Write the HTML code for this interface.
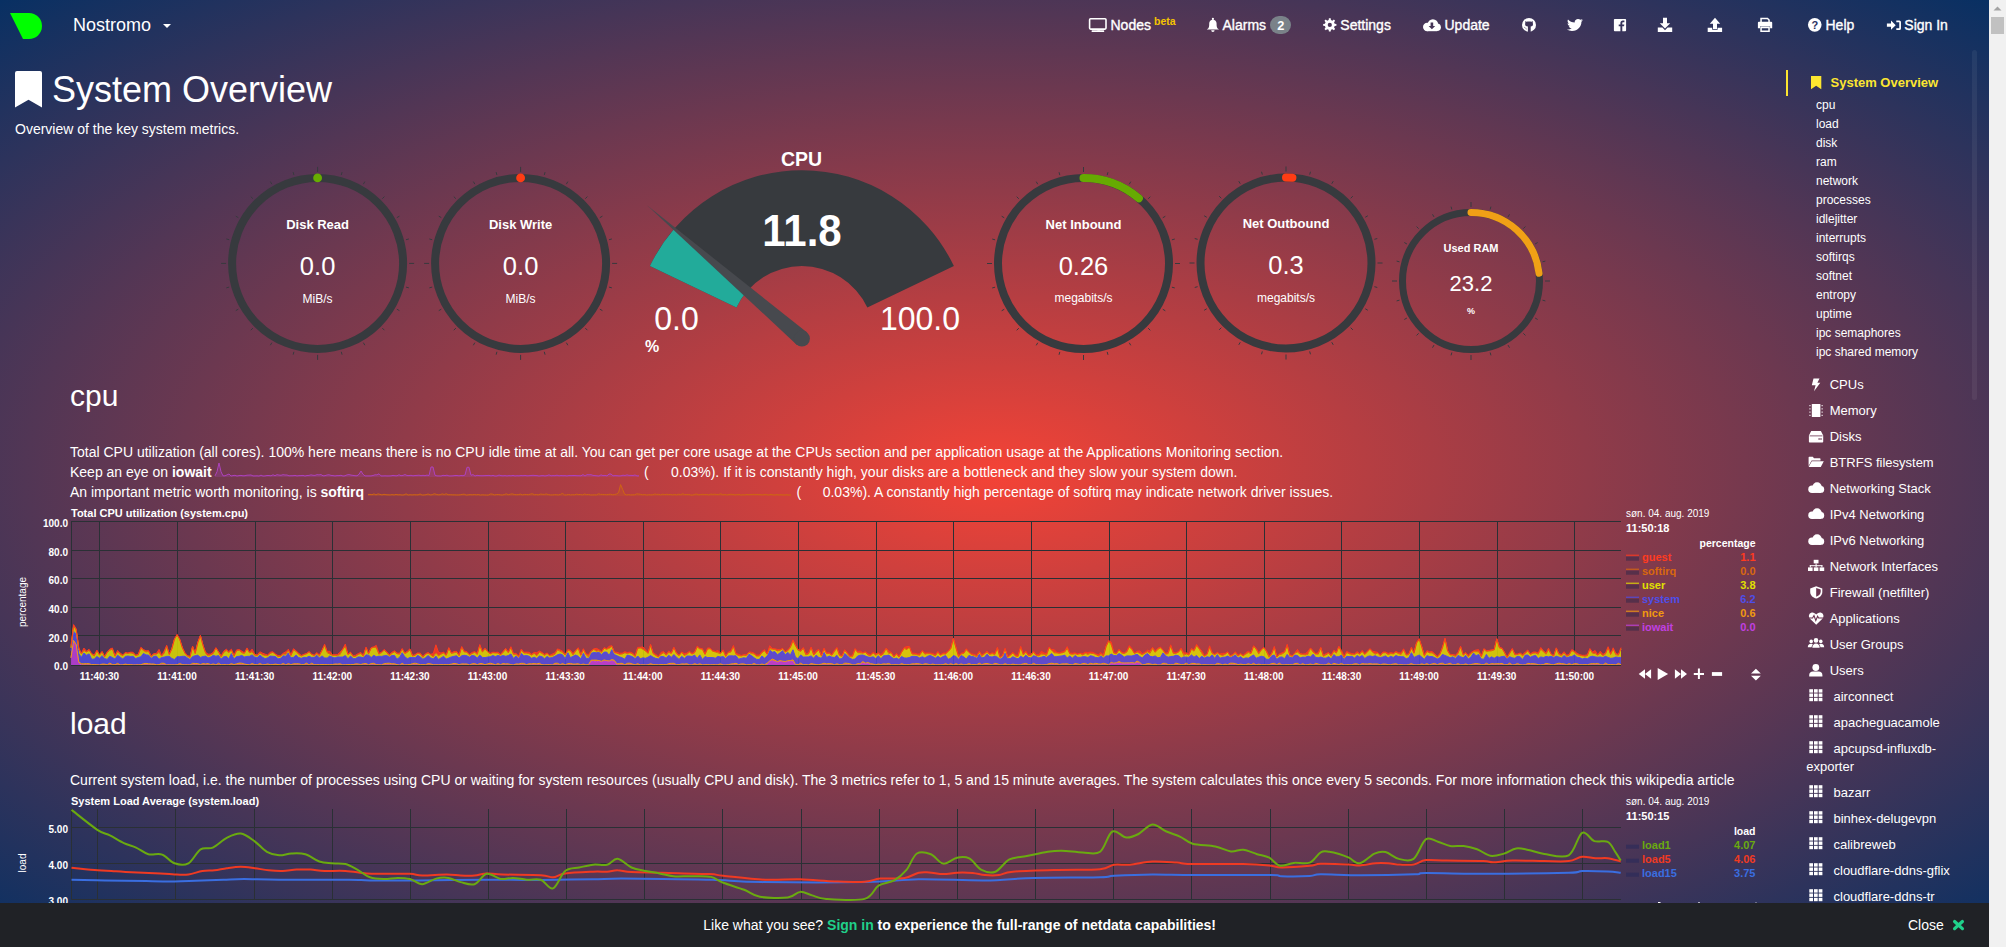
<!DOCTYPE html>
<html><head><meta charset="utf-8"><title>netdata dashboard</title>
<style>
*{margin:0;padding:0;box-sizing:border-box}
html,body{width:2006px;height:947px;overflow:hidden;background:#083063}
body{font-family:"Liberation Sans", sans-serif;position:relative}
#bg{position:absolute;left:0;top:0;width:1989px;height:947px;background:radial-gradient(ellipse at center,#f44336 0%,#083063 100%)}
svg{position:absolute;left:0;top:0;font-family:"Liberation Sans", sans-serif}
</style></head><body>
<div id="bg"></div>
<svg width="2006" height="947" viewBox="0 0 2006 947">
<line x1="317.60" y1="171.90" x2="317.60" y2="166.90" stroke="#373a3e" stroke-width="1"/>
<line x1="341.28" y1="175.02" x2="342.06" y2="172.12" stroke="#373a3e" stroke-width="1"/>
<line x1="363.35" y1="184.16" x2="364.85" y2="181.56" stroke="#373a3e" stroke-width="1"/>
<line x1="382.30" y1="198.70" x2="384.42" y2="196.58" stroke="#373a3e" stroke-width="1"/>
<line x1="396.84" y1="217.65" x2="399.44" y2="216.15" stroke="#373a3e" stroke-width="1"/>
<line x1="405.98" y1="239.72" x2="408.88" y2="238.94" stroke="#373a3e" stroke-width="1"/>
<line x1="409.10" y1="263.40" x2="414.10" y2="263.40" stroke="#373a3e" stroke-width="1"/>
<line x1="405.98" y1="287.08" x2="408.88" y2="287.86" stroke="#373a3e" stroke-width="1"/>
<line x1="396.84" y1="309.15" x2="399.44" y2="310.65" stroke="#373a3e" stroke-width="1"/>
<line x1="382.30" y1="328.10" x2="384.42" y2="330.22" stroke="#373a3e" stroke-width="1"/>
<line x1="363.35" y1="342.64" x2="364.85" y2="345.24" stroke="#373a3e" stroke-width="1"/>
<line x1="341.28" y1="351.78" x2="342.06" y2="354.68" stroke="#373a3e" stroke-width="1"/>
<line x1="317.60" y1="354.90" x2="317.60" y2="359.90" stroke="#373a3e" stroke-width="1"/>
<line x1="293.92" y1="351.78" x2="293.14" y2="354.68" stroke="#373a3e" stroke-width="1"/>
<line x1="271.85" y1="342.64" x2="270.35" y2="345.24" stroke="#373a3e" stroke-width="1"/>
<line x1="252.90" y1="328.10" x2="250.78" y2="330.22" stroke="#373a3e" stroke-width="1"/>
<line x1="238.36" y1="309.15" x2="235.76" y2="310.65" stroke="#373a3e" stroke-width="1"/>
<line x1="229.22" y1="287.08" x2="226.32" y2="287.86" stroke="#373a3e" stroke-width="1"/>
<line x1="226.10" y1="263.40" x2="221.10" y2="263.40" stroke="#373a3e" stroke-width="1"/>
<line x1="229.22" y1="239.72" x2="226.32" y2="238.94" stroke="#373a3e" stroke-width="1"/>
<line x1="238.36" y1="217.65" x2="235.76" y2="216.15" stroke="#373a3e" stroke-width="1"/>
<line x1="252.90" y1="198.70" x2="250.78" y2="196.58" stroke="#373a3e" stroke-width="1"/>
<line x1="271.85" y1="184.16" x2="270.35" y2="181.56" stroke="#373a3e" stroke-width="1"/>
<line x1="293.92" y1="175.02" x2="293.14" y2="172.12" stroke="#373a3e" stroke-width="1"/>
<circle cx="317.6" cy="263.4" r="85.5" fill="none" stroke="#373a3e" stroke-width="8"/>
<circle cx="317.6" cy="177.89999999999998" r="4.4" fill="#68ad02"/>
<text x="317.6" y="229" font-size="13" font-weight="bold" fill="#fff" text-anchor="middle" >Disk Read</text>
<text x="317.6" y="274.5" font-size="25.5" font-weight="normal" fill="#fff" text-anchor="middle" >0.0</text>
<text x="317.6" y="302.5" font-size="12" font-weight="normal" fill="#fff" text-anchor="middle" >MiB/s</text>
<line x1="520.60" y1="171.90" x2="520.60" y2="166.90" stroke="#373a3e" stroke-width="1"/>
<line x1="544.28" y1="175.02" x2="545.06" y2="172.12" stroke="#373a3e" stroke-width="1"/>
<line x1="566.35" y1="184.16" x2="567.85" y2="181.56" stroke="#373a3e" stroke-width="1"/>
<line x1="585.30" y1="198.70" x2="587.42" y2="196.58" stroke="#373a3e" stroke-width="1"/>
<line x1="599.84" y1="217.65" x2="602.44" y2="216.15" stroke="#373a3e" stroke-width="1"/>
<line x1="608.98" y1="239.72" x2="611.88" y2="238.94" stroke="#373a3e" stroke-width="1"/>
<line x1="612.10" y1="263.40" x2="617.10" y2="263.40" stroke="#373a3e" stroke-width="1"/>
<line x1="608.98" y1="287.08" x2="611.88" y2="287.86" stroke="#373a3e" stroke-width="1"/>
<line x1="599.84" y1="309.15" x2="602.44" y2="310.65" stroke="#373a3e" stroke-width="1"/>
<line x1="585.30" y1="328.10" x2="587.42" y2="330.22" stroke="#373a3e" stroke-width="1"/>
<line x1="566.35" y1="342.64" x2="567.85" y2="345.24" stroke="#373a3e" stroke-width="1"/>
<line x1="544.28" y1="351.78" x2="545.06" y2="354.68" stroke="#373a3e" stroke-width="1"/>
<line x1="520.60" y1="354.90" x2="520.60" y2="359.90" stroke="#373a3e" stroke-width="1"/>
<line x1="496.92" y1="351.78" x2="496.14" y2="354.68" stroke="#373a3e" stroke-width="1"/>
<line x1="474.85" y1="342.64" x2="473.35" y2="345.24" stroke="#373a3e" stroke-width="1"/>
<line x1="455.90" y1="328.10" x2="453.78" y2="330.22" stroke="#373a3e" stroke-width="1"/>
<line x1="441.36" y1="309.15" x2="438.76" y2="310.65" stroke="#373a3e" stroke-width="1"/>
<line x1="432.22" y1="287.08" x2="429.32" y2="287.86" stroke="#373a3e" stroke-width="1"/>
<line x1="429.10" y1="263.40" x2="424.10" y2="263.40" stroke="#373a3e" stroke-width="1"/>
<line x1="432.22" y1="239.72" x2="429.32" y2="238.94" stroke="#373a3e" stroke-width="1"/>
<line x1="441.36" y1="217.65" x2="438.76" y2="216.15" stroke="#373a3e" stroke-width="1"/>
<line x1="455.90" y1="198.70" x2="453.78" y2="196.58" stroke="#373a3e" stroke-width="1"/>
<line x1="474.85" y1="184.16" x2="473.35" y2="181.56" stroke="#373a3e" stroke-width="1"/>
<line x1="496.92" y1="175.02" x2="496.14" y2="172.12" stroke="#373a3e" stroke-width="1"/>
<circle cx="520.6" cy="263.4" r="85.5" fill="none" stroke="#373a3e" stroke-width="8"/>
<circle cx="520.6" cy="177.89999999999998" r="4.4" fill="#ff3c14"/>
<text x="520.6" y="229" font-size="13" font-weight="bold" fill="#fff" text-anchor="middle" >Disk Write</text>
<text x="520.6" y="274.5" font-size="25.5" font-weight="normal" fill="#fff" text-anchor="middle" >0.0</text>
<text x="520.6" y="302.5" font-size="12" font-weight="normal" fill="#fff" text-anchor="middle" >MiB/s</text>
<path d="M649.90 266.10 A168.4 168.4 0 0 1 953.90 266.10 L867.34 307.39 A72.5 72.5 0 0 0 736.46 307.39Z" fill="#373a3e"/>
<path d="M649.90 266.10 A168.4 168.4 0 0 1 674.27 228.74 L746.95 291.30 A72.5 72.5 0 0 0 736.46 307.39Z" fill="#22ab9a"/>
<path d="M647.29 205.51 L807.12 332.54 L796.68 344.66Z" fill="#47494e"/>
<circle cx="801.9" cy="338.6" r="8" fill="#47494e"/>
<text x="801.5" y="165.6" font-size="19.5" font-weight="bold" fill="#fff" text-anchor="middle" transform="translate(0 165.6) scale(1 1.08) translate(0 -165.6)">CPU</text>
<text x="802" y="246.4" font-size="42" font-weight="bold" fill="#fff" text-anchor="middle" transform="translate(0 246.4) scale(1 1.05) translate(0 -246.4)">11.8</text>
<text x="676.5" y="330" font-size="32" font-weight="normal" fill="#fff" text-anchor="middle" transform="translate(0 330) scale(1 1.06) translate(0 -330)">0.0</text>
<text x="920" y="330" font-size="32" font-weight="normal" fill="#fff" text-anchor="middle" transform="translate(0 330) scale(1 1.06) translate(0 -330)">100.0</text>
<text x="652" y="352" font-size="16" font-weight="bold" fill="#fff" text-anchor="middle" >%</text>
<line x1="1083.50" y1="172.00" x2="1083.50" y2="167.00" stroke="#373a3e" stroke-width="1"/>
<line x1="1107.18" y1="175.12" x2="1107.96" y2="172.22" stroke="#373a3e" stroke-width="1"/>
<line x1="1129.25" y1="184.26" x2="1130.75" y2="181.66" stroke="#373a3e" stroke-width="1"/>
<line x1="1148.20" y1="198.80" x2="1150.32" y2="196.68" stroke="#373a3e" stroke-width="1"/>
<line x1="1162.74" y1="217.75" x2="1165.34" y2="216.25" stroke="#373a3e" stroke-width="1"/>
<line x1="1171.88" y1="239.82" x2="1174.78" y2="239.04" stroke="#373a3e" stroke-width="1"/>
<line x1="1175.00" y1="263.50" x2="1180.00" y2="263.50" stroke="#373a3e" stroke-width="1"/>
<line x1="1171.88" y1="287.18" x2="1174.78" y2="287.96" stroke="#373a3e" stroke-width="1"/>
<line x1="1162.74" y1="309.25" x2="1165.34" y2="310.75" stroke="#373a3e" stroke-width="1"/>
<line x1="1148.20" y1="328.20" x2="1150.32" y2="330.32" stroke="#373a3e" stroke-width="1"/>
<line x1="1129.25" y1="342.74" x2="1130.75" y2="345.34" stroke="#373a3e" stroke-width="1"/>
<line x1="1107.18" y1="351.88" x2="1107.96" y2="354.78" stroke="#373a3e" stroke-width="1"/>
<line x1="1083.50" y1="355.00" x2="1083.50" y2="360.00" stroke="#373a3e" stroke-width="1"/>
<line x1="1059.82" y1="351.88" x2="1059.04" y2="354.78" stroke="#373a3e" stroke-width="1"/>
<line x1="1037.75" y1="342.74" x2="1036.25" y2="345.34" stroke="#373a3e" stroke-width="1"/>
<line x1="1018.80" y1="328.20" x2="1016.68" y2="330.32" stroke="#373a3e" stroke-width="1"/>
<line x1="1004.26" y1="309.25" x2="1001.66" y2="310.75" stroke="#373a3e" stroke-width="1"/>
<line x1="995.12" y1="287.18" x2="992.22" y2="287.96" stroke="#373a3e" stroke-width="1"/>
<line x1="992.00" y1="263.50" x2="987.00" y2="263.50" stroke="#373a3e" stroke-width="1"/>
<line x1="995.12" y1="239.82" x2="992.22" y2="239.04" stroke="#373a3e" stroke-width="1"/>
<line x1="1004.26" y1="217.75" x2="1001.66" y2="216.25" stroke="#373a3e" stroke-width="1"/>
<line x1="1018.80" y1="198.80" x2="1016.68" y2="196.68" stroke="#373a3e" stroke-width="1"/>
<line x1="1037.75" y1="184.26" x2="1036.25" y2="181.66" stroke="#373a3e" stroke-width="1"/>
<line x1="1059.82" y1="175.12" x2="1059.04" y2="172.22" stroke="#373a3e" stroke-width="1"/>
<circle cx="1083.5" cy="263.5" r="85.5" fill="none" stroke="#373a3e" stroke-width="8"/>
<path d="M1083.5 178.0 A85.5 85.5 0 0 1 1138.82 198.31" fill="none" stroke="#66aa02" stroke-width="8" stroke-linecap="round"/>
<text x="1083.5" y="228.7" font-size="13" font-weight="bold" fill="#fff" text-anchor="middle" >Net Inbound</text>
<text x="1083.5" y="274.5" font-size="25.5" font-weight="normal" fill="#fff" text-anchor="middle" >0.26</text>
<text x="1083.5" y="302.3" font-size="12" font-weight="normal" fill="#fff" text-anchor="middle" >megabits/s</text>
<line x1="1286.00" y1="171.50" x2="1286.00" y2="166.50" stroke="#373a3e" stroke-width="1"/>
<line x1="1309.68" y1="174.62" x2="1310.46" y2="171.72" stroke="#373a3e" stroke-width="1"/>
<line x1="1331.75" y1="183.76" x2="1333.25" y2="181.16" stroke="#373a3e" stroke-width="1"/>
<line x1="1350.70" y1="198.30" x2="1352.82" y2="196.18" stroke="#373a3e" stroke-width="1"/>
<line x1="1365.24" y1="217.25" x2="1367.84" y2="215.75" stroke="#373a3e" stroke-width="1"/>
<line x1="1374.38" y1="239.32" x2="1377.28" y2="238.54" stroke="#373a3e" stroke-width="1"/>
<line x1="1377.50" y1="263.00" x2="1382.50" y2="263.00" stroke="#373a3e" stroke-width="1"/>
<line x1="1374.38" y1="286.68" x2="1377.28" y2="287.46" stroke="#373a3e" stroke-width="1"/>
<line x1="1365.24" y1="308.75" x2="1367.84" y2="310.25" stroke="#373a3e" stroke-width="1"/>
<line x1="1350.70" y1="327.70" x2="1352.82" y2="329.82" stroke="#373a3e" stroke-width="1"/>
<line x1="1331.75" y1="342.24" x2="1333.25" y2="344.84" stroke="#373a3e" stroke-width="1"/>
<line x1="1309.68" y1="351.38" x2="1310.46" y2="354.28" stroke="#373a3e" stroke-width="1"/>
<line x1="1286.00" y1="354.50" x2="1286.00" y2="359.50" stroke="#373a3e" stroke-width="1"/>
<line x1="1262.32" y1="351.38" x2="1261.54" y2="354.28" stroke="#373a3e" stroke-width="1"/>
<line x1="1240.25" y1="342.24" x2="1238.75" y2="344.84" stroke="#373a3e" stroke-width="1"/>
<line x1="1221.30" y1="327.70" x2="1219.18" y2="329.82" stroke="#373a3e" stroke-width="1"/>
<line x1="1206.76" y1="308.75" x2="1204.16" y2="310.25" stroke="#373a3e" stroke-width="1"/>
<line x1="1197.62" y1="286.68" x2="1194.72" y2="287.46" stroke="#373a3e" stroke-width="1"/>
<line x1="1194.50" y1="263.00" x2="1189.50" y2="263.00" stroke="#373a3e" stroke-width="1"/>
<line x1="1197.62" y1="239.32" x2="1194.72" y2="238.54" stroke="#373a3e" stroke-width="1"/>
<line x1="1206.76" y1="217.25" x2="1204.16" y2="215.75" stroke="#373a3e" stroke-width="1"/>
<line x1="1221.30" y1="198.30" x2="1219.18" y2="196.18" stroke="#373a3e" stroke-width="1"/>
<line x1="1240.25" y1="183.76" x2="1238.75" y2="181.16" stroke="#373a3e" stroke-width="1"/>
<line x1="1262.32" y1="174.62" x2="1261.54" y2="171.72" stroke="#373a3e" stroke-width="1"/>
<circle cx="1286" cy="263" r="85.5" fill="none" stroke="#373a3e" stroke-width="8"/>
<path d="M1286 177.5 A85.5 85.5 0 0 1 1292.44 177.74" fill="none" stroke="#ff3c14" stroke-width="8" stroke-linecap="round"/>
<text x="1286" y="227.7" font-size="13" font-weight="bold" fill="#fff" text-anchor="middle" >Net Outbound</text>
<text x="1286" y="274" font-size="25.5" font-weight="normal" fill="#fff" text-anchor="middle" >0.3</text>
<text x="1286" y="301.8" font-size="12" font-weight="normal" fill="#fff" text-anchor="middle" >megabits/s</text>
<line x1="1471.00" y1="207.00" x2="1471.00" y2="202.00" stroke="#373a3e" stroke-width="1"/>
<line x1="1490.15" y1="209.52" x2="1490.93" y2="206.62" stroke="#373a3e" stroke-width="1"/>
<line x1="1508.00" y1="216.91" x2="1509.50" y2="214.32" stroke="#373a3e" stroke-width="1"/>
<line x1="1523.33" y1="228.67" x2="1525.45" y2="226.55" stroke="#373a3e" stroke-width="1"/>
<line x1="1535.09" y1="244.00" x2="1537.68" y2="242.50" stroke="#373a3e" stroke-width="1"/>
<line x1="1542.48" y1="261.85" x2="1545.38" y2="261.07" stroke="#373a3e" stroke-width="1"/>
<line x1="1545.00" y1="281.00" x2="1550.00" y2="281.00" stroke="#373a3e" stroke-width="1"/>
<line x1="1542.48" y1="300.15" x2="1545.38" y2="300.93" stroke="#373a3e" stroke-width="1"/>
<line x1="1535.09" y1="318.00" x2="1537.68" y2="319.50" stroke="#373a3e" stroke-width="1"/>
<line x1="1523.33" y1="333.33" x2="1525.45" y2="335.45" stroke="#373a3e" stroke-width="1"/>
<line x1="1508.00" y1="345.09" x2="1509.50" y2="347.68" stroke="#373a3e" stroke-width="1"/>
<line x1="1490.15" y1="352.48" x2="1490.93" y2="355.38" stroke="#373a3e" stroke-width="1"/>
<line x1="1471.00" y1="355.00" x2="1471.00" y2="360.00" stroke="#373a3e" stroke-width="1"/>
<line x1="1451.85" y1="352.48" x2="1451.07" y2="355.38" stroke="#373a3e" stroke-width="1"/>
<line x1="1434.00" y1="345.09" x2="1432.50" y2="347.68" stroke="#373a3e" stroke-width="1"/>
<line x1="1418.67" y1="333.33" x2="1416.55" y2="335.45" stroke="#373a3e" stroke-width="1"/>
<line x1="1406.91" y1="318.00" x2="1404.32" y2="319.50" stroke="#373a3e" stroke-width="1"/>
<line x1="1399.52" y1="300.15" x2="1396.62" y2="300.93" stroke="#373a3e" stroke-width="1"/>
<line x1="1397.00" y1="281.00" x2="1392.00" y2="281.00" stroke="#373a3e" stroke-width="1"/>
<line x1="1399.52" y1="261.85" x2="1396.62" y2="261.07" stroke="#373a3e" stroke-width="1"/>
<line x1="1406.91" y1="244.00" x2="1404.32" y2="242.50" stroke="#373a3e" stroke-width="1"/>
<line x1="1418.67" y1="228.67" x2="1416.55" y2="226.55" stroke="#373a3e" stroke-width="1"/>
<line x1="1434.00" y1="216.91" x2="1432.50" y2="214.32" stroke="#373a3e" stroke-width="1"/>
<line x1="1451.85" y1="209.52" x2="1451.07" y2="206.62" stroke="#373a3e" stroke-width="1"/>
<circle cx="1471" cy="281" r="68.5" fill="none" stroke="#373a3e" stroke-width="7"/>
<path d="M1471 212.5 A68.5 68.5 0 0 1 1539.06 273.27" fill="none" stroke="#f0a016" stroke-width="7" stroke-linecap="round"/>
<text x="1471" y="252" font-size="11" font-weight="bold" fill="#fff" text-anchor="middle" >Used RAM</text>
<text x="1471" y="291.3" font-size="22" font-weight="normal" fill="#fff" text-anchor="middle" >23.2</text>
<text x="1471" y="314" font-size="9" font-weight="bold" fill="#fff" text-anchor="middle" >%</text>
<path d="M17 71H40A2 2 0 0 1 42 73V107.5L28.5 99.7L15 107.5V73A2 2 0 0 1 17 71Z" fill="#fff"/>
<text x="52" y="102.4" font-size="36" font-weight="normal" fill="#fff" text-anchor="start" >System Overview</text>
<text x="15" y="134.1" font-size="14" font-weight="normal" fill="#fff" text-anchor="start" >Overview of the key system metrics.</text>
<text x="70" y="406" font-size="30" font-weight="normal" fill="#fff" text-anchor="start" >cpu</text>
<text x="70" y="456.8" font-size="14" font-weight="normal" fill="#fff" text-anchor="start" >Total CPU utilization (all cores). 100% here means there is no CPU idle time at all. You can get per core usage at the CPUs section and per application usage at the Applications Monitoring section.</text>
<text x="70" y="476.8" font-size="14" fill="#fff">Keep an eye on <tspan font-weight="bold">iowait</tspan></text>
<polygon points="215.0,475.9 217.0,471.7 219.0,463.0 221.0,471.7 223.0,475.8 225.0,475.8 227.0,474.9 229.0,474.0 231.0,476.0 233.0,475.6 235.0,475.3 237.0,476.0 239.0,475.6 241.0,475.4 243.0,475.8 245.0,475.7 247.0,475.2 249.0,475.1 251.0,475.0 253.0,475.9 255.0,475.9 257.0,475.8 259.0,476.0 261.0,475.2 263.0,476.0 265.0,475.9 267.0,475.5 269.0,475.5 271.0,475.8 273.0,474.8 275.0,475.7 277.0,474.7 279.0,475.1 281.0,475.3 283.0,474.7 285.0,475.0 287.0,475.0 289.0,475.8 291.0,475.7 293.0,475.7 295.0,475.4 297.0,475.9 299.0,475.6 301.0,475.6 303.0,475.4 305.0,476.0 307.0,475.5 309.0,475.4 311.0,474.9 313.0,475.3 315.0,475.4 317.0,474.7 319.0,474.9 321.0,474.6 323.0,475.8 325.0,475.7 327.0,475.0 329.0,474.8 331.0,475.4 333.0,475.6 335.0,475.9 337.0,475.6 339.0,475.6 341.0,475.3 343.0,476.0 345.0,475.8 347.0,474.9 349.0,474.6 351.0,475.1 353.0,475.4 355.0,475.7 357.0,475.8 359.0,474.3 361.0,471.0 363.0,474.3 365.0,475.9 367.0,475.9 369.0,475.9 371.0,475.9 373.0,475.5 375.0,474.8 377.0,474.9 379.0,473.8 381.0,475.9 383.0,475.9 385.0,475.8 387.0,475.9 389.0,475.9 391.0,475.8 393.0,475.4 395.0,475.7 397.0,475.8 399.0,474.8 401.0,475.7 403.0,475.4 405.0,474.6 407.0,475.5 409.0,475.6 411.0,475.3 413.0,475.8 415.0,475.5 417.0,475.4 419.0,475.2 421.0,475.7 423.0,475.3 425.0,475.7 427.0,475.1 429.0,475.6 431.0,467.0 433.0,467.0 435.0,475.3 437.0,475.9 439.0,475.9 441.0,476.0 443.0,475.3 445.0,475.6 447.0,475.2 449.0,475.9 451.0,475.9 453.0,475.8 455.0,475.5 457.0,475.5 459.0,475.8 461.0,475.5 463.0,475.7 465.0,475.1 467.0,467.3 469.0,467.3 471.0,475.3 473.0,474.6 475.0,476.0 477.0,475.3 479.0,475.6 481.0,475.7 483.0,475.7 485.0,475.6 487.0,475.5 489.0,475.4 491.0,475.8 493.0,475.4 495.0,476.0 497.0,475.9 499.0,475.1 501.0,475.6 503.0,475.8 505.0,475.6 507.0,475.9 509.0,475.6 511.0,475.8 513.0,475.4 515.0,475.9 517.0,475.7 519.0,475.8 521.0,475.5 523.0,475.7 525.0,475.4 527.0,475.8 529.0,475.7 531.0,475.5 533.0,475.3 535.0,475.5 537.0,475.6 539.0,476.0 541.0,475.7 543.0,475.6 545.0,475.9 547.0,475.6 549.0,474.9 551.0,475.8 553.0,475.6 555.0,475.7 557.0,475.2 559.0,475.8 561.0,475.5 563.0,475.7 565.0,475.6 567.0,475.9 569.0,475.5 571.0,475.6 573.0,475.5 575.0,475.5 577.0,475.7 579.0,475.7 581.0,475.8 583.0,474.6 585.0,476.0 587.0,474.7 589.0,474.8 591.0,474.7 593.0,475.4 595.0,475.6 597.0,475.8 599.0,476.0 601.0,474.9 603.0,475.6 605.0,475.4 607.0,475.9 609.0,474.0 611.0,474.0 613.0,475.8 615.0,475.6 617.0,475.7 619.0,475.9 621.0,475.8 623.0,475.2 625.0,475.5 627.0,474.9 629.0,475.4 631.0,475.4 633.0,475.5 635.0,475.0 637.0,475.9 639.0,475.8 639.0,477.0 215.0,477.0" fill="#ad42bd" fill-opacity="0.25"/><polyline points="215.0,475.9 217.0,471.7 219.0,463.0 221.0,471.7 223.0,475.8 225.0,475.8 227.0,474.9 229.0,474.0 231.0,476.0 233.0,475.6 235.0,475.3 237.0,476.0 239.0,475.6 241.0,475.4 243.0,475.8 245.0,475.7 247.0,475.2 249.0,475.1 251.0,475.0 253.0,475.9 255.0,475.9 257.0,475.8 259.0,476.0 261.0,475.2 263.0,476.0 265.0,475.9 267.0,475.5 269.0,475.5 271.0,475.8 273.0,474.8 275.0,475.7 277.0,474.7 279.0,475.1 281.0,475.3 283.0,474.7 285.0,475.0 287.0,475.0 289.0,475.8 291.0,475.7 293.0,475.7 295.0,475.4 297.0,475.9 299.0,475.6 301.0,475.6 303.0,475.4 305.0,476.0 307.0,475.5 309.0,475.4 311.0,474.9 313.0,475.3 315.0,475.4 317.0,474.7 319.0,474.9 321.0,474.6 323.0,475.8 325.0,475.7 327.0,475.0 329.0,474.8 331.0,475.4 333.0,475.6 335.0,475.9 337.0,475.6 339.0,475.6 341.0,475.3 343.0,476.0 345.0,475.8 347.0,474.9 349.0,474.6 351.0,475.1 353.0,475.4 355.0,475.7 357.0,475.8 359.0,474.3 361.0,471.0 363.0,474.3 365.0,475.9 367.0,475.9 369.0,475.9 371.0,475.9 373.0,475.5 375.0,474.8 377.0,474.9 379.0,473.8 381.0,475.9 383.0,475.9 385.0,475.8 387.0,475.9 389.0,475.9 391.0,475.8 393.0,475.4 395.0,475.7 397.0,475.8 399.0,474.8 401.0,475.7 403.0,475.4 405.0,474.6 407.0,475.5 409.0,475.6 411.0,475.3 413.0,475.8 415.0,475.5 417.0,475.4 419.0,475.2 421.0,475.7 423.0,475.3 425.0,475.7 427.0,475.1 429.0,475.6 431.0,467.0 433.0,467.0 435.0,475.3 437.0,475.9 439.0,475.9 441.0,476.0 443.0,475.3 445.0,475.6 447.0,475.2 449.0,475.9 451.0,475.9 453.0,475.8 455.0,475.5 457.0,475.5 459.0,475.8 461.0,475.5 463.0,475.7 465.0,475.1 467.0,467.3 469.0,467.3 471.0,475.3 473.0,474.6 475.0,476.0 477.0,475.3 479.0,475.6 481.0,475.7 483.0,475.7 485.0,475.6 487.0,475.5 489.0,475.4 491.0,475.8 493.0,475.4 495.0,476.0 497.0,475.9 499.0,475.1 501.0,475.6 503.0,475.8 505.0,475.6 507.0,475.9 509.0,475.6 511.0,475.8 513.0,475.4 515.0,475.9 517.0,475.7 519.0,475.8 521.0,475.5 523.0,475.7 525.0,475.4 527.0,475.8 529.0,475.7 531.0,475.5 533.0,475.3 535.0,475.5 537.0,475.6 539.0,476.0 541.0,475.7 543.0,475.6 545.0,475.9 547.0,475.6 549.0,474.9 551.0,475.8 553.0,475.6 555.0,475.7 557.0,475.2 559.0,475.8 561.0,475.5 563.0,475.7 565.0,475.6 567.0,475.9 569.0,475.5 571.0,475.6 573.0,475.5 575.0,475.5 577.0,475.7 579.0,475.7 581.0,475.8 583.0,474.6 585.0,476.0 587.0,474.7 589.0,474.8 591.0,474.7 593.0,475.4 595.0,475.6 597.0,475.8 599.0,476.0 601.0,474.9 603.0,475.6 605.0,475.4 607.0,475.9 609.0,474.0 611.0,474.0 613.0,475.8 615.0,475.6 617.0,475.7 619.0,475.9 621.0,475.8 623.0,475.2 625.0,475.5 627.0,474.9 629.0,475.4 631.0,475.4 633.0,475.5 635.0,475.0 637.0,475.9 639.0,475.8" fill="none" stroke="#ad42bd" stroke-width="1"/>
<text x="643.9" y="476.8" font-size="14" font-weight="normal" fill="#fff" text-anchor="start" >(</text>
<text x="671" y="476.8" font-size="14" font-weight="normal" fill="#fff" text-anchor="start" >0.03%). If it is constantly high, your disks are a bottleneck and they slow your system down.</text>
<text x="70" y="496.8" font-size="14" fill="#fff">An important metric worth monitoring, is <tspan font-weight="bold">softirq</tspan></text>
<polygon points="368.0,494.4 370.0,494.4 372.0,494.7 374.0,493.9 376.0,494.9 378.0,493.9 380.0,494.4 382.0,494.9 384.0,494.3 386.0,494.7 388.0,494.8 390.1,494.9 392.1,494.6 394.1,494.9 396.1,494.4 398.1,494.8 400.1,494.7 402.1,495.0 404.1,494.8 406.1,493.9 408.1,495.0 410.1,494.7 412.1,494.9 414.1,494.7 416.1,494.8 418.1,494.8 420.1,494.0 422.1,495.0 424.1,494.9 426.1,494.7 428.1,494.0 430.1,494.9 432.2,494.7 434.2,493.8 436.2,494.3 438.2,494.8 440.2,494.7 442.2,493.9 444.2,494.5 446.2,493.8 448.2,494.7 450.2,494.7 452.2,494.8 454.2,494.8 456.2,494.9 458.2,494.9 460.2,494.8 462.2,494.4 464.2,494.2 466.2,495.0 468.2,494.8 470.2,494.6 472.2,494.8 474.3,494.5 476.3,494.8 478.3,494.5 480.3,495.0 482.3,494.8 484.3,494.9 486.3,495.0 488.3,495.0 490.3,494.0 492.3,494.1 494.3,494.9 496.3,494.6 498.3,494.5 500.3,494.8 502.3,495.0 504.3,494.5 506.3,493.9 508.3,494.7 510.3,494.2 512.3,493.9 514.3,494.5 516.4,494.7 518.4,494.6 520.4,494.1 522.4,494.9 524.4,494.4 526.4,494.5 528.4,494.7 530.4,494.1 532.4,493.8 534.4,494.7 536.4,494.6 538.4,494.8 540.4,494.1 542.4,494.3 544.4,494.4 546.4,494.0 548.4,494.6 550.4,494.9 552.4,494.9 554.4,494.7 556.4,494.7 558.5,494.9 560.5,494.4 562.5,493.4 564.5,494.9 566.5,494.9 568.5,494.4 570.5,494.9 572.5,494.7 574.5,494.8 576.5,494.2 578.5,494.5 580.5,494.5 582.5,494.9 584.5,494.0 586.5,494.6 588.5,494.4 590.5,494.9 592.5,494.9 594.5,494.8 596.5,494.9 598.5,493.8 600.5,494.4 602.6,494.4 604.6,494.6 606.6,494.7 608.6,494.4 610.6,494.2 612.6,494.8 614.6,494.5 616.6,494.0 618.6,492.6 620.6,484.6 622.6,489.4 624.6,494.2 626.6,494.9 628.6,494.6 630.6,494.9 632.6,494.8 634.6,494.8 636.6,493.9 638.6,494.0 640.6,494.3 642.6,494.8 644.7,494.5 646.7,495.0 648.7,494.7 650.7,494.8 652.7,494.8 654.7,494.0 656.7,494.4 658.7,494.3 660.7,494.9 662.7,494.2 664.7,494.6 666.7,494.3 668.7,494.5 670.7,494.4 672.7,494.9 674.7,494.4 676.7,494.9 678.7,494.2 680.7,494.7 682.7,493.8 684.7,494.6 686.8,494.5 688.8,494.4 690.8,495.0 692.8,495.0 694.8,494.3 696.8,494.1 698.8,494.8 700.8,494.5 702.8,494.3 704.8,494.6 706.8,494.4 708.8,494.9 710.8,494.1 712.8,494.4 714.8,494.2 716.8,494.5 718.8,494.4 720.8,493.8 722.8,494.8 724.8,494.4 726.8,494.9 728.9,494.5 730.9,494.2 732.9,494.5 734.9,494.8 736.9,494.7 738.9,494.3 740.9,495.0 742.9,494.7 744.9,494.9 746.9,494.4 748.9,494.7 750.9,494.5 752.9,494.4 754.9,494.4 756.9,494.5 758.9,494.4 760.9,494.7 762.9,494.9 764.9,494.3 766.9,494.7 768.9,494.9 771.0,494.3 773.0,494.9 775.0,494.9 777.0,494.6 779.0,494.9 781.0,494.7 783.0,494.9 785.0,494.9 787.0,494.7 789.0,495.0 791.0,494.9 791.0,496.0 368.0,496.0" fill="#cf6414" fill-opacity="0.25"/><polyline points="368.0,494.4 370.0,494.4 372.0,494.7 374.0,493.9 376.0,494.9 378.0,493.9 380.0,494.4 382.0,494.9 384.0,494.3 386.0,494.7 388.0,494.8 390.1,494.9 392.1,494.6 394.1,494.9 396.1,494.4 398.1,494.8 400.1,494.7 402.1,495.0 404.1,494.8 406.1,493.9 408.1,495.0 410.1,494.7 412.1,494.9 414.1,494.7 416.1,494.8 418.1,494.8 420.1,494.0 422.1,495.0 424.1,494.9 426.1,494.7 428.1,494.0 430.1,494.9 432.2,494.7 434.2,493.8 436.2,494.3 438.2,494.8 440.2,494.7 442.2,493.9 444.2,494.5 446.2,493.8 448.2,494.7 450.2,494.7 452.2,494.8 454.2,494.8 456.2,494.9 458.2,494.9 460.2,494.8 462.2,494.4 464.2,494.2 466.2,495.0 468.2,494.8 470.2,494.6 472.2,494.8 474.3,494.5 476.3,494.8 478.3,494.5 480.3,495.0 482.3,494.8 484.3,494.9 486.3,495.0 488.3,495.0 490.3,494.0 492.3,494.1 494.3,494.9 496.3,494.6 498.3,494.5 500.3,494.8 502.3,495.0 504.3,494.5 506.3,493.9 508.3,494.7 510.3,494.2 512.3,493.9 514.3,494.5 516.4,494.7 518.4,494.6 520.4,494.1 522.4,494.9 524.4,494.4 526.4,494.5 528.4,494.7 530.4,494.1 532.4,493.8 534.4,494.7 536.4,494.6 538.4,494.8 540.4,494.1 542.4,494.3 544.4,494.4 546.4,494.0 548.4,494.6 550.4,494.9 552.4,494.9 554.4,494.7 556.4,494.7 558.5,494.9 560.5,494.4 562.5,493.4 564.5,494.9 566.5,494.9 568.5,494.4 570.5,494.9 572.5,494.7 574.5,494.8 576.5,494.2 578.5,494.5 580.5,494.5 582.5,494.9 584.5,494.0 586.5,494.6 588.5,494.4 590.5,494.9 592.5,494.9 594.5,494.8 596.5,494.9 598.5,493.8 600.5,494.4 602.6,494.4 604.6,494.6 606.6,494.7 608.6,494.4 610.6,494.2 612.6,494.8 614.6,494.5 616.6,494.0 618.6,492.6 620.6,484.6 622.6,489.4 624.6,494.2 626.6,494.9 628.6,494.6 630.6,494.9 632.6,494.8 634.6,494.8 636.6,493.9 638.6,494.0 640.6,494.3 642.6,494.8 644.7,494.5 646.7,495.0 648.7,494.7 650.7,494.8 652.7,494.8 654.7,494.0 656.7,494.4 658.7,494.3 660.7,494.9 662.7,494.2 664.7,494.6 666.7,494.3 668.7,494.5 670.7,494.4 672.7,494.9 674.7,494.4 676.7,494.9 678.7,494.2 680.7,494.7 682.7,493.8 684.7,494.6 686.8,494.5 688.8,494.4 690.8,495.0 692.8,495.0 694.8,494.3 696.8,494.1 698.8,494.8 700.8,494.5 702.8,494.3 704.8,494.6 706.8,494.4 708.8,494.9 710.8,494.1 712.8,494.4 714.8,494.2 716.8,494.5 718.8,494.4 720.8,493.8 722.8,494.8 724.8,494.4 726.8,494.9 728.9,494.5 730.9,494.2 732.9,494.5 734.9,494.8 736.9,494.7 738.9,494.3 740.9,495.0 742.9,494.7 744.9,494.9 746.9,494.4 748.9,494.7 750.9,494.5 752.9,494.4 754.9,494.4 756.9,494.5 758.9,494.4 760.9,494.7 762.9,494.9 764.9,494.3 766.9,494.7 768.9,494.9 771.0,494.3 773.0,494.9 775.0,494.9 777.0,494.6 779.0,494.9 781.0,494.7 783.0,494.9 785.0,494.9 787.0,494.7 789.0,495.0 791.0,494.9" fill="none" stroke="#cf6414" stroke-width="1"/>
<text x="796.4" y="496.8" font-size="14" font-weight="normal" fill="#fff" text-anchor="start" >(</text>
<text x="822.7" y="496.8" font-size="14" font-weight="normal" fill="#fff" text-anchor="start" >0.03%). A constantly high percentage of softirq may indicate network driver issues.</text>
<path d="M1638.7 674L1645 669.2V678.8Z M1645 674L1651.1 669.2V678.8Z" fill="#fff"/>
<path d="M1657.7 668V680L1668.1 674Z" fill="#fff"/>
<path d="M1674.9 669.2V678.8L1681 674Z M1681 669.2V678.8L1687 674Z" fill="#fff"/>
<path d="M1697.9 668.6H1699.9V672.9H1704V674.9H1699.9V679.1H1697.9V674.9H1693.8V672.9H1697.9Z" fill="#fff"/>
<rect x="1711.9" y="672.1" width="10.2" height="3.8" fill="#fff"/>
<path d="M1751 673.4L1755.9 668.8L1760.8 673.4Z M1751 675.8H1760.8L1755.9 680.6Z" fill="#fff"/>
<text x="70" y="734" font-size="30" font-weight="normal" fill="#fff" text-anchor="start" >load</text>
<text x="70" y="784.8" font-size="14" font-weight="normal" fill="#fff" text-anchor="start" >Current system load, i.e. the number of processes using CPU or waiting for system resources (usually CPU and disk). The 3 metrics refer to 1, 5 and 15 minute averages. The system calculates this once every 5 seconds. For more information check this wikipedia article</text>
<line x1="71.0" y1="521.5" x2="1621.0" y2="521.5" stroke="#2a3035" stroke-width="1"/>
<line x1="71.0" y1="550.5" x2="1621.0" y2="550.5" stroke="#2a3035" stroke-width="1"/>
<line x1="71.0" y1="578.5" x2="1621.0" y2="578.5" stroke="#2a3035" stroke-width="1"/>
<line x1="71.0" y1="607.5" x2="1621.0" y2="607.5" stroke="#2a3035" stroke-width="1"/>
<line x1="71.0" y1="635.5" x2="1621.0" y2="635.5" stroke="#2a3035" stroke-width="1"/>
<text x="68" y="526.8" font-size="10" font-weight="bold" fill="#fff" text-anchor="end" >100.0</text>
<text x="68" y="555.5" font-size="10" font-weight="bold" fill="#fff" text-anchor="end" >80.0</text>
<text x="68" y="584.2" font-size="10" font-weight="bold" fill="#fff" text-anchor="end" >60.0</text>
<text x="68" y="612.9" font-size="10" font-weight="bold" fill="#fff" text-anchor="end" >40.0</text>
<text x="68" y="641.6" font-size="10" font-weight="bold" fill="#fff" text-anchor="end" >20.0</text>
<text x="68" y="670.3" font-size="10" font-weight="bold" fill="#fff" text-anchor="end" >0.0</text>
<line x1="99.5" y1="521.5" x2="99.5" y2="665.0" stroke="#2a3035" stroke-width="1"/>
<text x="99.4" y="679.5" font-size="10" font-weight="bold" fill="#fff" text-anchor="middle" >11:40:30</text>
<line x1="177.5" y1="521.5" x2="177.5" y2="665.0" stroke="#2a3035" stroke-width="1"/>
<text x="177.0" y="679.5" font-size="10" font-weight="bold" fill="#fff" text-anchor="middle" >11:41:00</text>
<line x1="255.5" y1="521.5" x2="255.5" y2="665.0" stroke="#2a3035" stroke-width="1"/>
<text x="254.7" y="679.5" font-size="10" font-weight="bold" fill="#fff" text-anchor="middle" >11:41:30</text>
<line x1="332.5" y1="521.5" x2="332.5" y2="665.0" stroke="#2a3035" stroke-width="1"/>
<text x="332.3" y="679.5" font-size="10" font-weight="bold" fill="#fff" text-anchor="middle" >11:42:00</text>
<line x1="410.5" y1="521.5" x2="410.5" y2="665.0" stroke="#2a3035" stroke-width="1"/>
<text x="409.9" y="679.5" font-size="10" font-weight="bold" fill="#fff" text-anchor="middle" >11:42:30</text>
<line x1="488.5" y1="521.5" x2="488.5" y2="665.0" stroke="#2a3035" stroke-width="1"/>
<text x="487.5" y="679.5" font-size="10" font-weight="bold" fill="#fff" text-anchor="middle" >11:43:00</text>
<line x1="565.5" y1="521.5" x2="565.5" y2="665.0" stroke="#2a3035" stroke-width="1"/>
<text x="565.2" y="679.5" font-size="10" font-weight="bold" fill="#fff" text-anchor="middle" >11:43:30</text>
<line x1="643.5" y1="521.5" x2="643.5" y2="665.0" stroke="#2a3035" stroke-width="1"/>
<text x="642.8" y="679.5" font-size="10" font-weight="bold" fill="#fff" text-anchor="middle" >11:44:00</text>
<line x1="720.5" y1="521.5" x2="720.5" y2="665.0" stroke="#2a3035" stroke-width="1"/>
<text x="720.4" y="679.5" font-size="10" font-weight="bold" fill="#fff" text-anchor="middle" >11:44:30</text>
<line x1="798.5" y1="521.5" x2="798.5" y2="665.0" stroke="#2a3035" stroke-width="1"/>
<text x="798.1" y="679.5" font-size="10" font-weight="bold" fill="#fff" text-anchor="middle" >11:45:00</text>
<line x1="876.5" y1="521.5" x2="876.5" y2="665.0" stroke="#2a3035" stroke-width="1"/>
<text x="875.7" y="679.5" font-size="10" font-weight="bold" fill="#fff" text-anchor="middle" >11:45:30</text>
<line x1="953.5" y1="521.5" x2="953.5" y2="665.0" stroke="#2a3035" stroke-width="1"/>
<text x="953.3" y="679.5" font-size="10" font-weight="bold" fill="#fff" text-anchor="middle" >11:46:00</text>
<line x1="1031.5" y1="521.5" x2="1031.5" y2="665.0" stroke="#2a3035" stroke-width="1"/>
<text x="1031.0" y="679.5" font-size="10" font-weight="bold" fill="#fff" text-anchor="middle" >11:46:30</text>
<line x1="1109.5" y1="521.5" x2="1109.5" y2="665.0" stroke="#2a3035" stroke-width="1"/>
<text x="1108.6" y="679.5" font-size="10" font-weight="bold" fill="#fff" text-anchor="middle" >11:47:00</text>
<line x1="1186.5" y1="521.5" x2="1186.5" y2="665.0" stroke="#2a3035" stroke-width="1"/>
<text x="1186.2" y="679.5" font-size="10" font-weight="bold" fill="#fff" text-anchor="middle" >11:47:30</text>
<line x1="1264.5" y1="521.5" x2="1264.5" y2="665.0" stroke="#2a3035" stroke-width="1"/>
<text x="1263.8" y="679.5" font-size="10" font-weight="bold" fill="#fff" text-anchor="middle" >11:48:00</text>
<line x1="1341.5" y1="521.5" x2="1341.5" y2="665.0" stroke="#2a3035" stroke-width="1"/>
<text x="1341.5" y="679.5" font-size="10" font-weight="bold" fill="#fff" text-anchor="middle" >11:48:30</text>
<line x1="1419.5" y1="521.5" x2="1419.5" y2="665.0" stroke="#2a3035" stroke-width="1"/>
<text x="1419.1" y="679.5" font-size="10" font-weight="bold" fill="#fff" text-anchor="middle" >11:49:00</text>
<line x1="1497.5" y1="521.5" x2="1497.5" y2="665.0" stroke="#2a3035" stroke-width="1"/>
<text x="1496.7" y="679.5" font-size="10" font-weight="bold" fill="#fff" text-anchor="middle" >11:49:30</text>
<line x1="1574.5" y1="521.5" x2="1574.5" y2="665.0" stroke="#2a3035" stroke-width="1"/>
<text x="1574.4" y="679.5" font-size="10" font-weight="bold" fill="#fff" text-anchor="middle" >11:50:00</text>
<line x1="71.5" y1="521.5" x2="71.5" y2="666" stroke="#2a3035" stroke-width="1"/>
<polygon points="71.0,657.8 73.6,640.6 76.2,644.9 78.8,663.6 81.4,665.0 83.9,665.0 86.5,665.0 89.1,665.0 91.7,665.0 94.3,665.0 96.9,665.0 99.5,665.0 102.1,665.0 104.6,665.0 107.2,665.0 109.8,665.0 112.4,665.0 115.0,665.0 117.6,665.0 120.2,665.0 122.8,665.0 125.3,665.0 127.9,665.0 130.5,665.0 133.1,665.0 135.7,665.0 138.3,665.0 140.9,665.0 143.5,665.0 146.0,665.0 148.6,665.0 151.2,665.0 153.8,665.0 156.4,665.0 159.0,665.0 161.6,665.0 164.2,665.0 166.7,665.0 169.3,665.0 171.9,665.0 174.5,665.0 177.1,665.0 179.7,665.0 182.3,665.0 184.9,665.0 187.4,665.0 190.0,665.0 192.6,665.0 195.2,665.0 197.8,665.0 200.4,665.0 203.0,665.0 205.6,665.0 208.1,665.0 210.7,665.0 213.3,665.0 215.9,665.0 218.5,665.0 221.1,665.0 223.7,665.0 226.3,665.0 228.8,665.0 231.4,665.0 234.0,665.0 236.6,665.0 239.2,665.0 241.8,665.0 244.4,665.0 247.0,665.0 249.5,665.0 252.1,665.0 254.7,665.0 257.3,665.0 259.9,665.0 262.5,665.0 265.1,665.0 267.7,665.0 270.2,665.0 272.8,665.0 275.4,665.0 278.0,665.0 280.6,665.0 283.2,665.0 285.8,665.0 288.4,665.0 290.9,665.0 293.5,665.0 296.1,665.0 298.7,665.0 301.3,665.0 303.9,665.0 306.5,665.0 309.1,665.0 311.7,665.0 314.2,665.0 316.8,665.0 319.4,665.0 322.0,665.0 324.6,665.0 327.2,665.0 329.8,665.0 332.4,665.0 334.9,665.0 337.5,665.0 340.1,665.0 342.7,665.0 345.3,665.0 347.9,665.0 350.5,665.0 353.1,665.0 355.6,665.0 358.2,665.0 360.8,665.0 363.4,665.0 366.0,665.0 368.6,665.0 371.2,665.0 373.8,665.0 376.3,665.0 378.9,665.0 381.5,665.0 384.1,665.0 386.7,665.0 389.3,665.0 391.9,665.0 394.5,665.0 397.0,665.0 399.6,665.0 402.2,665.0 404.8,665.0 407.4,665.0 410.0,665.0 412.6,665.0 415.2,665.0 417.7,665.0 420.3,665.0 422.9,665.0 425.5,665.0 428.1,665.0 430.7,665.0 433.3,665.0 435.9,665.0 438.4,665.0 441.0,665.0 443.6,665.0 446.2,665.0 448.8,665.0 451.4,665.0 454.0,665.0 456.6,665.0 459.1,665.0 461.7,665.0 464.3,665.0 466.9,665.0 469.5,665.0 472.1,665.0 474.7,665.0 477.3,665.0 479.8,665.0 482.4,665.0 485.0,665.0 487.6,665.0 490.2,665.0 492.8,665.0 495.4,665.0 498.0,665.0 500.5,665.0 503.1,665.0 505.7,665.0 508.3,665.0 510.9,665.0 513.5,665.0 516.1,665.0 518.7,665.0 521.3,665.0 523.8,665.0 526.4,665.0 529.0,665.0 531.6,665.0 534.2,665.0 536.8,665.0 539.4,665.0 542.0,665.0 544.5,665.0 547.1,665.0 549.7,665.0 552.3,665.0 554.9,665.0 557.5,665.0 560.1,665.0 562.7,665.0 565.2,665.0 567.8,665.0 570.4,665.0 573.0,665.0 575.6,665.0 578.2,665.0 580.8,665.0 583.4,665.0 585.9,665.0 588.5,665.0 591.1,661.2 593.7,661.2 596.3,661.8 598.9,661.0 601.5,661.6 604.1,660.9 606.6,661.0 609.2,661.1 611.8,660.9 614.4,661.4 617.0,665.0 619.6,665.0 622.2,665.0 624.8,665.0 627.3,665.0 629.9,665.0 632.5,665.0 635.1,665.0 637.7,665.0 640.3,665.0 642.9,665.0 645.5,665.0 648.0,665.0 650.6,665.0 653.2,665.0 655.8,665.0 658.4,665.0 661.0,665.0 663.6,665.0 666.2,665.0 668.7,665.0 671.3,665.0 673.9,665.0 676.5,665.0 679.1,665.0 681.7,665.0 684.3,665.0 686.9,665.0 689.4,665.0 692.0,665.0 694.6,665.0 697.2,665.0 699.8,665.0 702.4,665.0 705.0,665.0 707.6,665.0 710.1,665.0 712.7,665.0 715.3,665.0 717.9,665.0 720.5,665.0 723.1,665.0 725.7,665.0 728.3,665.0 730.8,665.0 733.4,665.0 736.0,665.0 738.6,665.0 741.2,665.0 743.8,665.0 746.4,665.0 749.0,665.0 751.6,665.0 754.1,665.0 756.7,665.0 759.3,665.0 761.9,665.0 764.5,665.0 767.1,665.0 769.7,661.1 772.3,660.8 774.8,661.7 777.4,661.9 780.0,661.5 782.6,661.3 785.2,661.8 787.8,661.7 790.4,660.9 793.0,661.5 795.5,665.0 798.1,665.0 800.7,665.0 803.3,665.0 805.9,665.0 808.5,665.0 811.1,665.0 813.7,665.0 816.2,665.0 818.8,665.0 821.4,665.0 824.0,665.0 826.6,665.0 829.2,665.0 831.8,665.0 834.4,665.0 836.9,665.0 839.5,665.0 842.1,665.0 844.7,665.0 847.3,665.0 849.9,665.0 852.5,665.0 855.1,665.0 857.6,665.0 860.2,664.2 862.8,663.2 865.4,663.5 868.0,663.5 870.6,665.0 873.2,665.0 875.8,665.0 878.3,665.0 880.9,665.0 883.5,665.0 886.1,665.0 888.7,665.0 891.3,665.0 893.9,665.0 896.5,665.0 899.0,665.0 901.6,665.0 904.2,665.0 906.8,665.0 909.4,665.0 912.0,665.0 914.6,665.0 917.2,665.0 919.7,665.0 922.3,665.0 924.9,665.0 927.5,665.0 930.1,665.0 932.7,665.0 935.3,665.0 937.9,665.0 940.4,665.0 943.0,665.0 945.6,665.0 948.2,665.0 950.8,665.0 953.4,665.0 956.0,665.0 958.6,665.0 961.2,665.0 963.7,665.0 966.3,665.0 968.9,665.0 971.5,665.0 974.1,665.0 976.7,665.0 979.3,665.0 981.9,665.0 984.4,665.0 987.0,665.0 989.6,665.0 992.2,665.0 994.8,665.0 997.4,665.0 1000.0,665.0 1002.6,665.0 1005.1,665.0 1007.7,665.0 1010.3,665.0 1012.9,665.0 1015.5,665.0 1018.1,665.0 1020.7,665.0 1023.3,665.0 1025.8,665.0 1028.4,665.0 1031.0,665.0 1033.6,665.0 1036.2,665.0 1038.8,665.0 1041.4,665.0 1044.0,665.0 1046.5,665.0 1049.1,665.0 1051.7,665.0 1054.3,665.0 1056.9,665.0 1059.5,665.0 1062.1,665.0 1064.7,665.0 1067.2,665.0 1069.8,665.0 1072.4,665.0 1075.0,665.0 1077.6,665.0 1080.2,665.0 1082.8,665.0 1085.4,665.0 1087.9,665.0 1090.5,665.0 1093.1,665.0 1095.7,665.0 1098.3,665.0 1100.9,665.0 1103.5,665.0 1106.1,665.0 1108.6,665.0 1111.2,663.4 1113.8,663.4 1116.4,663.1 1119.0,663.4 1121.6,663.2 1124.2,663.1 1126.8,663.2 1129.3,663.2 1131.9,663.0 1134.5,663.5 1137.1,662.9 1139.7,663.4 1142.3,665.0 1144.9,665.0 1147.5,665.0 1150.0,665.0 1152.6,665.0 1155.2,665.0 1157.8,665.0 1160.4,665.0 1163.0,665.0 1165.6,665.0 1168.2,665.0 1170.7,665.0 1173.3,665.0 1175.9,665.0 1178.5,665.0 1181.1,665.0 1183.7,665.0 1186.3,665.0 1188.9,665.0 1191.5,665.0 1194.0,665.0 1196.6,665.0 1199.2,665.0 1201.8,665.0 1204.4,665.0 1207.0,665.0 1209.6,665.0 1212.2,665.0 1214.7,665.0 1217.3,665.0 1219.9,665.0 1222.5,665.0 1225.1,665.0 1227.7,665.0 1230.3,665.0 1232.9,665.0 1235.4,665.0 1238.0,665.0 1240.6,665.0 1243.2,665.0 1245.8,665.0 1248.4,665.0 1251.0,665.0 1253.6,665.0 1256.1,665.0 1258.7,665.0 1261.3,665.0 1263.9,665.0 1266.5,665.0 1269.1,665.0 1271.7,665.0 1274.3,665.0 1276.8,665.0 1279.4,665.0 1282.0,665.0 1284.6,665.0 1287.2,665.0 1289.8,665.0 1292.4,665.0 1295.0,665.0 1297.5,665.0 1300.1,665.0 1302.7,665.0 1305.3,665.0 1307.9,665.0 1310.5,665.0 1313.1,665.0 1315.7,665.0 1318.2,665.0 1320.8,665.0 1323.4,665.0 1326.0,665.0 1328.6,665.0 1331.2,665.0 1333.8,665.0 1336.4,665.0 1338.9,665.0 1341.5,665.0 1344.1,665.0 1346.7,665.0 1349.3,665.0 1351.9,665.0 1354.5,665.0 1357.1,665.0 1359.6,665.0 1362.2,665.0 1364.8,665.0 1367.4,665.0 1370.0,665.0 1372.6,665.0 1375.2,665.0 1377.8,665.0 1380.3,665.0 1382.9,665.0 1385.5,665.0 1388.1,665.0 1390.7,665.0 1393.3,665.0 1395.9,665.0 1398.5,665.0 1401.1,665.0 1403.6,665.0 1406.2,665.0 1408.8,665.0 1411.4,665.0 1414.0,665.0 1416.6,665.0 1419.2,665.0 1421.8,665.0 1424.3,665.0 1426.9,665.0 1429.5,665.0 1432.1,665.0 1434.7,665.0 1437.3,665.0 1439.9,665.0 1442.5,665.0 1445.0,665.0 1447.6,665.0 1450.2,665.0 1452.8,665.0 1455.4,665.0 1458.0,665.0 1460.6,665.0 1463.2,665.0 1465.7,665.0 1468.3,665.0 1470.9,665.0 1473.5,665.0 1476.1,665.0 1478.7,665.0 1481.3,665.0 1483.9,665.0 1486.4,665.0 1489.0,665.0 1491.6,665.0 1494.2,665.0 1496.8,665.0 1499.4,665.0 1502.0,665.0 1504.6,665.0 1507.1,665.0 1509.7,665.0 1512.3,665.0 1514.9,665.0 1517.5,665.0 1520.1,665.0 1522.7,665.0 1525.3,665.0 1527.8,665.0 1530.4,665.0 1533.0,665.0 1535.6,665.0 1538.2,665.0 1540.8,665.0 1543.4,665.0 1546.0,665.0 1548.5,665.0 1551.1,665.0 1553.7,665.0 1556.3,665.0 1558.9,665.0 1561.5,665.0 1564.1,665.0 1566.7,665.0 1569.2,665.0 1571.8,665.0 1574.4,665.0 1577.0,665.0 1579.6,665.0 1582.2,665.0 1584.8,665.0 1587.4,665.0 1589.9,665.0 1592.5,665.0 1595.1,665.0 1597.7,665.0 1600.3,665.0 1602.9,665.0 1605.5,665.0 1608.1,665.0 1610.6,665.0 1613.2,665.0 1615.8,665.0 1618.4,665.0 1621.0,665.0 1621.0,665.0 1618.4,665.0 1615.8,665.0 1613.2,665.0 1610.6,665.0 1608.1,665.0 1605.5,665.0 1602.9,665.0 1600.3,665.0 1597.7,665.0 1595.1,665.0 1592.5,665.0 1589.9,665.0 1587.4,665.0 1584.8,665.0 1582.2,665.0 1579.6,665.0 1577.0,665.0 1574.4,665.0 1571.8,665.0 1569.2,665.0 1566.7,665.0 1564.1,665.0 1561.5,665.0 1558.9,665.0 1556.3,665.0 1553.7,665.0 1551.1,665.0 1548.5,665.0 1546.0,665.0 1543.4,665.0 1540.8,665.0 1538.2,665.0 1535.6,665.0 1533.0,665.0 1530.4,665.0 1527.8,665.0 1525.3,665.0 1522.7,665.0 1520.1,665.0 1517.5,665.0 1514.9,665.0 1512.3,665.0 1509.7,665.0 1507.1,665.0 1504.6,665.0 1502.0,665.0 1499.4,665.0 1496.8,665.0 1494.2,665.0 1491.6,665.0 1489.0,665.0 1486.4,665.0 1483.9,665.0 1481.3,665.0 1478.7,665.0 1476.1,665.0 1473.5,665.0 1470.9,665.0 1468.3,665.0 1465.7,665.0 1463.2,665.0 1460.6,665.0 1458.0,665.0 1455.4,665.0 1452.8,665.0 1450.2,665.0 1447.6,665.0 1445.0,665.0 1442.5,665.0 1439.9,665.0 1437.3,665.0 1434.7,665.0 1432.1,665.0 1429.5,665.0 1426.9,665.0 1424.3,665.0 1421.8,665.0 1419.2,665.0 1416.6,665.0 1414.0,665.0 1411.4,665.0 1408.8,665.0 1406.2,665.0 1403.6,665.0 1401.1,665.0 1398.5,665.0 1395.9,665.0 1393.3,665.0 1390.7,665.0 1388.1,665.0 1385.5,665.0 1382.9,665.0 1380.3,665.0 1377.8,665.0 1375.2,665.0 1372.6,665.0 1370.0,665.0 1367.4,665.0 1364.8,665.0 1362.2,665.0 1359.6,665.0 1357.1,665.0 1354.5,665.0 1351.9,665.0 1349.3,665.0 1346.7,665.0 1344.1,665.0 1341.5,665.0 1338.9,665.0 1336.4,665.0 1333.8,665.0 1331.2,665.0 1328.6,665.0 1326.0,665.0 1323.4,665.0 1320.8,665.0 1318.2,665.0 1315.7,665.0 1313.1,665.0 1310.5,665.0 1307.9,665.0 1305.3,665.0 1302.7,665.0 1300.1,665.0 1297.5,665.0 1295.0,665.0 1292.4,665.0 1289.8,665.0 1287.2,665.0 1284.6,665.0 1282.0,665.0 1279.4,665.0 1276.8,665.0 1274.3,665.0 1271.7,665.0 1269.1,665.0 1266.5,665.0 1263.9,665.0 1261.3,665.0 1258.7,665.0 1256.1,665.0 1253.6,665.0 1251.0,665.0 1248.4,665.0 1245.8,665.0 1243.2,665.0 1240.6,665.0 1238.0,665.0 1235.4,665.0 1232.9,665.0 1230.3,665.0 1227.7,665.0 1225.1,665.0 1222.5,665.0 1219.9,665.0 1217.3,665.0 1214.7,665.0 1212.2,665.0 1209.6,665.0 1207.0,665.0 1204.4,665.0 1201.8,665.0 1199.2,665.0 1196.6,665.0 1194.0,665.0 1191.5,665.0 1188.9,665.0 1186.3,665.0 1183.7,665.0 1181.1,665.0 1178.5,665.0 1175.9,665.0 1173.3,665.0 1170.7,665.0 1168.2,665.0 1165.6,665.0 1163.0,665.0 1160.4,665.0 1157.8,665.0 1155.2,665.0 1152.6,665.0 1150.0,665.0 1147.5,665.0 1144.9,665.0 1142.3,665.0 1139.7,665.0 1137.1,665.0 1134.5,665.0 1131.9,665.0 1129.3,665.0 1126.8,665.0 1124.2,665.0 1121.6,665.0 1119.0,665.0 1116.4,665.0 1113.8,665.0 1111.2,665.0 1108.6,665.0 1106.1,665.0 1103.5,665.0 1100.9,665.0 1098.3,665.0 1095.7,665.0 1093.1,665.0 1090.5,665.0 1087.9,665.0 1085.4,665.0 1082.8,665.0 1080.2,665.0 1077.6,665.0 1075.0,665.0 1072.4,665.0 1069.8,665.0 1067.2,665.0 1064.7,665.0 1062.1,665.0 1059.5,665.0 1056.9,665.0 1054.3,665.0 1051.7,665.0 1049.1,665.0 1046.5,665.0 1044.0,665.0 1041.4,665.0 1038.8,665.0 1036.2,665.0 1033.6,665.0 1031.0,665.0 1028.4,665.0 1025.8,665.0 1023.3,665.0 1020.7,665.0 1018.1,665.0 1015.5,665.0 1012.9,665.0 1010.3,665.0 1007.7,665.0 1005.1,665.0 1002.6,665.0 1000.0,665.0 997.4,665.0 994.8,665.0 992.2,665.0 989.6,665.0 987.0,665.0 984.4,665.0 981.9,665.0 979.3,665.0 976.7,665.0 974.1,665.0 971.5,665.0 968.9,665.0 966.3,665.0 963.7,665.0 961.2,665.0 958.6,665.0 956.0,665.0 953.4,665.0 950.8,665.0 948.2,665.0 945.6,665.0 943.0,665.0 940.4,665.0 937.9,665.0 935.3,665.0 932.7,665.0 930.1,665.0 927.5,665.0 924.9,665.0 922.3,665.0 919.7,665.0 917.2,665.0 914.6,665.0 912.0,665.0 909.4,665.0 906.8,665.0 904.2,665.0 901.6,665.0 899.0,665.0 896.5,665.0 893.9,665.0 891.3,665.0 888.7,665.0 886.1,665.0 883.5,665.0 880.9,665.0 878.3,665.0 875.8,665.0 873.2,665.0 870.6,665.0 868.0,665.0 865.4,665.0 862.8,665.0 860.2,665.0 857.6,665.0 855.1,665.0 852.5,665.0 849.9,665.0 847.3,665.0 844.7,665.0 842.1,665.0 839.5,665.0 836.9,665.0 834.4,665.0 831.8,665.0 829.2,665.0 826.6,665.0 824.0,665.0 821.4,665.0 818.8,665.0 816.2,665.0 813.7,665.0 811.1,665.0 808.5,665.0 805.9,665.0 803.3,665.0 800.7,665.0 798.1,665.0 795.5,665.0 793.0,665.0 790.4,665.0 787.8,665.0 785.2,665.0 782.6,665.0 780.0,665.0 777.4,665.0 774.8,665.0 772.3,665.0 769.7,665.0 767.1,665.0 764.5,665.0 761.9,665.0 759.3,665.0 756.7,665.0 754.1,665.0 751.6,665.0 749.0,665.0 746.4,665.0 743.8,665.0 741.2,665.0 738.6,665.0 736.0,665.0 733.4,665.0 730.8,665.0 728.3,665.0 725.7,665.0 723.1,665.0 720.5,665.0 717.9,665.0 715.3,665.0 712.7,665.0 710.1,665.0 707.6,665.0 705.0,665.0 702.4,665.0 699.8,665.0 697.2,665.0 694.6,665.0 692.0,665.0 689.4,665.0 686.9,665.0 684.3,665.0 681.7,665.0 679.1,665.0 676.5,665.0 673.9,665.0 671.3,665.0 668.7,665.0 666.2,665.0 663.6,665.0 661.0,665.0 658.4,665.0 655.8,665.0 653.2,665.0 650.6,665.0 648.0,665.0 645.5,665.0 642.9,665.0 640.3,665.0 637.7,665.0 635.1,665.0 632.5,665.0 629.9,665.0 627.3,665.0 624.8,665.0 622.2,665.0 619.6,665.0 617.0,665.0 614.4,665.0 611.8,665.0 609.2,665.0 606.6,665.0 604.1,665.0 601.5,665.0 598.9,665.0 596.3,665.0 593.7,665.0 591.1,665.0 588.5,665.0 585.9,665.0 583.4,665.0 580.8,665.0 578.2,665.0 575.6,665.0 573.0,665.0 570.4,665.0 567.8,665.0 565.2,665.0 562.7,665.0 560.1,665.0 557.5,665.0 554.9,665.0 552.3,665.0 549.7,665.0 547.1,665.0 544.5,665.0 542.0,665.0 539.4,665.0 536.8,665.0 534.2,665.0 531.6,665.0 529.0,665.0 526.4,665.0 523.8,665.0 521.3,665.0 518.7,665.0 516.1,665.0 513.5,665.0 510.9,665.0 508.3,665.0 505.7,665.0 503.1,665.0 500.5,665.0 498.0,665.0 495.4,665.0 492.8,665.0 490.2,665.0 487.6,665.0 485.0,665.0 482.4,665.0 479.8,665.0 477.3,665.0 474.7,665.0 472.1,665.0 469.5,665.0 466.9,665.0 464.3,665.0 461.7,665.0 459.1,665.0 456.6,665.0 454.0,665.0 451.4,665.0 448.8,665.0 446.2,665.0 443.6,665.0 441.0,665.0 438.4,665.0 435.9,665.0 433.3,665.0 430.7,665.0 428.1,665.0 425.5,665.0 422.9,665.0 420.3,665.0 417.7,665.0 415.2,665.0 412.6,665.0 410.0,665.0 407.4,665.0 404.8,665.0 402.2,665.0 399.6,665.0 397.0,665.0 394.5,665.0 391.9,665.0 389.3,665.0 386.7,665.0 384.1,665.0 381.5,665.0 378.9,665.0 376.3,665.0 373.8,665.0 371.2,665.0 368.6,665.0 366.0,665.0 363.4,665.0 360.8,665.0 358.2,665.0 355.6,665.0 353.1,665.0 350.5,665.0 347.9,665.0 345.3,665.0 342.7,665.0 340.1,665.0 337.5,665.0 334.9,665.0 332.4,665.0 329.8,665.0 327.2,665.0 324.6,665.0 322.0,665.0 319.4,665.0 316.8,665.0 314.2,665.0 311.7,665.0 309.1,665.0 306.5,665.0 303.9,665.0 301.3,665.0 298.7,665.0 296.1,665.0 293.5,665.0 290.9,665.0 288.4,665.0 285.8,665.0 283.2,665.0 280.6,665.0 278.0,665.0 275.4,665.0 272.8,665.0 270.2,665.0 267.7,665.0 265.1,665.0 262.5,665.0 259.9,665.0 257.3,665.0 254.7,665.0 252.1,665.0 249.5,665.0 247.0,665.0 244.4,665.0 241.8,665.0 239.2,665.0 236.6,665.0 234.0,665.0 231.4,665.0 228.8,665.0 226.3,665.0 223.7,665.0 221.1,665.0 218.5,665.0 215.9,665.0 213.3,665.0 210.7,665.0 208.1,665.0 205.6,665.0 203.0,665.0 200.4,665.0 197.8,665.0 195.2,665.0 192.6,665.0 190.0,665.0 187.4,665.0 184.9,665.0 182.3,665.0 179.7,665.0 177.1,665.0 174.5,665.0 171.9,665.0 169.3,665.0 166.7,665.0 164.2,665.0 161.6,665.0 159.0,665.0 156.4,665.0 153.8,665.0 151.2,665.0 148.6,665.0 146.0,665.0 143.5,665.0 140.9,665.0 138.3,665.0 135.7,665.0 133.1,665.0 130.5,665.0 127.9,665.0 125.3,665.0 122.8,665.0 120.2,665.0 117.6,665.0 115.0,665.0 112.4,665.0 109.8,665.0 107.2,665.0 104.6,665.0 102.1,665.0 99.5,665.0 96.9,665.0 94.3,665.0 91.7,665.0 89.1,665.0 86.5,665.0 83.9,665.0 81.4,665.0 78.8,665.0 76.2,665.0 73.6,665.0 71.0,665.0" fill="#c040e0" fill-opacity="0.82"/>
<polygon points="71.0,657.8 73.6,640.6 76.2,644.5 78.8,662.1 81.4,663.7 83.9,663.8 86.5,663.6 89.1,663.7 91.7,664.7 94.3,664.6 96.9,664.8 99.5,665.0 102.1,664.1 104.6,664.1 107.2,664.8 109.8,663.1 112.4,664.6 115.0,664.8 117.6,663.3 120.2,664.9 122.8,664.9 125.3,664.1 127.9,664.7 130.5,664.6 133.1,665.0 135.7,664.9 138.3,664.8 140.9,664.8 143.5,663.6 146.0,663.4 148.6,663.7 151.2,664.0 153.8,664.0 156.4,664.8 159.0,664.7 161.6,663.2 164.2,663.3 166.7,665.0 169.3,664.8 171.9,664.9 174.5,664.9 177.1,664.8 179.7,663.5 182.3,664.6 184.9,664.9 187.4,664.8 190.0,665.0 192.6,663.3 195.2,663.5 197.8,663.6 200.4,664.6 203.0,663.6 205.6,663.9 208.1,663.5 210.7,664.7 213.3,663.9 215.9,664.9 218.5,663.2 221.1,664.9 223.7,664.6 226.3,664.8 228.8,664.8 231.4,663.6 234.0,664.6 236.6,663.8 239.2,663.1 241.8,663.2 244.4,664.0 247.0,664.6 249.5,664.8 252.1,663.5 254.7,664.6 257.3,664.8 259.9,663.5 262.5,664.8 265.1,664.7 267.7,663.9 270.2,664.7 272.8,664.6 275.4,664.1 278.0,664.6 280.6,664.8 283.2,663.4 285.8,664.9 288.4,663.5 290.9,664.8 293.5,663.8 296.1,663.8 298.7,663.7 301.3,664.6 303.9,664.6 306.5,663.1 309.1,664.9 311.7,663.2 314.2,664.7 316.8,664.7 319.4,664.7 322.0,664.6 324.6,664.6 327.2,664.7 329.8,664.7 332.4,664.6 334.9,664.0 337.5,664.1 340.1,663.8 342.7,664.9 345.3,664.8 347.9,664.6 350.5,664.6 353.1,664.6 355.6,663.8 358.2,664.0 360.8,664.6 363.4,663.7 366.0,663.5 368.6,664.9 371.2,663.5 373.8,663.3 376.3,664.6 378.9,664.8 381.5,664.9 384.1,663.7 386.7,663.3 389.3,663.2 391.9,663.8 394.5,663.7 397.0,664.7 399.6,665.0 402.2,663.3 404.8,665.0 407.4,664.7 410.0,664.6 412.6,663.6 415.2,663.2 417.7,663.9 420.3,664.7 422.9,664.6 425.5,664.8 428.1,663.5 430.7,663.9 433.3,664.8 435.9,664.8 438.4,664.8 441.0,664.7 443.6,664.7 446.2,664.7 448.8,664.7 451.4,664.1 454.0,663.4 456.6,663.7 459.1,664.8 461.7,663.9 464.3,663.9 466.9,664.0 469.5,665.0 472.1,663.8 474.7,663.5 477.3,664.7 479.8,663.5 482.4,663.6 485.0,664.8 487.6,663.8 490.2,663.2 492.8,663.8 495.4,664.8 498.0,663.5 500.5,664.7 503.1,663.5 505.7,663.9 508.3,663.8 510.9,664.7 513.5,665.0 516.1,663.9 518.7,664.0 521.3,663.3 523.8,663.4 526.4,664.6 529.0,663.8 531.6,663.8 534.2,663.5 536.8,663.9 539.4,663.3 542.0,664.8 544.5,664.9 547.1,664.8 549.7,664.7 552.3,665.0 554.9,663.3 557.5,663.2 560.1,664.6 562.7,663.5 565.2,665.0 567.8,663.5 570.4,663.4 573.0,664.1 575.6,664.0 578.2,663.7 580.8,664.8 583.4,664.0 585.9,664.9 588.5,664.7 591.1,660.2 593.7,660.1 596.3,660.1 598.9,660.6 601.5,661.3 604.1,659.9 606.6,660.6 609.2,661.0 611.8,659.5 614.4,660.3 617.0,664.0 619.6,663.4 622.2,663.3 624.8,664.8 627.3,663.3 629.9,663.2 632.5,664.0 635.1,664.9 637.7,663.6 640.3,664.9 642.9,664.8 645.5,665.0 648.0,664.8 650.6,663.7 653.2,664.6 655.8,664.7 658.4,664.8 661.0,664.6 663.6,664.6 666.2,664.7 668.7,663.6 671.3,663.3 673.9,663.3 676.5,664.7 679.1,664.7 681.7,663.9 684.3,664.0 686.9,663.8 689.4,664.8 692.0,665.0 694.6,663.6 697.2,664.7 699.8,663.8 702.4,664.9 705.0,664.8 707.6,664.6 710.1,664.9 712.7,664.7 715.3,664.8 717.9,664.8 720.5,663.8 723.1,665.0 725.7,665.0 728.3,664.7 730.8,664.1 733.4,663.7 736.0,663.3 738.6,664.7 741.2,663.9 743.8,663.9 746.4,664.8 749.0,664.7 751.6,664.7 754.1,663.4 756.7,664.8 759.3,664.9 761.9,664.0 764.5,664.8 767.1,663.2 769.7,660.9 772.3,659.1 774.8,660.1 777.4,661.7 780.0,660.5 782.6,661.2 785.2,661.5 787.8,660.7 790.4,660.6 793.0,659.9 795.5,664.6 798.1,664.7 800.7,663.2 803.3,664.8 805.9,664.6 808.5,665.0 811.1,663.6 813.7,664.1 816.2,664.6 818.8,664.8 821.4,664.1 824.0,663.2 826.6,663.8 829.2,663.6 831.8,663.7 834.4,664.8 836.9,663.8 839.5,664.6 842.1,664.7 844.7,663.2 847.3,663.3 849.9,663.8 852.5,664.8 855.1,665.0 857.6,663.5 860.2,663.9 862.8,661.5 865.4,663.2 868.0,662.5 870.6,663.7 873.2,664.1 875.8,664.8 878.3,664.0 880.9,664.6 883.5,663.8 886.1,664.1 888.7,663.4 891.3,664.8 893.9,664.8 896.5,664.6 899.0,665.0 901.6,663.6 904.2,664.6 906.8,664.7 909.4,664.7 912.0,663.9 914.6,663.8 917.2,663.6 919.7,663.9 922.3,664.8 924.9,663.7 927.5,664.0 930.1,664.9 932.7,664.0 935.3,664.8 937.9,664.8 940.4,664.7 943.0,664.8 945.6,663.5 948.2,664.9 950.8,663.7 953.4,664.9 956.0,663.6 958.6,664.9 961.2,663.9 963.7,664.9 966.3,664.6 968.9,663.6 971.5,664.6 974.1,664.6 976.7,664.7 979.3,663.2 981.9,664.7 984.4,663.6 987.0,663.5 989.6,664.1 992.2,664.9 994.8,663.3 997.4,663.8 1000.0,664.9 1002.6,664.8 1005.1,663.6 1007.7,664.7 1010.3,664.8 1012.9,664.1 1015.5,664.6 1018.1,664.9 1020.7,664.7 1023.3,663.8 1025.8,663.4 1028.4,664.6 1031.0,664.9 1033.6,663.3 1036.2,664.7 1038.8,664.7 1041.4,664.9 1044.0,664.9 1046.5,664.6 1049.1,663.7 1051.7,663.2 1054.3,663.8 1056.9,663.6 1059.5,664.6 1062.1,663.9 1064.7,663.8 1067.2,663.8 1069.8,664.6 1072.4,664.9 1075.0,663.5 1077.6,663.9 1080.2,664.6 1082.8,663.5 1085.4,663.4 1087.9,664.6 1090.5,663.3 1093.1,664.0 1095.7,663.3 1098.3,663.9 1100.9,664.1 1103.5,663.3 1106.1,663.9 1108.6,664.8 1111.2,662.3 1113.8,663.2 1116.4,662.8 1119.0,661.5 1121.6,662.8 1124.2,663.1 1126.8,662.9 1129.3,662.9 1131.9,662.6 1134.5,663.1 1137.1,661.1 1139.7,662.4 1142.3,664.8 1144.9,664.6 1147.5,663.5 1150.0,663.9 1152.6,664.6 1155.2,664.1 1157.8,665.0 1160.4,664.9 1163.0,663.3 1165.6,663.4 1168.2,664.7 1170.7,664.7 1173.3,664.8 1175.9,663.1 1178.5,663.8 1181.1,664.7 1183.7,664.6 1186.3,663.1 1188.9,665.0 1191.5,663.4 1194.0,663.4 1196.6,664.0 1199.2,663.9 1201.8,665.0 1204.4,664.6 1207.0,664.9 1209.6,664.8 1212.2,664.8 1214.7,665.0 1217.3,663.3 1219.9,663.9 1222.5,664.9 1225.1,664.1 1227.7,664.7 1230.3,663.2 1232.9,663.2 1235.4,663.6 1238.0,664.6 1240.6,664.1 1243.2,664.6 1245.8,664.7 1248.4,663.7 1251.0,664.8 1253.6,663.3 1256.1,664.9 1258.7,664.1 1261.3,664.8 1263.9,664.7 1266.5,664.8 1269.1,664.8 1271.7,663.5 1274.3,663.3 1276.8,664.7 1279.4,663.2 1282.0,665.0 1284.6,664.8 1287.2,664.7 1289.8,664.7 1292.4,664.8 1295.0,663.5 1297.5,663.3 1300.1,665.0 1302.7,663.6 1305.3,664.9 1307.9,664.6 1310.5,664.0 1313.1,665.0 1315.7,663.3 1318.2,664.0 1320.8,664.8 1323.4,664.9 1326.0,664.9 1328.6,663.2 1331.2,665.0 1333.8,663.3 1336.4,664.0 1338.9,664.6 1341.5,663.4 1344.1,665.0 1346.7,664.7 1349.3,664.7 1351.9,664.8 1354.5,663.7 1357.1,663.9 1359.6,664.9 1362.2,663.6 1364.8,663.9 1367.4,664.0 1370.0,663.7 1372.6,664.0 1375.2,663.9 1377.8,664.0 1380.3,664.8 1382.9,664.0 1385.5,664.0 1388.1,664.7 1390.7,664.7 1393.3,664.0 1395.9,663.7 1398.5,664.8 1401.1,664.7 1403.6,664.9 1406.2,665.0 1408.8,664.6 1411.4,663.5 1414.0,664.9 1416.6,664.9 1419.2,664.8 1421.8,663.8 1424.3,664.7 1426.9,663.6 1429.5,664.9 1432.1,663.9 1434.7,663.4 1437.3,664.7 1439.9,663.5 1442.5,663.2 1445.0,664.6 1447.6,664.0 1450.2,663.2 1452.8,664.9 1455.4,664.7 1458.0,663.6 1460.6,664.8 1463.2,664.8 1465.7,663.8 1468.3,665.0 1470.9,664.6 1473.5,663.9 1476.1,663.5 1478.7,663.8 1481.3,664.6 1483.9,664.7 1486.4,663.2 1489.0,664.6 1491.6,663.6 1494.2,663.9 1496.8,663.7 1499.4,663.7 1502.0,663.4 1504.6,664.8 1507.1,664.7 1509.7,663.1 1512.3,665.0 1514.9,664.7 1517.5,663.4 1520.1,664.7 1522.7,665.0 1525.3,664.8 1527.8,663.3 1530.4,663.7 1533.0,663.7 1535.6,663.9 1538.2,664.7 1540.8,664.9 1543.4,664.6 1546.0,663.4 1548.5,663.7 1551.1,664.6 1553.7,664.8 1556.3,663.8 1558.9,663.2 1561.5,663.6 1564.1,663.9 1566.7,664.7 1569.2,663.6 1571.8,664.8 1574.4,663.6 1577.0,663.8 1579.6,664.7 1582.2,664.8 1584.8,664.6 1587.4,664.8 1589.9,664.0 1592.5,663.6 1595.1,663.8 1597.7,663.4 1600.3,664.6 1602.9,665.0 1605.5,663.1 1608.1,664.6 1610.6,664.6 1613.2,664.6 1615.8,664.9 1618.4,663.3 1621.0,664.8 1621.0,665.0 1618.4,665.0 1615.8,665.0 1613.2,665.0 1610.6,665.0 1608.1,665.0 1605.5,665.0 1602.9,665.0 1600.3,665.0 1597.7,665.0 1595.1,665.0 1592.5,665.0 1589.9,665.0 1587.4,665.0 1584.8,665.0 1582.2,665.0 1579.6,665.0 1577.0,665.0 1574.4,665.0 1571.8,665.0 1569.2,665.0 1566.7,665.0 1564.1,665.0 1561.5,665.0 1558.9,665.0 1556.3,665.0 1553.7,665.0 1551.1,665.0 1548.5,665.0 1546.0,665.0 1543.4,665.0 1540.8,665.0 1538.2,665.0 1535.6,665.0 1533.0,665.0 1530.4,665.0 1527.8,665.0 1525.3,665.0 1522.7,665.0 1520.1,665.0 1517.5,665.0 1514.9,665.0 1512.3,665.0 1509.7,665.0 1507.1,665.0 1504.6,665.0 1502.0,665.0 1499.4,665.0 1496.8,665.0 1494.2,665.0 1491.6,665.0 1489.0,665.0 1486.4,665.0 1483.9,665.0 1481.3,665.0 1478.7,665.0 1476.1,665.0 1473.5,665.0 1470.9,665.0 1468.3,665.0 1465.7,665.0 1463.2,665.0 1460.6,665.0 1458.0,665.0 1455.4,665.0 1452.8,665.0 1450.2,665.0 1447.6,665.0 1445.0,665.0 1442.5,665.0 1439.9,665.0 1437.3,665.0 1434.7,665.0 1432.1,665.0 1429.5,665.0 1426.9,665.0 1424.3,665.0 1421.8,665.0 1419.2,665.0 1416.6,665.0 1414.0,665.0 1411.4,665.0 1408.8,665.0 1406.2,665.0 1403.6,665.0 1401.1,665.0 1398.5,665.0 1395.9,665.0 1393.3,665.0 1390.7,665.0 1388.1,665.0 1385.5,665.0 1382.9,665.0 1380.3,665.0 1377.8,665.0 1375.2,665.0 1372.6,665.0 1370.0,665.0 1367.4,665.0 1364.8,665.0 1362.2,665.0 1359.6,665.0 1357.1,665.0 1354.5,665.0 1351.9,665.0 1349.3,665.0 1346.7,665.0 1344.1,665.0 1341.5,665.0 1338.9,665.0 1336.4,665.0 1333.8,665.0 1331.2,665.0 1328.6,665.0 1326.0,665.0 1323.4,665.0 1320.8,665.0 1318.2,665.0 1315.7,665.0 1313.1,665.0 1310.5,665.0 1307.9,665.0 1305.3,665.0 1302.7,665.0 1300.1,665.0 1297.5,665.0 1295.0,665.0 1292.4,665.0 1289.8,665.0 1287.2,665.0 1284.6,665.0 1282.0,665.0 1279.4,665.0 1276.8,665.0 1274.3,665.0 1271.7,665.0 1269.1,665.0 1266.5,665.0 1263.9,665.0 1261.3,665.0 1258.7,665.0 1256.1,665.0 1253.6,665.0 1251.0,665.0 1248.4,665.0 1245.8,665.0 1243.2,665.0 1240.6,665.0 1238.0,665.0 1235.4,665.0 1232.9,665.0 1230.3,665.0 1227.7,665.0 1225.1,665.0 1222.5,665.0 1219.9,665.0 1217.3,665.0 1214.7,665.0 1212.2,665.0 1209.6,665.0 1207.0,665.0 1204.4,665.0 1201.8,665.0 1199.2,665.0 1196.6,665.0 1194.0,665.0 1191.5,665.0 1188.9,665.0 1186.3,665.0 1183.7,665.0 1181.1,665.0 1178.5,665.0 1175.9,665.0 1173.3,665.0 1170.7,665.0 1168.2,665.0 1165.6,665.0 1163.0,665.0 1160.4,665.0 1157.8,665.0 1155.2,665.0 1152.6,665.0 1150.0,665.0 1147.5,665.0 1144.9,665.0 1142.3,665.0 1139.7,663.4 1137.1,662.9 1134.5,663.5 1131.9,663.0 1129.3,663.2 1126.8,663.2 1124.2,663.1 1121.6,663.2 1119.0,663.4 1116.4,663.1 1113.8,663.4 1111.2,663.4 1108.6,665.0 1106.1,665.0 1103.5,665.0 1100.9,665.0 1098.3,665.0 1095.7,665.0 1093.1,665.0 1090.5,665.0 1087.9,665.0 1085.4,665.0 1082.8,665.0 1080.2,665.0 1077.6,665.0 1075.0,665.0 1072.4,665.0 1069.8,665.0 1067.2,665.0 1064.7,665.0 1062.1,665.0 1059.5,665.0 1056.9,665.0 1054.3,665.0 1051.7,665.0 1049.1,665.0 1046.5,665.0 1044.0,665.0 1041.4,665.0 1038.8,665.0 1036.2,665.0 1033.6,665.0 1031.0,665.0 1028.4,665.0 1025.8,665.0 1023.3,665.0 1020.7,665.0 1018.1,665.0 1015.5,665.0 1012.9,665.0 1010.3,665.0 1007.7,665.0 1005.1,665.0 1002.6,665.0 1000.0,665.0 997.4,665.0 994.8,665.0 992.2,665.0 989.6,665.0 987.0,665.0 984.4,665.0 981.9,665.0 979.3,665.0 976.7,665.0 974.1,665.0 971.5,665.0 968.9,665.0 966.3,665.0 963.7,665.0 961.2,665.0 958.6,665.0 956.0,665.0 953.4,665.0 950.8,665.0 948.2,665.0 945.6,665.0 943.0,665.0 940.4,665.0 937.9,665.0 935.3,665.0 932.7,665.0 930.1,665.0 927.5,665.0 924.9,665.0 922.3,665.0 919.7,665.0 917.2,665.0 914.6,665.0 912.0,665.0 909.4,665.0 906.8,665.0 904.2,665.0 901.6,665.0 899.0,665.0 896.5,665.0 893.9,665.0 891.3,665.0 888.7,665.0 886.1,665.0 883.5,665.0 880.9,665.0 878.3,665.0 875.8,665.0 873.2,665.0 870.6,665.0 868.0,663.5 865.4,663.5 862.8,663.2 860.2,664.2 857.6,665.0 855.1,665.0 852.5,665.0 849.9,665.0 847.3,665.0 844.7,665.0 842.1,665.0 839.5,665.0 836.9,665.0 834.4,665.0 831.8,665.0 829.2,665.0 826.6,665.0 824.0,665.0 821.4,665.0 818.8,665.0 816.2,665.0 813.7,665.0 811.1,665.0 808.5,665.0 805.9,665.0 803.3,665.0 800.7,665.0 798.1,665.0 795.5,665.0 793.0,661.5 790.4,660.9 787.8,661.7 785.2,661.8 782.6,661.3 780.0,661.5 777.4,661.9 774.8,661.7 772.3,660.8 769.7,661.1 767.1,665.0 764.5,665.0 761.9,665.0 759.3,665.0 756.7,665.0 754.1,665.0 751.6,665.0 749.0,665.0 746.4,665.0 743.8,665.0 741.2,665.0 738.6,665.0 736.0,665.0 733.4,665.0 730.8,665.0 728.3,665.0 725.7,665.0 723.1,665.0 720.5,665.0 717.9,665.0 715.3,665.0 712.7,665.0 710.1,665.0 707.6,665.0 705.0,665.0 702.4,665.0 699.8,665.0 697.2,665.0 694.6,665.0 692.0,665.0 689.4,665.0 686.9,665.0 684.3,665.0 681.7,665.0 679.1,665.0 676.5,665.0 673.9,665.0 671.3,665.0 668.7,665.0 666.2,665.0 663.6,665.0 661.0,665.0 658.4,665.0 655.8,665.0 653.2,665.0 650.6,665.0 648.0,665.0 645.5,665.0 642.9,665.0 640.3,665.0 637.7,665.0 635.1,665.0 632.5,665.0 629.9,665.0 627.3,665.0 624.8,665.0 622.2,665.0 619.6,665.0 617.0,665.0 614.4,661.4 611.8,660.9 609.2,661.1 606.6,661.0 604.1,660.9 601.5,661.6 598.9,661.0 596.3,661.8 593.7,661.2 591.1,661.2 588.5,665.0 585.9,665.0 583.4,665.0 580.8,665.0 578.2,665.0 575.6,665.0 573.0,665.0 570.4,665.0 567.8,665.0 565.2,665.0 562.7,665.0 560.1,665.0 557.5,665.0 554.9,665.0 552.3,665.0 549.7,665.0 547.1,665.0 544.5,665.0 542.0,665.0 539.4,665.0 536.8,665.0 534.2,665.0 531.6,665.0 529.0,665.0 526.4,665.0 523.8,665.0 521.3,665.0 518.7,665.0 516.1,665.0 513.5,665.0 510.9,665.0 508.3,665.0 505.7,665.0 503.1,665.0 500.5,665.0 498.0,665.0 495.4,665.0 492.8,665.0 490.2,665.0 487.6,665.0 485.0,665.0 482.4,665.0 479.8,665.0 477.3,665.0 474.7,665.0 472.1,665.0 469.5,665.0 466.9,665.0 464.3,665.0 461.7,665.0 459.1,665.0 456.6,665.0 454.0,665.0 451.4,665.0 448.8,665.0 446.2,665.0 443.6,665.0 441.0,665.0 438.4,665.0 435.9,665.0 433.3,665.0 430.7,665.0 428.1,665.0 425.5,665.0 422.9,665.0 420.3,665.0 417.7,665.0 415.2,665.0 412.6,665.0 410.0,665.0 407.4,665.0 404.8,665.0 402.2,665.0 399.6,665.0 397.0,665.0 394.5,665.0 391.9,665.0 389.3,665.0 386.7,665.0 384.1,665.0 381.5,665.0 378.9,665.0 376.3,665.0 373.8,665.0 371.2,665.0 368.6,665.0 366.0,665.0 363.4,665.0 360.8,665.0 358.2,665.0 355.6,665.0 353.1,665.0 350.5,665.0 347.9,665.0 345.3,665.0 342.7,665.0 340.1,665.0 337.5,665.0 334.9,665.0 332.4,665.0 329.8,665.0 327.2,665.0 324.6,665.0 322.0,665.0 319.4,665.0 316.8,665.0 314.2,665.0 311.7,665.0 309.1,665.0 306.5,665.0 303.9,665.0 301.3,665.0 298.7,665.0 296.1,665.0 293.5,665.0 290.9,665.0 288.4,665.0 285.8,665.0 283.2,665.0 280.6,665.0 278.0,665.0 275.4,665.0 272.8,665.0 270.2,665.0 267.7,665.0 265.1,665.0 262.5,665.0 259.9,665.0 257.3,665.0 254.7,665.0 252.1,665.0 249.5,665.0 247.0,665.0 244.4,665.0 241.8,665.0 239.2,665.0 236.6,665.0 234.0,665.0 231.4,665.0 228.8,665.0 226.3,665.0 223.7,665.0 221.1,665.0 218.5,665.0 215.9,665.0 213.3,665.0 210.7,665.0 208.1,665.0 205.6,665.0 203.0,665.0 200.4,665.0 197.8,665.0 195.2,665.0 192.6,665.0 190.0,665.0 187.4,665.0 184.9,665.0 182.3,665.0 179.7,665.0 177.1,665.0 174.5,665.0 171.9,665.0 169.3,665.0 166.7,665.0 164.2,665.0 161.6,665.0 159.0,665.0 156.4,665.0 153.8,665.0 151.2,665.0 148.6,665.0 146.0,665.0 143.5,665.0 140.9,665.0 138.3,665.0 135.7,665.0 133.1,665.0 130.5,665.0 127.9,665.0 125.3,665.0 122.8,665.0 120.2,665.0 117.6,665.0 115.0,665.0 112.4,665.0 109.8,665.0 107.2,665.0 104.6,665.0 102.1,665.0 99.5,665.0 96.9,665.0 94.3,665.0 91.7,665.0 89.1,665.0 86.5,665.0 83.9,665.0 81.4,665.0 78.8,663.6 76.2,644.9 73.6,640.6 71.0,657.8" fill="#f09a10" fill-opacity="0.82"/>
<polygon points="71.0,650.6 73.6,631.2 76.2,634.4 78.8,653.5 81.4,657.3 83.9,653.0 86.5,655.2 89.1,653.9 91.7,659.3 94.3,659.0 96.9,656.5 99.5,658.2 102.1,655.7 104.6,658.5 107.2,659.4 109.8,656.2 112.4,657.5 115.0,659.0 117.6,655.2 120.2,657.2 122.8,658.9 125.3,656.5 127.9,656.0 130.5,656.5 133.1,656.3 135.7,658.6 138.3,657.5 140.9,656.7 143.5,653.4 146.0,654.9 148.6,655.1 151.2,658.3 153.8,656.2 156.4,656.1 159.0,659.3 161.6,657.5 164.2,657.1 166.7,656.4 169.3,656.3 171.9,658.5 174.5,659.5 177.1,656.6 179.7,656.8 182.3,656.3 184.9,656.3 187.4,657.9 190.0,659.6 192.6,656.6 195.2,655.7 197.8,655.2 200.4,657.4 203.0,656.5 205.6,656.1 208.1,657.9 210.7,657.0 213.3,655.3 215.9,656.3 218.5,655.5 221.1,659.1 223.7,656.8 226.3,656.4 228.8,658.8 231.4,653.6 234.0,658.9 236.6,656.6 239.2,656.3 241.8,655.4 244.4,657.0 247.0,656.4 249.5,656.3 252.1,654.9 254.7,657.1 257.3,657.5 259.9,655.1 262.5,657.2 265.1,658.7 267.7,657.8 270.2,656.1 272.8,656.3 275.4,656.5 278.0,658.9 280.6,658.2 283.2,655.8 285.8,656.3 288.4,652.8 290.9,657.8 293.5,657.4 296.1,655.1 298.7,657.6 301.3,658.3 303.9,657.3 306.5,657.5 309.1,656.3 311.7,657.5 314.2,657.2 316.8,655.3 319.4,658.0 322.0,655.9 324.6,657.9 327.2,658.1 329.8,656.0 332.4,657.2 334.9,657.9 337.5,656.9 340.1,657.1 342.7,657.0 345.3,655.6 347.9,658.8 350.5,656.1 353.1,658.4 355.6,658.4 358.2,656.9 360.8,657.1 363.4,657.8 366.0,654.9 368.6,655.2 371.2,657.5 373.8,655.3 376.3,656.8 378.9,656.2 381.5,656.4 384.1,655.8 386.7,655.5 389.3,657.1 391.9,655.5 394.5,655.5 397.0,659.2 399.6,657.3 402.2,652.8 404.8,656.8 407.4,658.7 410.0,657.5 412.6,657.5 415.2,657.8 417.7,655.3 420.3,657.0 422.9,659.2 425.5,657.7 428.1,655.6 430.7,657.9 433.3,658.9 435.9,656.1 438.4,659.4 441.0,658.0 443.6,656.3 446.2,659.1 448.8,658.0 451.4,656.9 454.0,656.3 456.6,655.8 459.1,658.1 461.7,655.8 464.3,655.3 466.9,655.8 469.5,657.2 472.1,655.3 474.7,656.0 477.3,658.2 479.8,655.1 482.4,657.4 485.0,657.6 487.6,657.0 490.2,656.8 492.8,655.5 495.4,656.6 498.0,655.4 500.5,656.3 503.1,655.5 505.7,656.3 508.3,655.6 510.9,654.0 513.5,658.4 516.1,655.9 518.7,658.6 521.3,653.3 523.8,655.9 526.4,655.5 529.0,656.2 531.6,658.3 534.2,657.2 536.8,658.5 539.4,656.0 542.0,656.7 544.5,658.7 547.1,656.4 549.7,658.1 552.3,657.5 554.9,656.3 557.5,654.8 560.1,654.0 562.7,654.9 565.2,658.8 567.8,652.6 570.4,657.7 573.0,656.3 575.6,655.0 578.2,656.2 580.8,659.0 583.4,653.2 585.9,658.3 588.5,658.4 591.1,653.4 593.7,652.4 596.3,652.8 598.9,652.3 601.5,654.7 604.1,652.1 606.6,652.0 609.2,655.4 611.8,649.7 614.4,654.6 617.0,655.8 619.6,656.9 622.2,657.8 624.8,659.2 627.3,655.0 629.9,655.8 632.5,656.7 635.1,658.6 637.7,656.0 640.3,658.8 642.9,657.8 645.5,658.3 648.0,657.2 650.6,655.6 653.2,657.3 655.8,658.4 658.4,658.9 661.0,656.4 663.6,656.6 666.2,658.2 668.7,655.2 671.3,657.4 673.9,654.6 676.5,657.3 679.1,659.4 681.7,656.3 684.3,658.4 686.9,656.0 689.4,656.0 692.0,656.5 694.6,655.1 697.2,658.5 699.8,654.9 702.4,659.5 705.0,656.6 707.6,657.5 710.1,657.5 712.7,657.5 715.3,658.2 717.9,656.4 720.5,657.1 723.1,656.5 725.7,658.6 728.3,656.0 730.8,655.8 733.4,655.9 736.0,655.8 738.6,659.2 741.2,658.4 743.8,657.8 746.4,658.3 749.0,654.3 751.6,655.7 754.1,657.8 756.7,659.4 759.3,659.5 761.9,656.0 764.5,658.2 767.1,656.2 769.7,650.1 772.3,652.3 774.8,651.6 777.4,654.8 780.0,652.9 782.6,650.7 785.2,654.8 787.8,652.4 790.4,654.9 793.0,649.8 795.5,657.3 798.1,658.7 800.7,654.9 803.3,657.0 805.9,657.0 808.5,656.9 811.1,655.9 813.7,658.2 816.2,655.1 818.8,657.5 821.4,658.3 824.0,652.3 826.6,657.5 829.2,656.1 831.8,657.1 834.4,657.5 836.9,655.3 839.5,659.1 842.1,658.6 844.7,653.6 847.3,655.7 849.9,658.3 852.5,659.4 855.1,659.1 857.6,656.1 860.2,655.2 862.8,655.0 865.4,656.0 868.0,657.1 870.6,657.3 873.2,656.8 875.8,658.7 878.3,655.7 880.9,658.8 883.5,655.8 886.1,655.7 888.7,655.1 891.3,657.0 893.9,658.9 896.5,658.1 899.0,659.5 901.6,656.4 904.2,657.9 906.8,658.1 909.4,657.5 912.0,656.4 914.6,656.3 917.2,656.7 919.7,658.0 922.3,656.7 924.9,658.1 927.5,656.3 930.1,655.5 932.7,656.5 935.3,658.2 937.9,656.3 940.4,658.1 943.0,656.6 945.6,655.6 948.2,659.3 950.8,658.2 953.4,655.6 956.0,656.5 958.6,659.4 961.2,655.5 963.7,656.8 966.3,659.1 968.9,655.5 971.5,656.4 974.1,656.9 976.7,658.3 979.3,654.3 981.9,657.9 984.4,657.3 987.0,654.2 989.6,656.7 992.2,657.0 994.8,656.0 997.4,657.2 1000.0,659.3 1002.6,657.7 1005.1,653.1 1007.7,658.8 1010.3,658.6 1012.9,656.7 1015.5,657.9 1018.1,658.9 1020.7,656.2 1023.3,657.9 1025.8,655.2 1028.4,657.4 1031.0,658.0 1033.6,655.7 1036.2,656.6 1038.8,657.9 1041.4,657.2 1044.0,656.3 1046.5,657.5 1049.1,655.6 1051.7,653.5 1054.3,656.7 1056.9,656.7 1059.5,656.2 1062.1,655.9 1064.7,655.1 1067.2,658.0 1069.8,656.0 1072.4,658.2 1075.0,655.5 1077.6,657.3 1080.2,657.4 1082.8,656.7 1085.4,656.7 1087.9,657.5 1090.5,655.7 1093.1,656.4 1095.7,657.5 1098.3,657.8 1100.9,655.9 1103.5,657.9 1106.1,655.9 1108.6,655.9 1111.2,654.0 1113.8,655.5 1116.4,655.7 1119.0,653.6 1121.6,655.0 1124.2,657.2 1126.8,655.9 1129.3,655.9 1131.9,656.0 1134.5,655.1 1137.1,654.2 1139.7,656.4 1142.3,658.1 1144.9,655.1 1147.5,653.5 1150.0,656.3 1152.6,656.8 1155.2,655.9 1157.8,657.8 1160.4,657.4 1163.0,652.9 1165.6,655.9 1168.2,657.2 1170.7,656.5 1173.3,656.3 1175.9,655.2 1178.5,655.8 1181.1,658.2 1183.7,656.9 1186.3,657.2 1188.9,657.3 1191.5,654.9 1194.0,657.2 1196.6,655.5 1199.2,658.5 1201.8,656.3 1204.4,658.0 1207.0,656.8 1209.6,657.3 1212.2,654.9 1214.7,658.4 1217.3,654.6 1219.9,658.3 1222.5,657.3 1225.1,657.2 1227.7,656.1 1230.3,657.6 1232.9,656.5 1235.4,654.9 1238.0,658.2 1240.6,656.7 1243.2,658.8 1245.8,657.9 1248.4,658.2 1251.0,656.5 1253.6,654.9 1256.1,658.3 1258.7,657.2 1261.3,656.2 1263.9,656.8 1266.5,659.2 1269.1,659.4 1271.7,655.8 1274.3,655.0 1276.8,659.4 1279.4,657.3 1282.0,656.9 1284.6,658.8 1287.2,654.4 1289.8,657.5 1292.4,657.7 1295.0,655.1 1297.5,655.5 1300.1,657.9 1302.7,657.1 1305.3,657.3 1307.9,656.1 1310.5,657.1 1313.1,654.2 1315.7,657.4 1318.2,657.8 1320.8,657.0 1323.4,658.0 1326.0,658.2 1328.6,656.7 1331.2,658.9 1333.8,654.6 1336.4,656.8 1338.9,656.7 1341.5,655.0 1344.1,659.4 1346.7,656.3 1349.3,656.6 1351.9,656.2 1354.5,658.1 1357.1,655.6 1359.6,657.0 1362.2,655.5 1364.8,658.5 1367.4,656.5 1370.0,655.9 1372.6,656.6 1375.2,655.7 1377.8,657.1 1380.3,657.4 1382.9,657.0 1385.5,655.9 1388.1,658.0 1390.7,656.3 1393.3,657.4 1395.9,655.6 1398.5,656.5 1401.1,656.7 1403.6,656.7 1406.2,658.8 1408.8,657.8 1411.4,652.7 1414.0,657.5 1416.6,656.2 1419.2,655.0 1421.8,657.1 1424.3,659.4 1426.9,655.7 1429.5,656.5 1432.1,656.5 1434.7,657.6 1437.3,659.0 1439.9,657.8 1442.5,654.4 1445.0,655.5 1447.6,656.5 1450.2,657.8 1452.8,656.8 1455.4,658.5 1458.0,655.4 1460.6,656.7 1463.2,657.8 1465.7,655.2 1468.3,659.0 1470.9,657.1 1473.5,653.1 1476.1,655.8 1478.7,654.4 1481.3,659.0 1483.9,659.2 1486.4,654.4 1489.0,658.4 1491.6,656.8 1494.2,658.3 1496.8,656.6 1499.4,657.3 1502.0,656.6 1504.6,656.2 1507.1,659.1 1509.7,656.7 1512.3,657.8 1514.9,658.3 1517.5,656.1 1520.1,656.9 1522.7,659.4 1525.3,655.1 1527.8,655.1 1530.4,657.2 1533.0,656.1 1535.6,655.4 1538.2,658.6 1540.8,656.9 1543.4,657.5 1546.0,656.4 1548.5,656.9 1551.1,656.3 1553.7,657.5 1556.3,656.2 1558.9,657.1 1561.5,657.9 1564.1,655.6 1566.7,657.7 1569.2,656.9 1571.8,656.6 1574.4,654.9 1577.0,657.3 1579.6,657.6 1582.2,659.0 1584.8,658.0 1587.4,658.8 1589.9,656.9 1592.5,656.2 1595.1,656.9 1597.7,657.2 1600.3,657.0 1602.9,657.5 1605.5,656.3 1608.1,657.4 1610.6,658.3 1613.2,658.0 1615.8,657.0 1618.4,657.4 1621.0,657.5 1621.0,664.8 1618.4,663.3 1615.8,664.9 1613.2,664.6 1610.6,664.6 1608.1,664.6 1605.5,663.1 1602.9,665.0 1600.3,664.6 1597.7,663.4 1595.1,663.8 1592.5,663.6 1589.9,664.0 1587.4,664.8 1584.8,664.6 1582.2,664.8 1579.6,664.7 1577.0,663.8 1574.4,663.6 1571.8,664.8 1569.2,663.6 1566.7,664.7 1564.1,663.9 1561.5,663.6 1558.9,663.2 1556.3,663.8 1553.7,664.8 1551.1,664.6 1548.5,663.7 1546.0,663.4 1543.4,664.6 1540.8,664.9 1538.2,664.7 1535.6,663.9 1533.0,663.7 1530.4,663.7 1527.8,663.3 1525.3,664.8 1522.7,665.0 1520.1,664.7 1517.5,663.4 1514.9,664.7 1512.3,665.0 1509.7,663.1 1507.1,664.7 1504.6,664.8 1502.0,663.4 1499.4,663.7 1496.8,663.7 1494.2,663.9 1491.6,663.6 1489.0,664.6 1486.4,663.2 1483.9,664.7 1481.3,664.6 1478.7,663.8 1476.1,663.5 1473.5,663.9 1470.9,664.6 1468.3,665.0 1465.7,663.8 1463.2,664.8 1460.6,664.8 1458.0,663.6 1455.4,664.7 1452.8,664.9 1450.2,663.2 1447.6,664.0 1445.0,664.6 1442.5,663.2 1439.9,663.5 1437.3,664.7 1434.7,663.4 1432.1,663.9 1429.5,664.9 1426.9,663.6 1424.3,664.7 1421.8,663.8 1419.2,664.8 1416.6,664.9 1414.0,664.9 1411.4,663.5 1408.8,664.6 1406.2,665.0 1403.6,664.9 1401.1,664.7 1398.5,664.8 1395.9,663.7 1393.3,664.0 1390.7,664.7 1388.1,664.7 1385.5,664.0 1382.9,664.0 1380.3,664.8 1377.8,664.0 1375.2,663.9 1372.6,664.0 1370.0,663.7 1367.4,664.0 1364.8,663.9 1362.2,663.6 1359.6,664.9 1357.1,663.9 1354.5,663.7 1351.9,664.8 1349.3,664.7 1346.7,664.7 1344.1,665.0 1341.5,663.4 1338.9,664.6 1336.4,664.0 1333.8,663.3 1331.2,665.0 1328.6,663.2 1326.0,664.9 1323.4,664.9 1320.8,664.8 1318.2,664.0 1315.7,663.3 1313.1,665.0 1310.5,664.0 1307.9,664.6 1305.3,664.9 1302.7,663.6 1300.1,665.0 1297.5,663.3 1295.0,663.5 1292.4,664.8 1289.8,664.7 1287.2,664.7 1284.6,664.8 1282.0,665.0 1279.4,663.2 1276.8,664.7 1274.3,663.3 1271.7,663.5 1269.1,664.8 1266.5,664.8 1263.9,664.7 1261.3,664.8 1258.7,664.1 1256.1,664.9 1253.6,663.3 1251.0,664.8 1248.4,663.7 1245.8,664.7 1243.2,664.6 1240.6,664.1 1238.0,664.6 1235.4,663.6 1232.9,663.2 1230.3,663.2 1227.7,664.7 1225.1,664.1 1222.5,664.9 1219.9,663.9 1217.3,663.3 1214.7,665.0 1212.2,664.8 1209.6,664.8 1207.0,664.9 1204.4,664.6 1201.8,665.0 1199.2,663.9 1196.6,664.0 1194.0,663.4 1191.5,663.4 1188.9,665.0 1186.3,663.1 1183.7,664.6 1181.1,664.7 1178.5,663.8 1175.9,663.1 1173.3,664.8 1170.7,664.7 1168.2,664.7 1165.6,663.4 1163.0,663.3 1160.4,664.9 1157.8,665.0 1155.2,664.1 1152.6,664.6 1150.0,663.9 1147.5,663.5 1144.9,664.6 1142.3,664.8 1139.7,662.4 1137.1,661.1 1134.5,663.1 1131.9,662.6 1129.3,662.9 1126.8,662.9 1124.2,663.1 1121.6,662.8 1119.0,661.5 1116.4,662.8 1113.8,663.2 1111.2,662.3 1108.6,664.8 1106.1,663.9 1103.5,663.3 1100.9,664.1 1098.3,663.9 1095.7,663.3 1093.1,664.0 1090.5,663.3 1087.9,664.6 1085.4,663.4 1082.8,663.5 1080.2,664.6 1077.6,663.9 1075.0,663.5 1072.4,664.9 1069.8,664.6 1067.2,663.8 1064.7,663.8 1062.1,663.9 1059.5,664.6 1056.9,663.6 1054.3,663.8 1051.7,663.2 1049.1,663.7 1046.5,664.6 1044.0,664.9 1041.4,664.9 1038.8,664.7 1036.2,664.7 1033.6,663.3 1031.0,664.9 1028.4,664.6 1025.8,663.4 1023.3,663.8 1020.7,664.7 1018.1,664.9 1015.5,664.6 1012.9,664.1 1010.3,664.8 1007.7,664.7 1005.1,663.6 1002.6,664.8 1000.0,664.9 997.4,663.8 994.8,663.3 992.2,664.9 989.6,664.1 987.0,663.5 984.4,663.6 981.9,664.7 979.3,663.2 976.7,664.7 974.1,664.6 971.5,664.6 968.9,663.6 966.3,664.6 963.7,664.9 961.2,663.9 958.6,664.9 956.0,663.6 953.4,664.9 950.8,663.7 948.2,664.9 945.6,663.5 943.0,664.8 940.4,664.7 937.9,664.8 935.3,664.8 932.7,664.0 930.1,664.9 927.5,664.0 924.9,663.7 922.3,664.8 919.7,663.9 917.2,663.6 914.6,663.8 912.0,663.9 909.4,664.7 906.8,664.7 904.2,664.6 901.6,663.6 899.0,665.0 896.5,664.6 893.9,664.8 891.3,664.8 888.7,663.4 886.1,664.1 883.5,663.8 880.9,664.6 878.3,664.0 875.8,664.8 873.2,664.1 870.6,663.7 868.0,662.5 865.4,663.2 862.8,661.5 860.2,663.9 857.6,663.5 855.1,665.0 852.5,664.8 849.9,663.8 847.3,663.3 844.7,663.2 842.1,664.7 839.5,664.6 836.9,663.8 834.4,664.8 831.8,663.7 829.2,663.6 826.6,663.8 824.0,663.2 821.4,664.1 818.8,664.8 816.2,664.6 813.7,664.1 811.1,663.6 808.5,665.0 805.9,664.6 803.3,664.8 800.7,663.2 798.1,664.7 795.5,664.6 793.0,659.9 790.4,660.6 787.8,660.7 785.2,661.5 782.6,661.2 780.0,660.5 777.4,661.7 774.8,660.1 772.3,659.1 769.7,660.9 767.1,663.2 764.5,664.8 761.9,664.0 759.3,664.9 756.7,664.8 754.1,663.4 751.6,664.7 749.0,664.7 746.4,664.8 743.8,663.9 741.2,663.9 738.6,664.7 736.0,663.3 733.4,663.7 730.8,664.1 728.3,664.7 725.7,665.0 723.1,665.0 720.5,663.8 717.9,664.8 715.3,664.8 712.7,664.7 710.1,664.9 707.6,664.6 705.0,664.8 702.4,664.9 699.8,663.8 697.2,664.7 694.6,663.6 692.0,665.0 689.4,664.8 686.9,663.8 684.3,664.0 681.7,663.9 679.1,664.7 676.5,664.7 673.9,663.3 671.3,663.3 668.7,663.6 666.2,664.7 663.6,664.6 661.0,664.6 658.4,664.8 655.8,664.7 653.2,664.6 650.6,663.7 648.0,664.8 645.5,665.0 642.9,664.8 640.3,664.9 637.7,663.6 635.1,664.9 632.5,664.0 629.9,663.2 627.3,663.3 624.8,664.8 622.2,663.3 619.6,663.4 617.0,664.0 614.4,660.3 611.8,659.5 609.2,661.0 606.6,660.6 604.1,659.9 601.5,661.3 598.9,660.6 596.3,660.1 593.7,660.1 591.1,660.2 588.5,664.7 585.9,664.9 583.4,664.0 580.8,664.8 578.2,663.7 575.6,664.0 573.0,664.1 570.4,663.4 567.8,663.5 565.2,665.0 562.7,663.5 560.1,664.6 557.5,663.2 554.9,663.3 552.3,665.0 549.7,664.7 547.1,664.8 544.5,664.9 542.0,664.8 539.4,663.3 536.8,663.9 534.2,663.5 531.6,663.8 529.0,663.8 526.4,664.6 523.8,663.4 521.3,663.3 518.7,664.0 516.1,663.9 513.5,665.0 510.9,664.7 508.3,663.8 505.7,663.9 503.1,663.5 500.5,664.7 498.0,663.5 495.4,664.8 492.8,663.8 490.2,663.2 487.6,663.8 485.0,664.8 482.4,663.6 479.8,663.5 477.3,664.7 474.7,663.5 472.1,663.8 469.5,665.0 466.9,664.0 464.3,663.9 461.7,663.9 459.1,664.8 456.6,663.7 454.0,663.4 451.4,664.1 448.8,664.7 446.2,664.7 443.6,664.7 441.0,664.7 438.4,664.8 435.9,664.8 433.3,664.8 430.7,663.9 428.1,663.5 425.5,664.8 422.9,664.6 420.3,664.7 417.7,663.9 415.2,663.2 412.6,663.6 410.0,664.6 407.4,664.7 404.8,665.0 402.2,663.3 399.6,665.0 397.0,664.7 394.5,663.7 391.9,663.8 389.3,663.2 386.7,663.3 384.1,663.7 381.5,664.9 378.9,664.8 376.3,664.6 373.8,663.3 371.2,663.5 368.6,664.9 366.0,663.5 363.4,663.7 360.8,664.6 358.2,664.0 355.6,663.8 353.1,664.6 350.5,664.6 347.9,664.6 345.3,664.8 342.7,664.9 340.1,663.8 337.5,664.1 334.9,664.0 332.4,664.6 329.8,664.7 327.2,664.7 324.6,664.6 322.0,664.6 319.4,664.7 316.8,664.7 314.2,664.7 311.7,663.2 309.1,664.9 306.5,663.1 303.9,664.6 301.3,664.6 298.7,663.7 296.1,663.8 293.5,663.8 290.9,664.8 288.4,663.5 285.8,664.9 283.2,663.4 280.6,664.8 278.0,664.6 275.4,664.1 272.8,664.6 270.2,664.7 267.7,663.9 265.1,664.7 262.5,664.8 259.9,663.5 257.3,664.8 254.7,664.6 252.1,663.5 249.5,664.8 247.0,664.6 244.4,664.0 241.8,663.2 239.2,663.1 236.6,663.8 234.0,664.6 231.4,663.6 228.8,664.8 226.3,664.8 223.7,664.6 221.1,664.9 218.5,663.2 215.9,664.9 213.3,663.9 210.7,664.7 208.1,663.5 205.6,663.9 203.0,663.6 200.4,664.6 197.8,663.6 195.2,663.5 192.6,663.3 190.0,665.0 187.4,664.8 184.9,664.9 182.3,664.6 179.7,663.5 177.1,664.8 174.5,664.9 171.9,664.9 169.3,664.8 166.7,665.0 164.2,663.3 161.6,663.2 159.0,664.7 156.4,664.8 153.8,664.0 151.2,664.0 148.6,663.7 146.0,663.4 143.5,663.6 140.9,664.8 138.3,664.8 135.7,664.9 133.1,665.0 130.5,664.6 127.9,664.7 125.3,664.1 122.8,664.9 120.2,664.9 117.6,663.3 115.0,664.8 112.4,664.6 109.8,663.1 107.2,664.8 104.6,664.1 102.1,664.1 99.5,665.0 96.9,664.8 94.3,664.6 91.7,664.7 89.1,663.7 86.5,663.6 83.9,663.8 81.4,663.7 78.8,662.1 76.2,644.5 73.6,640.6 71.0,657.8" fill="#4e4ee8" fill-opacity="0.82"/>
<polygon points="71.0,647.7 73.6,626.2 76.2,630.1 78.8,649.1 81.4,654.4 83.9,650.8 86.5,652.3 89.1,651.0 91.7,654.6 94.3,656.5 96.9,651.1 99.5,655.6 102.1,652.3 104.6,657.0 107.2,652.8 109.8,650.5 112.4,649.8 115.0,656.4 117.6,652.1 120.2,654.9 122.8,656.2 125.3,653.3 127.9,653.8 130.5,653.2 133.1,653.8 135.7,655.9 138.3,655.2 140.9,648.6 143.5,650.8 146.0,652.2 148.6,651.7 151.2,656.9 153.8,654.7 156.4,654.5 159.0,652.7 161.6,656.2 164.2,653.6 166.7,646.7 169.3,654.8 171.9,649.2 174.5,639.6 177.1,635.5 179.7,639.9 182.3,648.2 184.9,653.7 187.4,656.2 190.0,657.8 192.6,646.9 195.2,654.2 197.8,642.9 200.4,636.0 203.0,645.8 205.6,653.7 208.1,656.1 210.7,655.1 213.3,654.1 215.9,648.6 218.5,652.0 221.1,657.1 223.7,652.8 226.3,650.7 228.8,653.0 231.4,650.6 234.0,656.8 236.6,651.3 239.2,650.3 241.8,653.1 244.4,653.6 247.0,649.2 249.5,653.0 252.1,652.1 254.7,655.6 257.3,655.7 259.9,653.4 262.5,655.3 265.1,655.7 267.7,655.9 270.2,654.0 272.8,652.5 275.4,654.4 278.0,657.2 280.6,656.6 283.2,654.5 285.8,654.4 288.4,651.0 290.9,656.2 293.5,650.5 296.1,651.4 298.7,654.8 301.3,656.2 303.9,655.1 306.5,654.2 309.1,652.7 311.7,654.8 314.2,656.0 316.8,653.9 319.4,656.0 322.0,650.6 324.6,645.5 327.2,653.0 329.8,654.5 332.4,655.6 334.9,655.4 337.5,655.6 340.1,654.8 342.7,649.7 345.3,646.8 347.9,655.1 350.5,652.9 353.1,656.8 355.6,656.8 358.2,654.8 360.8,653.9 363.4,656.5 366.0,648.2 368.6,654.0 371.2,648.3 373.8,647.8 376.3,648.1 378.9,654.5 381.5,652.9 384.1,650.2 386.7,653.0 389.3,655.9 391.9,653.7 394.5,652.1 397.0,654.3 399.6,654.3 402.2,649.4 404.8,654.0 407.4,652.4 410.0,650.1 412.6,656.2 415.2,655.4 417.7,653.6 420.3,654.2 422.9,657.4 425.5,654.6 428.1,653.3 430.7,655.0 433.3,657.3 435.9,653.1 438.4,656.2 441.0,654.5 443.6,653.4 446.2,655.9 448.8,648.8 451.4,653.8 454.0,653.1 456.6,652.1 459.1,656.0 461.7,647.9 464.3,652.5 466.9,652.5 469.5,655.4 472.1,654.0 474.7,652.4 477.3,654.7 479.8,645.9 482.4,652.3 485.0,649.3 487.6,652.1 490.2,654.3 492.8,653.1 495.4,653.3 498.0,653.5 500.5,655.1 503.1,652.7 505.7,649.6 508.3,653.0 510.9,648.1 513.5,654.8 516.1,654.8 518.7,656.9 521.3,650.5 523.8,653.1 526.4,653.4 529.0,654.0 531.6,655.4 534.2,653.7 536.8,656.3 539.4,652.6 542.0,653.6 544.5,655.5 547.1,653.9 549.7,656.0 552.3,655.9 554.9,654.5 557.5,649.9 560.1,651.3 562.7,652.7 565.2,655.3 567.8,651.1 570.4,651.0 573.0,655.1 575.6,651.4 578.2,648.5 580.8,655.7 583.4,649.7 585.9,654.6 588.5,657.2 591.1,651.6 593.7,649.7 596.3,651.5 598.9,651.1 601.5,652.6 604.1,648.7 606.6,649.5 609.2,648.8 611.8,646.3 614.4,653.0 617.0,653.7 619.6,654.9 622.2,654.2 624.8,653.3 627.3,653.7 629.9,653.3 632.5,654.2 635.1,656.7 637.7,648.7 640.3,648.1 642.9,649.8 645.5,651.4 648.0,653.9 650.6,645.5 653.2,654.1 655.8,655.8 658.4,657.3 661.0,654.8 663.6,652.9 666.2,655.3 668.7,652.8 671.3,653.7 673.9,648.2 676.5,653.6 679.1,656.1 681.7,652.6 684.3,655.9 686.9,654.5 689.4,652.6 692.0,654.5 694.6,652.9 697.2,647.2 699.8,649.1 702.4,649.4 705.0,655.1 707.6,649.3 710.1,649.0 712.7,651.7 715.3,652.1 717.9,653.0 720.5,654.1 723.1,650.5 725.7,657.0 728.3,652.7 730.8,652.6 733.4,647.0 736.0,654.5 738.6,656.0 741.2,656.2 743.8,655.5 746.4,655.7 749.0,652.5 751.6,653.7 754.1,654.1 756.7,656.6 759.3,656.2 761.9,652.9 764.5,651.1 767.1,654.6 769.7,648.9 772.3,649.5 774.8,649.7 777.4,651.3 780.0,651.0 782.6,649.0 785.2,652.2 787.8,651.1 790.4,647.6 793.0,641.1 795.5,645.8 798.1,650.7 800.7,651.8 803.3,648.5 805.9,655.3 808.5,654.3 811.1,648.0 813.7,655.3 816.2,653.1 818.8,650.1 821.4,656.4 824.0,649.7 826.6,654.1 829.2,653.6 831.8,655.3 834.4,651.8 836.9,648.6 839.5,655.6 842.1,657.0 844.7,650.4 847.3,654.1 849.9,657.0 852.5,656.8 855.1,649.6 857.6,653.0 860.2,653.4 862.8,653.2 865.4,652.5 868.0,655.3 870.6,655.8 873.2,653.3 875.8,655.6 878.3,653.9 880.9,656.1 883.5,654.2 886.1,649.0 888.7,653.8 891.3,653.3 893.9,657.4 896.5,654.4 899.0,657.3 901.6,652.7 904.2,648.6 906.8,650.0 909.4,647.8 912.0,654.3 914.6,654.6 917.2,655.1 919.7,655.7 922.3,651.2 924.9,654.3 927.5,653.8 930.1,653.9 932.7,654.9 935.3,656.3 937.9,652.6 940.4,655.6 943.0,654.2 945.6,654.4 948.2,651.8 950.8,649.5 953.4,639.0 956.0,648.8 958.6,657.3 961.2,654.2 963.7,653.8 966.3,649.7 968.9,652.6 971.5,655.0 974.1,655.6 976.7,656.8 979.3,652.2 981.9,656.5 984.4,654.2 987.0,652.7 989.6,654.7 992.2,653.8 994.8,654.8 997.4,648.7 1000.0,657.9 1002.6,656.1 1005.1,649.5 1007.7,657.6 1010.3,655.5 1012.9,653.4 1015.5,656.5 1018.1,656.9 1020.7,647.9 1023.3,655.0 1025.8,652.5 1028.4,656.0 1031.0,655.6 1033.6,652.4 1036.2,655.4 1038.8,656.2 1041.4,654.3 1044.0,654.5 1046.5,655.9 1049.1,648.3 1051.7,650.7 1054.3,653.2 1056.9,653.3 1059.5,653.5 1062.1,653.4 1064.7,652.2 1067.2,648.5 1069.8,654.0 1072.4,654.6 1075.0,654.0 1077.6,654.8 1080.2,653.8 1082.8,655.3 1085.4,653.6 1087.9,654.6 1090.5,653.5 1093.1,653.9 1095.7,654.5 1098.3,656.4 1100.9,654.7 1103.5,656.4 1106.1,646.8 1108.6,641.6 1111.2,645.0 1113.8,653.2 1116.4,654.1 1119.0,650.1 1121.6,653.2 1124.2,653.7 1126.8,652.4 1129.3,647.3 1131.9,649.8 1134.5,653.8 1137.1,652.5 1139.7,653.7 1142.3,655.1 1144.9,653.3 1147.5,652.1 1150.0,653.5 1152.6,648.5 1155.2,652.6 1157.8,649.5 1160.4,648.1 1163.0,650.8 1165.6,654.4 1168.2,654.2 1170.7,646.1 1173.3,654.0 1175.9,653.4 1178.5,652.4 1181.1,649.4 1183.7,655.5 1186.3,654.3 1188.9,655.5 1191.5,649.2 1194.0,651.4 1196.6,645.8 1199.2,649.3 1201.8,653.4 1204.4,656.5 1207.0,654.7 1209.6,648.2 1212.2,653.4 1214.7,654.9 1217.3,653.2 1219.9,654.8 1222.5,655.9 1225.1,654.6 1227.7,652.7 1230.3,656.4 1232.9,655.3 1235.4,653.2 1238.0,656.1 1240.6,654.4 1243.2,656.3 1245.8,654.4 1248.4,652.7 1251.0,653.7 1253.6,646.5 1256.1,649.4 1258.7,654.2 1261.3,650.4 1263.9,647.9 1266.5,652.1 1269.1,657.9 1271.7,654.1 1274.3,648.1 1276.8,657.5 1279.4,654.8 1282.0,654.2 1284.6,652.7 1287.2,645.9 1289.8,655.8 1292.4,656.4 1295.0,653.2 1297.5,652.3 1300.1,654.3 1302.7,654.5 1305.3,655.3 1307.9,654.7 1310.5,649.1 1313.1,652.3 1315.7,654.3 1318.2,654.4 1320.8,648.5 1323.4,656.4 1326.0,654.8 1328.6,653.5 1331.2,656.7 1333.8,651.5 1336.4,653.6 1338.9,647.3 1341.5,653.0 1344.1,657.8 1346.7,652.9 1349.3,654.2 1351.9,654.8 1354.5,654.8 1357.1,653.3 1359.6,654.5 1362.2,652.0 1364.8,655.1 1367.4,652.1 1370.0,649.6 1372.6,652.8 1375.2,654.4 1377.8,653.4 1380.3,655.8 1382.9,653.3 1385.5,653.0 1388.1,654.7 1390.7,654.0 1393.3,654.2 1395.9,652.2 1398.5,653.9 1401.1,654.6 1403.6,650.1 1406.2,655.7 1408.8,654.7 1411.4,648.5 1414.0,653.9 1416.6,643.2 1419.2,639.8 1421.8,647.3 1424.3,656.2 1426.9,652.1 1429.5,653.3 1432.1,653.1 1434.7,654.9 1437.3,657.6 1439.9,654.8 1442.5,648.2 1445.0,639.4 1447.6,651.1 1450.2,655.5 1452.8,655.2 1455.4,656.8 1458.0,653.9 1460.6,647.3 1463.2,655.7 1465.7,653.6 1468.3,657.1 1470.9,653.7 1473.5,651.9 1476.1,652.1 1478.7,652.2 1481.3,657.1 1483.9,649.4 1486.4,651.7 1489.0,651.5 1491.6,651.0 1494.2,650.4 1496.8,639.3 1499.4,648.0 1502.0,648.9 1504.6,653.1 1507.1,657.9 1509.7,653.8 1512.3,649.2 1514.9,655.1 1517.5,654.9 1520.1,654.0 1522.7,656.0 1525.3,653.8 1527.8,651.4 1530.4,654.7 1533.0,653.6 1535.6,653.3 1538.2,654.4 1540.8,649.7 1543.4,651.7 1546.0,654.6 1548.5,649.7 1551.1,654.6 1553.7,656.3 1556.3,648.7 1558.9,654.5 1561.5,655.9 1564.1,653.0 1566.7,656.4 1569.2,655.5 1571.8,650.8 1574.4,652.5 1577.0,654.7 1579.6,655.6 1582.2,656.1 1584.8,656.8 1587.4,656.0 1589.9,649.4 1592.5,653.5 1595.1,653.6 1597.7,655.6 1600.3,653.6 1602.9,655.9 1605.5,654.4 1608.1,648.1 1610.6,655.0 1613.2,649.5 1615.8,654.8 1618.4,655.3 1621.0,648.9 1621.0,657.5 1618.4,657.4 1615.8,657.0 1613.2,658.0 1610.6,658.3 1608.1,657.4 1605.5,656.3 1602.9,657.5 1600.3,657.0 1597.7,657.2 1595.1,656.9 1592.5,656.2 1589.9,656.9 1587.4,658.8 1584.8,658.0 1582.2,659.0 1579.6,657.6 1577.0,657.3 1574.4,654.9 1571.8,656.6 1569.2,656.9 1566.7,657.7 1564.1,655.6 1561.5,657.9 1558.9,657.1 1556.3,656.2 1553.7,657.5 1551.1,656.3 1548.5,656.9 1546.0,656.4 1543.4,657.5 1540.8,656.9 1538.2,658.6 1535.6,655.4 1533.0,656.1 1530.4,657.2 1527.8,655.1 1525.3,655.1 1522.7,659.4 1520.1,656.9 1517.5,656.1 1514.9,658.3 1512.3,657.8 1509.7,656.7 1507.1,659.1 1504.6,656.2 1502.0,656.6 1499.4,657.3 1496.8,656.6 1494.2,658.3 1491.6,656.8 1489.0,658.4 1486.4,654.4 1483.9,659.2 1481.3,659.0 1478.7,654.4 1476.1,655.8 1473.5,653.1 1470.9,657.1 1468.3,659.0 1465.7,655.2 1463.2,657.8 1460.6,656.7 1458.0,655.4 1455.4,658.5 1452.8,656.8 1450.2,657.8 1447.6,656.5 1445.0,655.5 1442.5,654.4 1439.9,657.8 1437.3,659.0 1434.7,657.6 1432.1,656.5 1429.5,656.5 1426.9,655.7 1424.3,659.4 1421.8,657.1 1419.2,655.0 1416.6,656.2 1414.0,657.5 1411.4,652.7 1408.8,657.8 1406.2,658.8 1403.6,656.7 1401.1,656.7 1398.5,656.5 1395.9,655.6 1393.3,657.4 1390.7,656.3 1388.1,658.0 1385.5,655.9 1382.9,657.0 1380.3,657.4 1377.8,657.1 1375.2,655.7 1372.6,656.6 1370.0,655.9 1367.4,656.5 1364.8,658.5 1362.2,655.5 1359.6,657.0 1357.1,655.6 1354.5,658.1 1351.9,656.2 1349.3,656.6 1346.7,656.3 1344.1,659.4 1341.5,655.0 1338.9,656.7 1336.4,656.8 1333.8,654.6 1331.2,658.9 1328.6,656.7 1326.0,658.2 1323.4,658.0 1320.8,657.0 1318.2,657.8 1315.7,657.4 1313.1,654.2 1310.5,657.1 1307.9,656.1 1305.3,657.3 1302.7,657.1 1300.1,657.9 1297.5,655.5 1295.0,655.1 1292.4,657.7 1289.8,657.5 1287.2,654.4 1284.6,658.8 1282.0,656.9 1279.4,657.3 1276.8,659.4 1274.3,655.0 1271.7,655.8 1269.1,659.4 1266.5,659.2 1263.9,656.8 1261.3,656.2 1258.7,657.2 1256.1,658.3 1253.6,654.9 1251.0,656.5 1248.4,658.2 1245.8,657.9 1243.2,658.8 1240.6,656.7 1238.0,658.2 1235.4,654.9 1232.9,656.5 1230.3,657.6 1227.7,656.1 1225.1,657.2 1222.5,657.3 1219.9,658.3 1217.3,654.6 1214.7,658.4 1212.2,654.9 1209.6,657.3 1207.0,656.8 1204.4,658.0 1201.8,656.3 1199.2,658.5 1196.6,655.5 1194.0,657.2 1191.5,654.9 1188.9,657.3 1186.3,657.2 1183.7,656.9 1181.1,658.2 1178.5,655.8 1175.9,655.2 1173.3,656.3 1170.7,656.5 1168.2,657.2 1165.6,655.9 1163.0,652.9 1160.4,657.4 1157.8,657.8 1155.2,655.9 1152.6,656.8 1150.0,656.3 1147.5,653.5 1144.9,655.1 1142.3,658.1 1139.7,656.4 1137.1,654.2 1134.5,655.1 1131.9,656.0 1129.3,655.9 1126.8,655.9 1124.2,657.2 1121.6,655.0 1119.0,653.6 1116.4,655.7 1113.8,655.5 1111.2,654.0 1108.6,655.9 1106.1,655.9 1103.5,657.9 1100.9,655.9 1098.3,657.8 1095.7,657.5 1093.1,656.4 1090.5,655.7 1087.9,657.5 1085.4,656.7 1082.8,656.7 1080.2,657.4 1077.6,657.3 1075.0,655.5 1072.4,658.2 1069.8,656.0 1067.2,658.0 1064.7,655.1 1062.1,655.9 1059.5,656.2 1056.9,656.7 1054.3,656.7 1051.7,653.5 1049.1,655.6 1046.5,657.5 1044.0,656.3 1041.4,657.2 1038.8,657.9 1036.2,656.6 1033.6,655.7 1031.0,658.0 1028.4,657.4 1025.8,655.2 1023.3,657.9 1020.7,656.2 1018.1,658.9 1015.5,657.9 1012.9,656.7 1010.3,658.6 1007.7,658.8 1005.1,653.1 1002.6,657.7 1000.0,659.3 997.4,657.2 994.8,656.0 992.2,657.0 989.6,656.7 987.0,654.2 984.4,657.3 981.9,657.9 979.3,654.3 976.7,658.3 974.1,656.9 971.5,656.4 968.9,655.5 966.3,659.1 963.7,656.8 961.2,655.5 958.6,659.4 956.0,656.5 953.4,655.6 950.8,658.2 948.2,659.3 945.6,655.6 943.0,656.6 940.4,658.1 937.9,656.3 935.3,658.2 932.7,656.5 930.1,655.5 927.5,656.3 924.9,658.1 922.3,656.7 919.7,658.0 917.2,656.7 914.6,656.3 912.0,656.4 909.4,657.5 906.8,658.1 904.2,657.9 901.6,656.4 899.0,659.5 896.5,658.1 893.9,658.9 891.3,657.0 888.7,655.1 886.1,655.7 883.5,655.8 880.9,658.8 878.3,655.7 875.8,658.7 873.2,656.8 870.6,657.3 868.0,657.1 865.4,656.0 862.8,655.0 860.2,655.2 857.6,656.1 855.1,659.1 852.5,659.4 849.9,658.3 847.3,655.7 844.7,653.6 842.1,658.6 839.5,659.1 836.9,655.3 834.4,657.5 831.8,657.1 829.2,656.1 826.6,657.5 824.0,652.3 821.4,658.3 818.8,657.5 816.2,655.1 813.7,658.2 811.1,655.9 808.5,656.9 805.9,657.0 803.3,657.0 800.7,654.9 798.1,658.7 795.5,657.3 793.0,649.8 790.4,654.9 787.8,652.4 785.2,654.8 782.6,650.7 780.0,652.9 777.4,654.8 774.8,651.6 772.3,652.3 769.7,650.1 767.1,656.2 764.5,658.2 761.9,656.0 759.3,659.5 756.7,659.4 754.1,657.8 751.6,655.7 749.0,654.3 746.4,658.3 743.8,657.8 741.2,658.4 738.6,659.2 736.0,655.8 733.4,655.9 730.8,655.8 728.3,656.0 725.7,658.6 723.1,656.5 720.5,657.1 717.9,656.4 715.3,658.2 712.7,657.5 710.1,657.5 707.6,657.5 705.0,656.6 702.4,659.5 699.8,654.9 697.2,658.5 694.6,655.1 692.0,656.5 689.4,656.0 686.9,656.0 684.3,658.4 681.7,656.3 679.1,659.4 676.5,657.3 673.9,654.6 671.3,657.4 668.7,655.2 666.2,658.2 663.6,656.6 661.0,656.4 658.4,658.9 655.8,658.4 653.2,657.3 650.6,655.6 648.0,657.2 645.5,658.3 642.9,657.8 640.3,658.8 637.7,656.0 635.1,658.6 632.5,656.7 629.9,655.8 627.3,655.0 624.8,659.2 622.2,657.8 619.6,656.9 617.0,655.8 614.4,654.6 611.8,649.7 609.2,655.4 606.6,652.0 604.1,652.1 601.5,654.7 598.9,652.3 596.3,652.8 593.7,652.4 591.1,653.4 588.5,658.4 585.9,658.3 583.4,653.2 580.8,659.0 578.2,656.2 575.6,655.0 573.0,656.3 570.4,657.7 567.8,652.6 565.2,658.8 562.7,654.9 560.1,654.0 557.5,654.8 554.9,656.3 552.3,657.5 549.7,658.1 547.1,656.4 544.5,658.7 542.0,656.7 539.4,656.0 536.8,658.5 534.2,657.2 531.6,658.3 529.0,656.2 526.4,655.5 523.8,655.9 521.3,653.3 518.7,658.6 516.1,655.9 513.5,658.4 510.9,654.0 508.3,655.6 505.7,656.3 503.1,655.5 500.5,656.3 498.0,655.4 495.4,656.6 492.8,655.5 490.2,656.8 487.6,657.0 485.0,657.6 482.4,657.4 479.8,655.1 477.3,658.2 474.7,656.0 472.1,655.3 469.5,657.2 466.9,655.8 464.3,655.3 461.7,655.8 459.1,658.1 456.6,655.8 454.0,656.3 451.4,656.9 448.8,658.0 446.2,659.1 443.6,656.3 441.0,658.0 438.4,659.4 435.9,656.1 433.3,658.9 430.7,657.9 428.1,655.6 425.5,657.7 422.9,659.2 420.3,657.0 417.7,655.3 415.2,657.8 412.6,657.5 410.0,657.5 407.4,658.7 404.8,656.8 402.2,652.8 399.6,657.3 397.0,659.2 394.5,655.5 391.9,655.5 389.3,657.1 386.7,655.5 384.1,655.8 381.5,656.4 378.9,656.2 376.3,656.8 373.8,655.3 371.2,657.5 368.6,655.2 366.0,654.9 363.4,657.8 360.8,657.1 358.2,656.9 355.6,658.4 353.1,658.4 350.5,656.1 347.9,658.8 345.3,655.6 342.7,657.0 340.1,657.1 337.5,656.9 334.9,657.9 332.4,657.2 329.8,656.0 327.2,658.1 324.6,657.9 322.0,655.9 319.4,658.0 316.8,655.3 314.2,657.2 311.7,657.5 309.1,656.3 306.5,657.5 303.9,657.3 301.3,658.3 298.7,657.6 296.1,655.1 293.5,657.4 290.9,657.8 288.4,652.8 285.8,656.3 283.2,655.8 280.6,658.2 278.0,658.9 275.4,656.5 272.8,656.3 270.2,656.1 267.7,657.8 265.1,658.7 262.5,657.2 259.9,655.1 257.3,657.5 254.7,657.1 252.1,654.9 249.5,656.3 247.0,656.4 244.4,657.0 241.8,655.4 239.2,656.3 236.6,656.6 234.0,658.9 231.4,653.6 228.8,658.8 226.3,656.4 223.7,656.8 221.1,659.1 218.5,655.5 215.9,656.3 213.3,655.3 210.7,657.0 208.1,657.9 205.6,656.1 203.0,656.5 200.4,657.4 197.8,655.2 195.2,655.7 192.6,656.6 190.0,659.6 187.4,657.9 184.9,656.3 182.3,656.3 179.7,656.8 177.1,656.6 174.5,659.5 171.9,658.5 169.3,656.3 166.7,656.4 164.2,657.1 161.6,657.5 159.0,659.3 156.4,656.1 153.8,656.2 151.2,658.3 148.6,655.1 146.0,654.9 143.5,653.4 140.9,656.7 138.3,657.5 135.7,658.6 133.1,656.3 130.5,656.5 127.9,656.0 125.3,656.5 122.8,658.9 120.2,657.2 117.6,655.2 115.0,659.0 112.4,657.5 109.8,656.2 107.2,659.4 104.6,658.5 102.1,655.7 99.5,658.2 96.9,656.5 94.3,659.0 91.7,659.3 89.1,653.9 86.5,655.2 83.9,653.0 81.4,657.3 78.8,653.5 76.2,634.4 73.6,631.2 71.0,650.6" fill="#e0e000" fill-opacity="0.82"/>
<polygon points="71.0,647.7 73.6,625.9 76.2,630.0 78.8,648.9 81.4,654.1 83.9,650.7 86.5,652.0 89.1,650.5 91.7,654.3 94.3,656.1 96.9,651.0 99.5,655.3 102.1,652.1 104.6,656.9 107.2,652.6 109.8,650.4 112.4,649.3 115.0,656.3 117.6,651.9 120.2,654.5 122.8,655.8 125.3,653.1 127.9,653.5 130.5,653.0 133.1,653.6 135.7,655.7 138.3,655.0 140.9,648.3 143.5,650.7 146.0,652.0 148.6,651.6 151.2,656.9 153.8,654.3 156.4,654.3 159.0,652.5 161.6,656.1 164.2,653.3 166.7,646.6 169.3,654.7 171.9,649.0 174.5,639.2 177.1,635.1 179.7,639.6 182.3,648.1 184.9,653.3 187.4,656.2 190.0,657.6 192.6,646.6 195.2,653.9 197.8,642.9 200.4,635.8 203.0,645.7 205.6,653.4 208.1,656.0 210.7,654.9 213.3,653.7 215.9,648.2 218.5,652.0 221.1,657.1 223.7,652.6 226.3,650.6 228.8,652.7 231.4,650.3 234.0,656.5 236.6,650.9 239.2,650.3 241.8,653.0 244.4,653.5 247.0,648.8 249.5,652.9 252.1,651.9 254.7,655.3 257.3,655.7 259.9,653.0 262.5,654.9 265.1,655.6 267.7,655.7 270.2,653.6 272.8,652.4 275.4,654.3 278.0,656.8 280.6,656.2 283.2,654.3 285.8,654.3 288.4,650.6 290.9,655.9 293.5,650.2 296.1,651.4 298.7,654.5 301.3,656.1 303.9,654.9 306.5,653.8 309.1,652.3 311.7,654.6 314.2,655.7 316.8,653.7 319.4,655.9 322.0,650.6 324.6,645.3 327.2,652.8 329.8,654.1 332.4,655.5 334.9,655.4 337.5,655.6 340.1,654.6 342.7,649.7 345.3,646.4 347.9,654.7 350.5,652.9 353.1,656.4 355.6,656.5 358.2,654.6 360.8,653.5 363.4,656.4 366.0,648.0 368.6,654.0 371.2,648.2 373.8,647.5 376.3,647.9 378.9,654.3 381.5,652.6 384.1,650.2 386.7,652.6 389.3,655.8 391.9,653.4 394.5,651.8 397.0,653.9 399.6,654.3 402.2,649.0 404.8,653.7 407.4,652.3 410.0,650.0 412.6,656.1 415.2,655.3 417.7,653.4 420.3,654.0 422.9,657.2 425.5,654.4 428.1,653.1 430.7,654.9 433.3,657.0 435.9,653.0 438.4,656.0 441.0,654.3 443.6,653.1 446.2,655.6 448.8,648.4 451.4,653.5 454.0,652.9 456.6,652.1 459.1,655.9 461.7,647.6 464.3,652.1 466.9,652.3 469.5,655.2 472.1,653.6 474.7,652.3 477.3,654.6 479.8,645.7 482.4,652.2 485.0,649.1 487.6,651.8 490.2,653.9 492.8,652.8 495.4,653.1 498.0,653.2 500.5,655.1 503.1,652.5 505.7,649.5 508.3,652.9 510.9,647.7 513.5,654.6 516.1,654.7 518.7,656.8 521.3,650.3 523.8,653.1 526.4,653.2 529.0,653.7 531.6,655.2 534.2,653.4 536.8,655.9 539.4,652.3 542.0,653.5 544.5,655.5 547.1,653.6 549.7,655.9 552.3,655.8 554.9,654.3 557.5,649.9 560.1,651.3 562.7,652.7 565.2,655.0 567.8,650.7 570.4,650.9 573.0,655.0 575.6,651.2 578.2,648.3 580.8,655.6 583.4,649.6 585.9,654.6 588.5,657.0 591.1,651.6 593.7,649.5 596.3,651.3 598.9,650.9 601.5,652.6 604.1,648.4 606.6,649.3 609.2,648.5 611.8,646.3 614.4,652.7 617.0,653.3 619.6,654.4 622.2,654.1 624.8,652.9 627.3,653.6 629.9,652.9 632.5,654.0 635.1,656.7 637.7,648.5 640.3,648.1 642.9,649.4 645.5,651.0 648.0,653.6 650.6,645.5 653.2,653.9 655.8,655.6 658.4,657.1 661.0,654.4 663.6,652.7 666.2,655.3 668.7,652.5 671.3,653.5 673.9,648.0 676.5,653.6 679.1,655.8 681.7,652.4 684.3,655.6 686.9,654.4 689.4,652.2 692.0,654.2 694.6,652.8 697.2,647.1 699.8,649.0 702.4,649.3 705.0,654.7 707.6,649.2 710.1,648.8 712.7,651.3 715.3,652.0 717.9,652.9 720.5,653.7 723.1,650.4 725.7,656.7 728.3,652.6 730.8,652.2 733.4,646.9 736.0,654.4 738.6,655.7 741.2,656.0 743.8,655.3 746.4,655.7 749.0,652.4 751.6,653.6 754.1,654.1 756.7,656.2 759.3,656.1 761.9,652.8 764.5,650.8 767.1,654.4 769.7,648.8 772.3,649.3 774.8,649.5 777.4,650.9 780.0,650.6 782.6,648.8 785.2,652.1 787.8,650.9 790.4,647.6 793.0,641.1 795.5,645.8 798.1,650.3 800.7,651.5 803.3,648.5 805.9,655.0 808.5,654.0 811.1,647.9 813.7,655.1 816.2,652.7 818.8,649.9 821.4,656.2 824.0,649.3 826.6,653.8 829.2,653.5 831.8,655.3 834.4,651.7 836.9,648.2 839.5,655.5 842.1,656.6 844.7,650.3 847.3,653.7 849.9,656.9 852.5,656.8 855.1,649.4 857.6,652.7 860.2,652.9 862.8,653.2 865.4,652.4 868.0,655.1 870.6,655.8 873.2,653.0 875.8,655.5 878.3,653.5 880.9,655.8 883.5,653.7 886.1,648.7 888.7,653.5 891.3,652.9 893.9,657.1 896.5,654.1 899.0,657.2 901.6,652.4 904.2,648.6 906.8,649.6 909.4,647.4 912.0,654.1 914.6,654.5 917.2,654.9 919.7,655.3 922.3,651.2 924.9,654.2 927.5,653.7 930.1,653.8 932.7,654.5 935.3,656.0 937.9,652.4 940.4,655.3 943.0,654.0 945.6,654.1 948.2,651.6 950.8,649.0 953.4,638.9 956.0,648.4 958.6,657.1 961.2,654.0 963.7,653.6 966.3,649.7 968.9,652.5 971.5,654.6 974.1,655.6 976.7,656.7 979.3,652.1 981.9,656.4 984.4,653.8 987.0,652.3 989.6,654.4 992.2,653.8 994.8,654.7 997.4,648.5 1000.0,657.6 1002.6,656.0 1005.1,649.2 1007.7,657.4 1010.3,655.4 1012.9,653.1 1015.5,656.2 1018.1,656.5 1020.7,647.5 1023.3,655.0 1025.8,652.2 1028.4,655.7 1031.0,655.3 1033.6,652.4 1036.2,655.4 1038.8,655.8 1041.4,654.3 1044.0,654.3 1046.5,655.8 1049.1,647.9 1051.7,650.3 1054.3,653.0 1056.9,653.0 1059.5,653.5 1062.1,652.9 1064.7,652.1 1067.2,648.5 1069.8,653.9 1072.4,654.5 1075.0,653.8 1077.6,654.5 1080.2,653.7 1082.8,655.0 1085.4,653.5 1087.9,654.5 1090.5,653.4 1093.1,653.5 1095.7,654.4 1098.3,656.0 1100.9,654.7 1103.5,656.2 1106.1,646.6 1108.6,641.4 1111.2,644.9 1113.8,653.1 1116.4,654.0 1119.0,649.8 1121.6,653.1 1124.2,653.5 1126.8,652.2 1129.3,647.0 1131.9,649.7 1134.5,653.6 1137.1,652.1 1139.7,653.4 1142.3,654.8 1144.9,653.2 1147.5,651.8 1150.0,653.4 1152.6,648.5 1155.2,652.4 1157.8,649.5 1160.4,647.8 1163.0,650.5 1165.6,654.2 1168.2,653.8 1170.7,645.9 1173.3,653.7 1175.9,653.4 1178.5,652.2 1181.1,649.1 1183.7,655.4 1186.3,654.0 1188.9,655.2 1191.5,649.1 1194.0,651.2 1196.6,645.7 1199.2,649.1 1201.8,653.3 1204.4,656.4 1207.0,654.6 1209.6,647.8 1212.2,653.4 1214.7,654.8 1217.3,653.0 1219.9,654.5 1222.5,655.7 1225.1,654.4 1227.7,652.3 1230.3,656.3 1232.9,655.2 1235.4,653.1 1238.0,656.1 1240.6,654.1 1243.2,655.9 1245.8,654.1 1248.4,652.6 1251.0,653.7 1253.6,646.3 1256.1,649.1 1258.7,654.1 1261.3,650.0 1263.9,647.8 1266.5,651.9 1269.1,657.4 1271.7,654.0 1274.3,647.8 1276.8,657.1 1279.4,654.7 1282.0,654.1 1284.6,652.4 1287.2,645.5 1289.8,655.8 1292.4,656.3 1295.0,653.0 1297.5,652.2 1300.1,654.1 1302.7,654.5 1305.3,655.0 1307.9,654.4 1310.5,648.7 1313.1,652.2 1315.7,654.1 1318.2,654.2 1320.8,648.5 1323.4,656.3 1326.0,654.8 1328.6,653.3 1331.2,656.3 1333.8,651.4 1336.4,653.2 1338.9,647.0 1341.5,653.0 1344.1,657.6 1346.7,652.7 1349.3,653.8 1351.9,654.7 1354.5,654.7 1357.1,653.0 1359.6,654.2 1362.2,651.7 1364.8,654.7 1367.4,652.0 1370.0,649.2 1372.6,652.4 1375.2,654.2 1377.8,653.0 1380.3,655.8 1382.9,652.9 1385.5,652.8 1388.1,654.7 1390.7,653.7 1393.3,653.9 1395.9,652.2 1398.5,653.7 1401.1,654.5 1403.6,650.1 1406.2,655.3 1408.8,654.6 1411.4,648.2 1414.0,653.4 1416.6,643.1 1419.2,639.5 1421.8,647.1 1424.3,656.2 1426.9,651.7 1429.5,652.9 1432.1,653.0 1434.7,654.7 1437.3,657.4 1439.9,654.5 1442.5,647.9 1445.0,639.4 1447.6,651.1 1450.2,655.1 1452.8,655.1 1455.4,656.5 1458.0,653.6 1460.6,647.1 1463.2,655.4 1465.7,653.2 1468.3,656.8 1470.9,653.6 1473.5,651.8 1476.1,651.8 1478.7,651.9 1481.3,656.9 1483.9,649.3 1486.4,651.6 1489.0,651.1 1491.6,650.9 1494.2,650.0 1496.8,639.2 1499.4,648.0 1502.0,648.6 1504.6,652.9 1507.1,657.8 1509.7,653.6 1512.3,649.0 1514.9,655.0 1517.5,654.5 1520.1,653.7 1522.7,655.9 1525.3,653.4 1527.8,651.0 1530.4,654.6 1533.0,653.3 1535.6,653.1 1538.2,654.3 1540.8,649.4 1543.4,651.6 1546.0,654.3 1548.5,649.6 1551.1,654.5 1553.7,656.1 1556.3,648.5 1558.9,654.5 1561.5,655.8 1564.1,653.0 1566.7,656.3 1569.2,655.2 1571.8,650.6 1574.4,652.3 1577.0,654.7 1579.6,655.4 1582.2,655.9 1584.8,656.4 1587.4,655.9 1589.9,649.1 1592.5,653.3 1595.1,653.6 1597.7,655.3 1600.3,653.2 1602.9,655.8 1605.5,654.1 1608.1,647.9 1610.6,654.7 1613.2,649.1 1615.8,654.8 1618.4,655.3 1621.0,648.8 1621.0,648.9 1618.4,655.3 1615.8,654.8 1613.2,649.5 1610.6,655.0 1608.1,648.1 1605.5,654.4 1602.9,655.9 1600.3,653.6 1597.7,655.6 1595.1,653.6 1592.5,653.5 1589.9,649.4 1587.4,656.0 1584.8,656.8 1582.2,656.1 1579.6,655.6 1577.0,654.7 1574.4,652.5 1571.8,650.8 1569.2,655.5 1566.7,656.4 1564.1,653.0 1561.5,655.9 1558.9,654.5 1556.3,648.7 1553.7,656.3 1551.1,654.6 1548.5,649.7 1546.0,654.6 1543.4,651.7 1540.8,649.7 1538.2,654.4 1535.6,653.3 1533.0,653.6 1530.4,654.7 1527.8,651.4 1525.3,653.8 1522.7,656.0 1520.1,654.0 1517.5,654.9 1514.9,655.1 1512.3,649.2 1509.7,653.8 1507.1,657.9 1504.6,653.1 1502.0,648.9 1499.4,648.0 1496.8,639.3 1494.2,650.4 1491.6,651.0 1489.0,651.5 1486.4,651.7 1483.9,649.4 1481.3,657.1 1478.7,652.2 1476.1,652.1 1473.5,651.9 1470.9,653.7 1468.3,657.1 1465.7,653.6 1463.2,655.7 1460.6,647.3 1458.0,653.9 1455.4,656.8 1452.8,655.2 1450.2,655.5 1447.6,651.1 1445.0,639.4 1442.5,648.2 1439.9,654.8 1437.3,657.6 1434.7,654.9 1432.1,653.1 1429.5,653.3 1426.9,652.1 1424.3,656.2 1421.8,647.3 1419.2,639.8 1416.6,643.2 1414.0,653.9 1411.4,648.5 1408.8,654.7 1406.2,655.7 1403.6,650.1 1401.1,654.6 1398.5,653.9 1395.9,652.2 1393.3,654.2 1390.7,654.0 1388.1,654.7 1385.5,653.0 1382.9,653.3 1380.3,655.8 1377.8,653.4 1375.2,654.4 1372.6,652.8 1370.0,649.6 1367.4,652.1 1364.8,655.1 1362.2,652.0 1359.6,654.5 1357.1,653.3 1354.5,654.8 1351.9,654.8 1349.3,654.2 1346.7,652.9 1344.1,657.8 1341.5,653.0 1338.9,647.3 1336.4,653.6 1333.8,651.5 1331.2,656.7 1328.6,653.5 1326.0,654.8 1323.4,656.4 1320.8,648.5 1318.2,654.4 1315.7,654.3 1313.1,652.3 1310.5,649.1 1307.9,654.7 1305.3,655.3 1302.7,654.5 1300.1,654.3 1297.5,652.3 1295.0,653.2 1292.4,656.4 1289.8,655.8 1287.2,645.9 1284.6,652.7 1282.0,654.2 1279.4,654.8 1276.8,657.5 1274.3,648.1 1271.7,654.1 1269.1,657.9 1266.5,652.1 1263.9,647.9 1261.3,650.4 1258.7,654.2 1256.1,649.4 1253.6,646.5 1251.0,653.7 1248.4,652.7 1245.8,654.4 1243.2,656.3 1240.6,654.4 1238.0,656.1 1235.4,653.2 1232.9,655.3 1230.3,656.4 1227.7,652.7 1225.1,654.6 1222.5,655.9 1219.9,654.8 1217.3,653.2 1214.7,654.9 1212.2,653.4 1209.6,648.2 1207.0,654.7 1204.4,656.5 1201.8,653.4 1199.2,649.3 1196.6,645.8 1194.0,651.4 1191.5,649.2 1188.9,655.5 1186.3,654.3 1183.7,655.5 1181.1,649.4 1178.5,652.4 1175.9,653.4 1173.3,654.0 1170.7,646.1 1168.2,654.2 1165.6,654.4 1163.0,650.8 1160.4,648.1 1157.8,649.5 1155.2,652.6 1152.6,648.5 1150.0,653.5 1147.5,652.1 1144.9,653.3 1142.3,655.1 1139.7,653.7 1137.1,652.5 1134.5,653.8 1131.9,649.8 1129.3,647.3 1126.8,652.4 1124.2,653.7 1121.6,653.2 1119.0,650.1 1116.4,654.1 1113.8,653.2 1111.2,645.0 1108.6,641.6 1106.1,646.8 1103.5,656.4 1100.9,654.7 1098.3,656.4 1095.7,654.5 1093.1,653.9 1090.5,653.5 1087.9,654.6 1085.4,653.6 1082.8,655.3 1080.2,653.8 1077.6,654.8 1075.0,654.0 1072.4,654.6 1069.8,654.0 1067.2,648.5 1064.7,652.2 1062.1,653.4 1059.5,653.5 1056.9,653.3 1054.3,653.2 1051.7,650.7 1049.1,648.3 1046.5,655.9 1044.0,654.5 1041.4,654.3 1038.8,656.2 1036.2,655.4 1033.6,652.4 1031.0,655.6 1028.4,656.0 1025.8,652.5 1023.3,655.0 1020.7,647.9 1018.1,656.9 1015.5,656.5 1012.9,653.4 1010.3,655.5 1007.7,657.6 1005.1,649.5 1002.6,656.1 1000.0,657.9 997.4,648.7 994.8,654.8 992.2,653.8 989.6,654.7 987.0,652.7 984.4,654.2 981.9,656.5 979.3,652.2 976.7,656.8 974.1,655.6 971.5,655.0 968.9,652.6 966.3,649.7 963.7,653.8 961.2,654.2 958.6,657.3 956.0,648.8 953.4,639.0 950.8,649.5 948.2,651.8 945.6,654.4 943.0,654.2 940.4,655.6 937.9,652.6 935.3,656.3 932.7,654.9 930.1,653.9 927.5,653.8 924.9,654.3 922.3,651.2 919.7,655.7 917.2,655.1 914.6,654.6 912.0,654.3 909.4,647.8 906.8,650.0 904.2,648.6 901.6,652.7 899.0,657.3 896.5,654.4 893.9,657.4 891.3,653.3 888.7,653.8 886.1,649.0 883.5,654.2 880.9,656.1 878.3,653.9 875.8,655.6 873.2,653.3 870.6,655.8 868.0,655.3 865.4,652.5 862.8,653.2 860.2,653.4 857.6,653.0 855.1,649.6 852.5,656.8 849.9,657.0 847.3,654.1 844.7,650.4 842.1,657.0 839.5,655.6 836.9,648.6 834.4,651.8 831.8,655.3 829.2,653.6 826.6,654.1 824.0,649.7 821.4,656.4 818.8,650.1 816.2,653.1 813.7,655.3 811.1,648.0 808.5,654.3 805.9,655.3 803.3,648.5 800.7,651.8 798.1,650.7 795.5,645.8 793.0,641.1 790.4,647.6 787.8,651.1 785.2,652.2 782.6,649.0 780.0,651.0 777.4,651.3 774.8,649.7 772.3,649.5 769.7,648.9 767.1,654.6 764.5,651.1 761.9,652.9 759.3,656.2 756.7,656.6 754.1,654.1 751.6,653.7 749.0,652.5 746.4,655.7 743.8,655.5 741.2,656.2 738.6,656.0 736.0,654.5 733.4,647.0 730.8,652.6 728.3,652.7 725.7,657.0 723.1,650.5 720.5,654.1 717.9,653.0 715.3,652.1 712.7,651.7 710.1,649.0 707.6,649.3 705.0,655.1 702.4,649.4 699.8,649.1 697.2,647.2 694.6,652.9 692.0,654.5 689.4,652.6 686.9,654.5 684.3,655.9 681.7,652.6 679.1,656.1 676.5,653.6 673.9,648.2 671.3,653.7 668.7,652.8 666.2,655.3 663.6,652.9 661.0,654.8 658.4,657.3 655.8,655.8 653.2,654.1 650.6,645.5 648.0,653.9 645.5,651.4 642.9,649.8 640.3,648.1 637.7,648.7 635.1,656.7 632.5,654.2 629.9,653.3 627.3,653.7 624.8,653.3 622.2,654.2 619.6,654.9 617.0,653.7 614.4,653.0 611.8,646.3 609.2,648.8 606.6,649.5 604.1,648.7 601.5,652.6 598.9,651.1 596.3,651.5 593.7,649.7 591.1,651.6 588.5,657.2 585.9,654.6 583.4,649.7 580.8,655.7 578.2,648.5 575.6,651.4 573.0,655.1 570.4,651.0 567.8,651.1 565.2,655.3 562.7,652.7 560.1,651.3 557.5,649.9 554.9,654.5 552.3,655.9 549.7,656.0 547.1,653.9 544.5,655.5 542.0,653.6 539.4,652.6 536.8,656.3 534.2,653.7 531.6,655.4 529.0,654.0 526.4,653.4 523.8,653.1 521.3,650.5 518.7,656.9 516.1,654.8 513.5,654.8 510.9,648.1 508.3,653.0 505.7,649.6 503.1,652.7 500.5,655.1 498.0,653.5 495.4,653.3 492.8,653.1 490.2,654.3 487.6,652.1 485.0,649.3 482.4,652.3 479.8,645.9 477.3,654.7 474.7,652.4 472.1,654.0 469.5,655.4 466.9,652.5 464.3,652.5 461.7,647.9 459.1,656.0 456.6,652.1 454.0,653.1 451.4,653.8 448.8,648.8 446.2,655.9 443.6,653.4 441.0,654.5 438.4,656.2 435.9,653.1 433.3,657.3 430.7,655.0 428.1,653.3 425.5,654.6 422.9,657.4 420.3,654.2 417.7,653.6 415.2,655.4 412.6,656.2 410.0,650.1 407.4,652.4 404.8,654.0 402.2,649.4 399.6,654.3 397.0,654.3 394.5,652.1 391.9,653.7 389.3,655.9 386.7,653.0 384.1,650.2 381.5,652.9 378.9,654.5 376.3,648.1 373.8,647.8 371.2,648.3 368.6,654.0 366.0,648.2 363.4,656.5 360.8,653.9 358.2,654.8 355.6,656.8 353.1,656.8 350.5,652.9 347.9,655.1 345.3,646.8 342.7,649.7 340.1,654.8 337.5,655.6 334.9,655.4 332.4,655.6 329.8,654.5 327.2,653.0 324.6,645.5 322.0,650.6 319.4,656.0 316.8,653.9 314.2,656.0 311.7,654.8 309.1,652.7 306.5,654.2 303.9,655.1 301.3,656.2 298.7,654.8 296.1,651.4 293.5,650.5 290.9,656.2 288.4,651.0 285.8,654.4 283.2,654.5 280.6,656.6 278.0,657.2 275.4,654.4 272.8,652.5 270.2,654.0 267.7,655.9 265.1,655.7 262.5,655.3 259.9,653.4 257.3,655.7 254.7,655.6 252.1,652.1 249.5,653.0 247.0,649.2 244.4,653.6 241.8,653.1 239.2,650.3 236.6,651.3 234.0,656.8 231.4,650.6 228.8,653.0 226.3,650.7 223.7,652.8 221.1,657.1 218.5,652.0 215.9,648.6 213.3,654.1 210.7,655.1 208.1,656.1 205.6,653.7 203.0,645.8 200.4,636.0 197.8,642.9 195.2,654.2 192.6,646.9 190.0,657.8 187.4,656.2 184.9,653.7 182.3,648.2 179.7,639.9 177.1,635.5 174.5,639.6 171.9,649.2 169.3,654.8 166.7,646.7 164.2,653.6 161.6,656.2 159.0,652.7 156.4,654.5 153.8,654.7 151.2,656.9 148.6,651.7 146.0,652.2 143.5,650.8 140.9,648.6 138.3,655.2 135.7,655.9 133.1,653.8 130.5,653.2 127.9,653.8 125.3,653.3 122.8,656.2 120.2,654.9 117.6,652.1 115.0,656.4 112.4,649.8 109.8,650.5 107.2,652.8 104.6,657.0 102.1,652.3 99.5,655.6 96.9,651.1 94.3,656.5 91.7,654.6 89.1,651.0 86.5,652.3 83.9,650.8 81.4,654.4 78.8,649.1 76.2,630.1 73.6,626.2 71.0,647.7" fill="#d9680f" fill-opacity="0.82"/>
<polygon points="71.0,645.4 73.6,624.6 76.2,628.8 78.8,648.0 81.4,653.2 83.9,648.1 86.5,651.2 89.1,649.3 91.7,653.7 94.3,654.8 96.9,650.1 99.5,654.4 102.1,651.3 104.6,656.5 107.2,651.8 109.8,649.1 112.4,648.0 115.0,655.6 117.6,650.4 120.2,653.1 122.8,654.9 125.3,652.5 127.9,652.9 130.5,652.2 133.1,652.3 135.7,655.2 138.3,654.1 140.9,647.3 143.5,649.5 146.0,650.8 148.6,650.6 151.2,655.8 153.8,653.6 156.4,653.5 159.0,649.4 161.6,655.6 164.2,651.1 166.7,645.3 169.3,654.1 171.9,648.4 174.5,638.7 177.1,634.3 179.7,638.9 182.3,647.2 184.9,652.5 187.4,655.5 190.0,656.4 192.6,646.2 195.2,652.7 197.8,642.3 200.4,635.3 203.0,645.2 205.6,652.3 208.1,654.2 210.7,654.0 213.3,652.3 215.9,647.6 218.5,651.6 221.1,655.9 223.7,651.2 226.3,649.2 228.8,651.6 231.4,649.2 234.0,655.1 236.6,649.9 239.2,649.6 241.8,651.1 244.4,652.8 247.0,647.9 249.5,652.3 252.1,649.1 254.7,654.2 257.3,655.0 259.9,651.8 262.5,653.1 265.1,654.2 267.7,655.1 270.2,652.2 272.8,651.8 275.4,653.9 278.0,655.6 280.6,655.7 283.2,653.2 285.8,651.8 288.4,649.2 290.9,654.6 293.5,648.7 296.1,650.9 298.7,653.2 301.3,655.4 303.9,654.3 306.5,653.4 309.1,651.5 311.7,654.0 314.2,655.1 316.8,652.6 319.4,654.9 322.0,650.1 324.6,644.2 327.2,651.4 329.8,651.2 332.4,654.7 334.9,654.7 337.5,654.5 340.1,652.2 342.7,649.1 345.3,644.1 347.9,654.1 350.5,652.1 353.1,655.8 355.6,655.2 358.2,653.6 360.8,652.4 363.4,655.3 366.0,647.0 368.6,653.2 371.2,647.6 373.8,646.8 376.3,645.4 378.9,653.3 381.5,652.2 384.1,649.4 386.7,651.7 389.3,654.6 391.9,652.3 394.5,650.8 397.0,653.1 399.6,653.3 402.2,648.5 404.8,653.0 407.4,651.2 410.0,648.8 412.6,655.7 415.2,654.4 417.7,652.9 420.3,653.2 422.9,656.4 425.5,653.7 428.1,652.5 430.7,654.3 433.3,653.6 435.9,644.8 438.4,652.1 441.0,653.1 443.6,652.0 446.2,655.0 448.8,647.6 451.4,653.0 454.0,651.5 456.6,651.4 459.1,654.7 461.7,646.5 464.3,651.2 466.9,651.6 469.5,654.4 472.1,652.4 474.7,651.7 477.3,653.3 479.8,644.5 482.4,651.3 485.0,648.1 487.6,651.3 490.2,653.4 492.8,652.2 495.4,652.4 498.0,652.2 500.5,654.4 503.1,651.3 505.7,648.3 508.3,652.0 510.9,646.7 513.5,653.7 516.1,653.3 518.7,656.3 521.3,649.0 523.8,652.3 526.4,652.1 529.0,652.3 531.6,654.2 534.2,652.4 536.8,652.7 539.4,651.0 542.0,652.5 544.5,654.3 547.1,653.0 549.7,655.4 552.3,654.0 554.9,652.9 557.5,648.9 560.1,649.9 562.7,651.3 565.2,654.5 567.8,649.6 570.4,650.2 573.0,653.6 575.6,650.3 578.2,647.7 580.8,654.7 583.4,648.7 585.9,653.9 588.5,654.5 591.1,651.0 593.7,648.9 596.3,648.3 598.9,649.6 601.5,651.6 604.1,647.6 606.6,648.8 609.2,646.3 611.8,645.7 614.4,652.1 617.0,652.3 619.6,653.2 622.2,653.2 624.8,651.7 627.3,652.5 629.9,652.1 632.5,653.0 635.1,655.7 637.7,647.4 640.3,647.3 642.9,646.9 645.5,649.9 648.0,652.5 650.6,644.3 653.2,653.1 655.8,654.4 658.4,656.6 661.0,652.4 663.6,651.6 666.2,654.5 668.7,651.1 671.3,653.0 673.9,647.1 676.5,652.8 679.1,655.1 681.7,651.9 684.3,653.6 686.9,653.1 689.4,651.3 692.0,653.4 694.6,652.1 697.2,646.1 699.8,648.3 702.4,648.6 705.0,653.9 707.6,647.9 710.1,648.1 712.7,650.5 715.3,651.4 717.9,650.5 720.5,653.0 723.1,649.8 725.7,655.6 728.3,652.1 730.8,651.0 733.4,645.5 736.0,653.4 738.6,654.3 741.2,655.5 743.8,654.6 746.4,654.6 749.0,651.9 751.6,652.2 754.1,653.1 756.7,655.1 759.3,655.1 761.9,651.6 764.5,649.6 767.1,653.9 769.7,645.7 772.3,648.5 774.8,648.7 777.4,649.5 780.0,649.7 782.6,648.3 785.2,651.5 787.8,650.0 790.4,646.7 793.0,639.8 795.5,645.1 798.1,649.3 800.7,650.4 803.3,647.5 805.9,653.9 808.5,653.2 811.1,647.0 813.7,654.5 816.2,650.7 818.8,649.5 821.4,655.5 824.0,648.1 826.6,653.1 829.2,652.8 831.8,654.8 834.4,650.5 836.9,647.4 839.5,655.0 842.1,655.5 844.7,649.7 847.3,652.6 849.9,656.0 852.5,655.8 855.1,648.5 857.6,651.5 860.2,651.0 862.8,652.7 865.4,651.8 868.0,654.0 870.6,654.7 873.2,652.4 875.8,654.0 878.3,652.8 880.9,654.5 883.5,652.1 886.1,648.2 888.7,650.9 891.3,652.4 893.9,656.6 896.5,653.4 899.0,656.7 901.6,651.6 904.2,647.5 906.8,646.6 909.4,646.5 912.0,653.2 914.6,653.2 917.2,654.0 919.7,654.0 922.3,650.4 924.9,653.2 927.5,652.9 930.1,653.0 932.7,653.5 935.3,654.8 937.9,651.3 940.4,654.8 943.0,653.1 945.6,652.9 948.2,651.1 950.8,647.8 953.4,638.1 956.0,647.2 958.6,656.1 961.2,653.1 963.7,652.7 966.3,648.7 968.9,651.9 971.5,653.8 974.1,654.4 976.7,655.4 979.3,651.1 981.9,655.0 984.4,653.3 987.0,651.0 989.6,653.9 992.2,652.8 994.8,653.6 997.4,647.3 1000.0,657.1 1002.6,655.4 1005.1,648.2 1007.7,656.7 1010.3,654.8 1012.9,652.2 1015.5,655.1 1018.1,655.3 1020.7,646.3 1023.3,653.7 1025.8,651.0 1028.4,655.0 1031.0,654.2 1033.6,651.3 1036.2,654.8 1038.8,654.7 1041.4,651.2 1044.0,653.0 1046.5,653.9 1049.1,647.0 1051.7,649.5 1054.3,649.7 1056.9,652.5 1059.5,652.7 1062.1,651.9 1064.7,651.1 1067.2,646.6 1069.8,653.2 1072.4,653.2 1075.0,652.8 1077.6,653.8 1080.2,653.2 1082.8,653.6 1085.4,652.2 1087.9,652.5 1090.5,652.1 1093.1,652.4 1095.7,653.9 1098.3,654.8 1100.9,652.6 1103.5,655.4 1106.1,646.1 1108.6,640.5 1111.2,642.1 1113.8,652.3 1116.4,653.3 1119.0,649.3 1121.6,652.1 1124.2,653.0 1126.8,651.0 1129.3,645.6 1131.9,648.6 1134.5,653.1 1137.1,651.3 1139.7,650.8 1142.3,653.7 1144.9,652.4 1147.5,650.2 1150.0,651.0 1152.6,647.3 1155.2,651.3 1157.8,648.3 1160.4,647.0 1163.0,649.9 1165.6,653.2 1168.2,652.5 1170.7,644.8 1173.3,652.3 1175.9,652.8 1178.5,651.6 1181.1,648.1 1183.7,653.0 1186.3,652.8 1188.9,654.2 1191.5,648.6 1194.0,650.1 1196.6,644.4 1199.2,648.0 1201.8,650.9 1204.4,655.6 1207.0,654.0 1209.6,645.8 1212.2,652.7 1214.7,654.2 1217.3,652.3 1219.9,654.0 1222.5,653.4 1225.1,653.4 1227.7,651.7 1230.3,655.7 1232.9,654.3 1235.4,651.7 1238.0,655.3 1240.6,653.5 1243.2,655.4 1245.8,652.7 1248.4,651.2 1251.0,653.0 1253.6,645.7 1256.1,648.2 1258.7,652.7 1261.3,649.4 1263.9,647.3 1266.5,650.8 1269.1,656.2 1271.7,653.3 1274.3,646.4 1276.8,656.7 1279.4,653.8 1282.0,652.8 1284.6,651.6 1287.2,644.3 1289.8,654.7 1292.4,655.6 1295.0,652.5 1297.5,649.4 1300.1,653.5 1302.7,654.0 1305.3,653.8 1307.9,651.5 1310.5,647.9 1313.1,650.7 1315.7,653.6 1318.2,652.8 1320.8,647.3 1323.4,655.7 1326.0,653.6 1328.6,652.5 1331.2,655.1 1333.8,650.3 1336.4,651.9 1338.9,646.2 1341.5,650.4 1344.1,656.4 1346.7,651.4 1349.3,652.7 1351.9,653.7 1354.5,654.0 1357.1,651.6 1359.6,653.6 1362.2,650.4 1364.8,653.7 1367.4,651.3 1370.0,648.6 1372.6,651.3 1375.2,651.8 1377.8,652.4 1380.3,655.2 1382.9,652.0 1385.5,652.0 1388.1,653.4 1390.7,652.6 1393.3,653.2 1395.9,651.4 1398.5,652.7 1401.1,653.1 1403.6,648.8 1406.2,654.4 1408.8,654.0 1411.4,647.1 1414.0,652.6 1416.6,642.3 1419.2,638.6 1421.8,646.5 1424.3,655.0 1426.9,650.7 1429.5,651.7 1432.1,651.6 1434.7,653.8 1437.3,656.2 1439.9,653.8 1442.5,647.0 1445.0,638.0 1447.6,650.2 1450.2,654.4 1452.8,654.5 1455.4,655.1 1458.0,652.5 1460.6,646.2 1463.2,654.3 1465.7,652.4 1468.3,655.5 1470.9,652.5 1473.5,650.9 1476.1,650.0 1478.7,649.7 1481.3,656.2 1483.9,648.7 1486.4,650.5 1489.0,650.5 1491.6,649.7 1494.2,649.4 1496.8,638.5 1499.4,647.2 1502.0,648.0 1504.6,652.3 1507.1,657.1 1509.7,652.5 1512.3,648.4 1514.9,654.1 1517.5,654.0 1520.1,653.0 1522.7,654.6 1525.3,652.0 1527.8,650.0 1530.4,653.9 1533.0,652.1 1535.6,652.0 1538.2,653.1 1540.8,647.5 1543.4,650.8 1546.0,652.9 1548.5,648.2 1551.1,653.9 1553.7,655.7 1556.3,647.8 1558.9,653.7 1561.5,654.5 1564.1,651.7 1566.7,655.3 1569.2,654.3 1571.8,649.6 1574.4,651.0 1577.0,653.3 1579.6,654.6 1582.2,655.3 1584.8,655.3 1587.4,654.8 1589.9,648.5 1592.5,652.1 1595.1,650.5 1597.7,654.9 1600.3,651.2 1602.9,654.5 1605.5,652.9 1608.1,646.7 1610.6,653.9 1613.2,647.8 1615.8,653.4 1618.4,654.5 1621.0,647.6 1621.0,648.8 1618.4,655.3 1615.8,654.8 1613.2,649.1 1610.6,654.7 1608.1,647.9 1605.5,654.1 1602.9,655.8 1600.3,653.2 1597.7,655.3 1595.1,653.6 1592.5,653.3 1589.9,649.1 1587.4,655.9 1584.8,656.4 1582.2,655.9 1579.6,655.4 1577.0,654.7 1574.4,652.3 1571.8,650.6 1569.2,655.2 1566.7,656.3 1564.1,653.0 1561.5,655.8 1558.9,654.5 1556.3,648.5 1553.7,656.1 1551.1,654.5 1548.5,649.6 1546.0,654.3 1543.4,651.6 1540.8,649.4 1538.2,654.3 1535.6,653.1 1533.0,653.3 1530.4,654.6 1527.8,651.0 1525.3,653.4 1522.7,655.9 1520.1,653.7 1517.5,654.5 1514.9,655.0 1512.3,649.0 1509.7,653.6 1507.1,657.8 1504.6,652.9 1502.0,648.6 1499.4,648.0 1496.8,639.2 1494.2,650.0 1491.6,650.9 1489.0,651.1 1486.4,651.6 1483.9,649.3 1481.3,656.9 1478.7,651.9 1476.1,651.8 1473.5,651.8 1470.9,653.6 1468.3,656.8 1465.7,653.2 1463.2,655.4 1460.6,647.1 1458.0,653.6 1455.4,656.5 1452.8,655.1 1450.2,655.1 1447.6,651.1 1445.0,639.4 1442.5,647.9 1439.9,654.5 1437.3,657.4 1434.7,654.7 1432.1,653.0 1429.5,652.9 1426.9,651.7 1424.3,656.2 1421.8,647.1 1419.2,639.5 1416.6,643.1 1414.0,653.4 1411.4,648.2 1408.8,654.6 1406.2,655.3 1403.6,650.1 1401.1,654.5 1398.5,653.7 1395.9,652.2 1393.3,653.9 1390.7,653.7 1388.1,654.7 1385.5,652.8 1382.9,652.9 1380.3,655.8 1377.8,653.0 1375.2,654.2 1372.6,652.4 1370.0,649.2 1367.4,652.0 1364.8,654.7 1362.2,651.7 1359.6,654.2 1357.1,653.0 1354.5,654.7 1351.9,654.7 1349.3,653.8 1346.7,652.7 1344.1,657.6 1341.5,653.0 1338.9,647.0 1336.4,653.2 1333.8,651.4 1331.2,656.3 1328.6,653.3 1326.0,654.8 1323.4,656.3 1320.8,648.5 1318.2,654.2 1315.7,654.1 1313.1,652.2 1310.5,648.7 1307.9,654.4 1305.3,655.0 1302.7,654.5 1300.1,654.1 1297.5,652.2 1295.0,653.0 1292.4,656.3 1289.8,655.8 1287.2,645.5 1284.6,652.4 1282.0,654.1 1279.4,654.7 1276.8,657.1 1274.3,647.8 1271.7,654.0 1269.1,657.4 1266.5,651.9 1263.9,647.8 1261.3,650.0 1258.7,654.1 1256.1,649.1 1253.6,646.3 1251.0,653.7 1248.4,652.6 1245.8,654.1 1243.2,655.9 1240.6,654.1 1238.0,656.1 1235.4,653.1 1232.9,655.2 1230.3,656.3 1227.7,652.3 1225.1,654.4 1222.5,655.7 1219.9,654.5 1217.3,653.0 1214.7,654.8 1212.2,653.4 1209.6,647.8 1207.0,654.6 1204.4,656.4 1201.8,653.3 1199.2,649.1 1196.6,645.7 1194.0,651.2 1191.5,649.1 1188.9,655.2 1186.3,654.0 1183.7,655.4 1181.1,649.1 1178.5,652.2 1175.9,653.4 1173.3,653.7 1170.7,645.9 1168.2,653.8 1165.6,654.2 1163.0,650.5 1160.4,647.8 1157.8,649.5 1155.2,652.4 1152.6,648.5 1150.0,653.4 1147.5,651.8 1144.9,653.2 1142.3,654.8 1139.7,653.4 1137.1,652.1 1134.5,653.6 1131.9,649.7 1129.3,647.0 1126.8,652.2 1124.2,653.5 1121.6,653.1 1119.0,649.8 1116.4,654.0 1113.8,653.1 1111.2,644.9 1108.6,641.4 1106.1,646.6 1103.5,656.2 1100.9,654.7 1098.3,656.0 1095.7,654.4 1093.1,653.5 1090.5,653.4 1087.9,654.5 1085.4,653.5 1082.8,655.0 1080.2,653.7 1077.6,654.5 1075.0,653.8 1072.4,654.5 1069.8,653.9 1067.2,648.5 1064.7,652.1 1062.1,652.9 1059.5,653.5 1056.9,653.0 1054.3,653.0 1051.7,650.3 1049.1,647.9 1046.5,655.8 1044.0,654.3 1041.4,654.3 1038.8,655.8 1036.2,655.4 1033.6,652.4 1031.0,655.3 1028.4,655.7 1025.8,652.2 1023.3,655.0 1020.7,647.5 1018.1,656.5 1015.5,656.2 1012.9,653.1 1010.3,655.4 1007.7,657.4 1005.1,649.2 1002.6,656.0 1000.0,657.6 997.4,648.5 994.8,654.7 992.2,653.8 989.6,654.4 987.0,652.3 984.4,653.8 981.9,656.4 979.3,652.1 976.7,656.7 974.1,655.6 971.5,654.6 968.9,652.5 966.3,649.7 963.7,653.6 961.2,654.0 958.6,657.1 956.0,648.4 953.4,638.9 950.8,649.0 948.2,651.6 945.6,654.1 943.0,654.0 940.4,655.3 937.9,652.4 935.3,656.0 932.7,654.5 930.1,653.8 927.5,653.7 924.9,654.2 922.3,651.2 919.7,655.3 917.2,654.9 914.6,654.5 912.0,654.1 909.4,647.4 906.8,649.6 904.2,648.6 901.6,652.4 899.0,657.2 896.5,654.1 893.9,657.1 891.3,652.9 888.7,653.5 886.1,648.7 883.5,653.7 880.9,655.8 878.3,653.5 875.8,655.5 873.2,653.0 870.6,655.8 868.0,655.1 865.4,652.4 862.8,653.2 860.2,652.9 857.6,652.7 855.1,649.4 852.5,656.8 849.9,656.9 847.3,653.7 844.7,650.3 842.1,656.6 839.5,655.5 836.9,648.2 834.4,651.7 831.8,655.3 829.2,653.5 826.6,653.8 824.0,649.3 821.4,656.2 818.8,649.9 816.2,652.7 813.7,655.1 811.1,647.9 808.5,654.0 805.9,655.0 803.3,648.5 800.7,651.5 798.1,650.3 795.5,645.8 793.0,641.1 790.4,647.6 787.8,650.9 785.2,652.1 782.6,648.8 780.0,650.6 777.4,650.9 774.8,649.5 772.3,649.3 769.7,648.8 767.1,654.4 764.5,650.8 761.9,652.8 759.3,656.1 756.7,656.2 754.1,654.1 751.6,653.6 749.0,652.4 746.4,655.7 743.8,655.3 741.2,656.0 738.6,655.7 736.0,654.4 733.4,646.9 730.8,652.2 728.3,652.6 725.7,656.7 723.1,650.4 720.5,653.7 717.9,652.9 715.3,652.0 712.7,651.3 710.1,648.8 707.6,649.2 705.0,654.7 702.4,649.3 699.8,649.0 697.2,647.1 694.6,652.8 692.0,654.2 689.4,652.2 686.9,654.4 684.3,655.6 681.7,652.4 679.1,655.8 676.5,653.6 673.9,648.0 671.3,653.5 668.7,652.5 666.2,655.3 663.6,652.7 661.0,654.4 658.4,657.1 655.8,655.6 653.2,653.9 650.6,645.5 648.0,653.6 645.5,651.0 642.9,649.4 640.3,648.1 637.7,648.5 635.1,656.7 632.5,654.0 629.9,652.9 627.3,653.6 624.8,652.9 622.2,654.1 619.6,654.4 617.0,653.3 614.4,652.7 611.8,646.3 609.2,648.5 606.6,649.3 604.1,648.4 601.5,652.6 598.9,650.9 596.3,651.3 593.7,649.5 591.1,651.6 588.5,657.0 585.9,654.6 583.4,649.6 580.8,655.6 578.2,648.3 575.6,651.2 573.0,655.0 570.4,650.9 567.8,650.7 565.2,655.0 562.7,652.7 560.1,651.3 557.5,649.9 554.9,654.3 552.3,655.8 549.7,655.9 547.1,653.6 544.5,655.5 542.0,653.5 539.4,652.3 536.8,655.9 534.2,653.4 531.6,655.2 529.0,653.7 526.4,653.2 523.8,653.1 521.3,650.3 518.7,656.8 516.1,654.7 513.5,654.6 510.9,647.7 508.3,652.9 505.7,649.5 503.1,652.5 500.5,655.1 498.0,653.2 495.4,653.1 492.8,652.8 490.2,653.9 487.6,651.8 485.0,649.1 482.4,652.2 479.8,645.7 477.3,654.6 474.7,652.3 472.1,653.6 469.5,655.2 466.9,652.3 464.3,652.1 461.7,647.6 459.1,655.9 456.6,652.1 454.0,652.9 451.4,653.5 448.8,648.4 446.2,655.6 443.6,653.1 441.0,654.3 438.4,656.0 435.9,653.0 433.3,657.0 430.7,654.9 428.1,653.1 425.5,654.4 422.9,657.2 420.3,654.0 417.7,653.4 415.2,655.3 412.6,656.1 410.0,650.0 407.4,652.3 404.8,653.7 402.2,649.0 399.6,654.3 397.0,653.9 394.5,651.8 391.9,653.4 389.3,655.8 386.7,652.6 384.1,650.2 381.5,652.6 378.9,654.3 376.3,647.9 373.8,647.5 371.2,648.2 368.6,654.0 366.0,648.0 363.4,656.4 360.8,653.5 358.2,654.6 355.6,656.5 353.1,656.4 350.5,652.9 347.9,654.7 345.3,646.4 342.7,649.7 340.1,654.6 337.5,655.6 334.9,655.4 332.4,655.5 329.8,654.1 327.2,652.8 324.6,645.3 322.0,650.6 319.4,655.9 316.8,653.7 314.2,655.7 311.7,654.6 309.1,652.3 306.5,653.8 303.9,654.9 301.3,656.1 298.7,654.5 296.1,651.4 293.5,650.2 290.9,655.9 288.4,650.6 285.8,654.3 283.2,654.3 280.6,656.2 278.0,656.8 275.4,654.3 272.8,652.4 270.2,653.6 267.7,655.7 265.1,655.6 262.5,654.9 259.9,653.0 257.3,655.7 254.7,655.3 252.1,651.9 249.5,652.9 247.0,648.8 244.4,653.5 241.8,653.0 239.2,650.3 236.6,650.9 234.0,656.5 231.4,650.3 228.8,652.7 226.3,650.6 223.7,652.6 221.1,657.1 218.5,652.0 215.9,648.2 213.3,653.7 210.7,654.9 208.1,656.0 205.6,653.4 203.0,645.7 200.4,635.8 197.8,642.9 195.2,653.9 192.6,646.6 190.0,657.6 187.4,656.2 184.9,653.3 182.3,648.1 179.7,639.6 177.1,635.1 174.5,639.2 171.9,649.0 169.3,654.7 166.7,646.6 164.2,653.3 161.6,656.1 159.0,652.5 156.4,654.3 153.8,654.3 151.2,656.9 148.6,651.6 146.0,652.0 143.5,650.7 140.9,648.3 138.3,655.0 135.7,655.7 133.1,653.6 130.5,653.0 127.9,653.5 125.3,653.1 122.8,655.8 120.2,654.5 117.6,651.9 115.0,656.3 112.4,649.3 109.8,650.4 107.2,652.6 104.6,656.9 102.1,652.1 99.5,655.3 96.9,651.0 94.3,656.1 91.7,654.3 89.1,650.5 86.5,652.0 83.9,650.7 81.4,654.1 78.8,648.9 76.2,630.0 73.6,625.9 71.0,647.7" fill="#ff3a1f" fill-opacity="0.82"/>
<polyline points="71.0,657.8 73.6,640.6 76.2,644.9 78.8,663.6 81.4,665.0 83.9,665.0 86.5,665.0 89.1,665.0 91.7,665.0 94.3,665.0 96.9,665.0 99.5,665.0 102.1,665.0 104.6,665.0 107.2,665.0 109.8,665.0 112.4,665.0 115.0,665.0 117.6,665.0 120.2,665.0 122.8,665.0 125.3,665.0 127.9,665.0 130.5,665.0 133.1,665.0 135.7,665.0 138.3,665.0 140.9,665.0 143.5,665.0 146.0,665.0 148.6,665.0 151.2,665.0 153.8,665.0 156.4,665.0 159.0,665.0 161.6,665.0 164.2,665.0 166.7,665.0 169.3,665.0 171.9,665.0 174.5,665.0 177.1,665.0 179.7,665.0 182.3,665.0 184.9,665.0 187.4,665.0 190.0,665.0 192.6,665.0 195.2,665.0 197.8,665.0 200.4,665.0 203.0,665.0 205.6,665.0 208.1,665.0 210.7,665.0 213.3,665.0 215.9,665.0 218.5,665.0 221.1,665.0 223.7,665.0 226.3,665.0 228.8,665.0 231.4,665.0 234.0,665.0 236.6,665.0 239.2,665.0 241.8,665.0 244.4,665.0 247.0,665.0 249.5,665.0 252.1,665.0 254.7,665.0 257.3,665.0 259.9,665.0 262.5,665.0 265.1,665.0 267.7,665.0 270.2,665.0 272.8,665.0 275.4,665.0 278.0,665.0 280.6,665.0 283.2,665.0 285.8,665.0 288.4,665.0 290.9,665.0 293.5,665.0 296.1,665.0 298.7,665.0 301.3,665.0 303.9,665.0 306.5,665.0 309.1,665.0 311.7,665.0 314.2,665.0 316.8,665.0 319.4,665.0 322.0,665.0 324.6,665.0 327.2,665.0 329.8,665.0 332.4,665.0 334.9,665.0 337.5,665.0 340.1,665.0 342.7,665.0 345.3,665.0 347.9,665.0 350.5,665.0 353.1,665.0 355.6,665.0 358.2,665.0 360.8,665.0 363.4,665.0 366.0,665.0 368.6,665.0 371.2,665.0 373.8,665.0 376.3,665.0 378.9,665.0 381.5,665.0 384.1,665.0 386.7,665.0 389.3,665.0 391.9,665.0 394.5,665.0 397.0,665.0 399.6,665.0 402.2,665.0 404.8,665.0 407.4,665.0 410.0,665.0 412.6,665.0 415.2,665.0 417.7,665.0 420.3,665.0 422.9,665.0 425.5,665.0 428.1,665.0 430.7,665.0 433.3,665.0 435.9,665.0 438.4,665.0 441.0,665.0 443.6,665.0 446.2,665.0 448.8,665.0 451.4,665.0 454.0,665.0 456.6,665.0 459.1,665.0 461.7,665.0 464.3,665.0 466.9,665.0 469.5,665.0 472.1,665.0 474.7,665.0 477.3,665.0 479.8,665.0 482.4,665.0 485.0,665.0 487.6,665.0 490.2,665.0 492.8,665.0 495.4,665.0 498.0,665.0 500.5,665.0 503.1,665.0 505.7,665.0 508.3,665.0 510.9,665.0 513.5,665.0 516.1,665.0 518.7,665.0 521.3,665.0 523.8,665.0 526.4,665.0 529.0,665.0 531.6,665.0 534.2,665.0 536.8,665.0 539.4,665.0 542.0,665.0 544.5,665.0 547.1,665.0 549.7,665.0 552.3,665.0 554.9,665.0 557.5,665.0 560.1,665.0 562.7,665.0 565.2,665.0 567.8,665.0 570.4,665.0 573.0,665.0 575.6,665.0 578.2,665.0 580.8,665.0 583.4,665.0 585.9,665.0 588.5,665.0 591.1,661.2 593.7,661.2 596.3,661.8 598.9,661.0 601.5,661.6 604.1,660.9 606.6,661.0 609.2,661.1 611.8,660.9 614.4,661.4 617.0,665.0 619.6,665.0 622.2,665.0 624.8,665.0 627.3,665.0 629.9,665.0 632.5,665.0 635.1,665.0 637.7,665.0 640.3,665.0 642.9,665.0 645.5,665.0 648.0,665.0 650.6,665.0 653.2,665.0 655.8,665.0 658.4,665.0 661.0,665.0 663.6,665.0 666.2,665.0 668.7,665.0 671.3,665.0 673.9,665.0 676.5,665.0 679.1,665.0 681.7,665.0 684.3,665.0 686.9,665.0 689.4,665.0 692.0,665.0 694.6,665.0 697.2,665.0 699.8,665.0 702.4,665.0 705.0,665.0 707.6,665.0 710.1,665.0 712.7,665.0 715.3,665.0 717.9,665.0 720.5,665.0 723.1,665.0 725.7,665.0 728.3,665.0 730.8,665.0 733.4,665.0 736.0,665.0 738.6,665.0 741.2,665.0 743.8,665.0 746.4,665.0 749.0,665.0 751.6,665.0 754.1,665.0 756.7,665.0 759.3,665.0 761.9,665.0 764.5,665.0 767.1,665.0 769.7,661.1 772.3,660.8 774.8,661.7 777.4,661.9 780.0,661.5 782.6,661.3 785.2,661.8 787.8,661.7 790.4,660.9 793.0,661.5 795.5,665.0 798.1,665.0 800.7,665.0 803.3,665.0 805.9,665.0 808.5,665.0 811.1,665.0 813.7,665.0 816.2,665.0 818.8,665.0 821.4,665.0 824.0,665.0 826.6,665.0 829.2,665.0 831.8,665.0 834.4,665.0 836.9,665.0 839.5,665.0 842.1,665.0 844.7,665.0 847.3,665.0 849.9,665.0 852.5,665.0 855.1,665.0 857.6,665.0 860.2,664.2 862.8,663.2 865.4,663.5 868.0,663.5 870.6,665.0 873.2,665.0 875.8,665.0 878.3,665.0 880.9,665.0 883.5,665.0 886.1,665.0 888.7,665.0 891.3,665.0 893.9,665.0 896.5,665.0 899.0,665.0 901.6,665.0 904.2,665.0 906.8,665.0 909.4,665.0 912.0,665.0 914.6,665.0 917.2,665.0 919.7,665.0 922.3,665.0 924.9,665.0 927.5,665.0 930.1,665.0 932.7,665.0 935.3,665.0 937.9,665.0 940.4,665.0 943.0,665.0 945.6,665.0 948.2,665.0 950.8,665.0 953.4,665.0 956.0,665.0 958.6,665.0 961.2,665.0 963.7,665.0 966.3,665.0 968.9,665.0 971.5,665.0 974.1,665.0 976.7,665.0 979.3,665.0 981.9,665.0 984.4,665.0 987.0,665.0 989.6,665.0 992.2,665.0 994.8,665.0 997.4,665.0 1000.0,665.0 1002.6,665.0 1005.1,665.0 1007.7,665.0 1010.3,665.0 1012.9,665.0 1015.5,665.0 1018.1,665.0 1020.7,665.0 1023.3,665.0 1025.8,665.0 1028.4,665.0 1031.0,665.0 1033.6,665.0 1036.2,665.0 1038.8,665.0 1041.4,665.0 1044.0,665.0 1046.5,665.0 1049.1,665.0 1051.7,665.0 1054.3,665.0 1056.9,665.0 1059.5,665.0 1062.1,665.0 1064.7,665.0 1067.2,665.0 1069.8,665.0 1072.4,665.0 1075.0,665.0 1077.6,665.0 1080.2,665.0 1082.8,665.0 1085.4,665.0 1087.9,665.0 1090.5,665.0 1093.1,665.0 1095.7,665.0 1098.3,665.0 1100.9,665.0 1103.5,665.0 1106.1,665.0 1108.6,665.0 1111.2,663.4 1113.8,663.4 1116.4,663.1 1119.0,663.4 1121.6,663.2 1124.2,663.1 1126.8,663.2 1129.3,663.2 1131.9,663.0 1134.5,663.5 1137.1,662.9 1139.7,663.4 1142.3,665.0 1144.9,665.0 1147.5,665.0 1150.0,665.0 1152.6,665.0 1155.2,665.0 1157.8,665.0 1160.4,665.0 1163.0,665.0 1165.6,665.0 1168.2,665.0 1170.7,665.0 1173.3,665.0 1175.9,665.0 1178.5,665.0 1181.1,665.0 1183.7,665.0 1186.3,665.0 1188.9,665.0 1191.5,665.0 1194.0,665.0 1196.6,665.0 1199.2,665.0 1201.8,665.0 1204.4,665.0 1207.0,665.0 1209.6,665.0 1212.2,665.0 1214.7,665.0 1217.3,665.0 1219.9,665.0 1222.5,665.0 1225.1,665.0 1227.7,665.0 1230.3,665.0 1232.9,665.0 1235.4,665.0 1238.0,665.0 1240.6,665.0 1243.2,665.0 1245.8,665.0 1248.4,665.0 1251.0,665.0 1253.6,665.0 1256.1,665.0 1258.7,665.0 1261.3,665.0 1263.9,665.0 1266.5,665.0 1269.1,665.0 1271.7,665.0 1274.3,665.0 1276.8,665.0 1279.4,665.0 1282.0,665.0 1284.6,665.0 1287.2,665.0 1289.8,665.0 1292.4,665.0 1295.0,665.0 1297.5,665.0 1300.1,665.0 1302.7,665.0 1305.3,665.0 1307.9,665.0 1310.5,665.0 1313.1,665.0 1315.7,665.0 1318.2,665.0 1320.8,665.0 1323.4,665.0 1326.0,665.0 1328.6,665.0 1331.2,665.0 1333.8,665.0 1336.4,665.0 1338.9,665.0 1341.5,665.0 1344.1,665.0 1346.7,665.0 1349.3,665.0 1351.9,665.0 1354.5,665.0 1357.1,665.0 1359.6,665.0 1362.2,665.0 1364.8,665.0 1367.4,665.0 1370.0,665.0 1372.6,665.0 1375.2,665.0 1377.8,665.0 1380.3,665.0 1382.9,665.0 1385.5,665.0 1388.1,665.0 1390.7,665.0 1393.3,665.0 1395.9,665.0 1398.5,665.0 1401.1,665.0 1403.6,665.0 1406.2,665.0 1408.8,665.0 1411.4,665.0 1414.0,665.0 1416.6,665.0 1419.2,665.0 1421.8,665.0 1424.3,665.0 1426.9,665.0 1429.5,665.0 1432.1,665.0 1434.7,665.0 1437.3,665.0 1439.9,665.0 1442.5,665.0 1445.0,665.0 1447.6,665.0 1450.2,665.0 1452.8,665.0 1455.4,665.0 1458.0,665.0 1460.6,665.0 1463.2,665.0 1465.7,665.0 1468.3,665.0 1470.9,665.0 1473.5,665.0 1476.1,665.0 1478.7,665.0 1481.3,665.0 1483.9,665.0 1486.4,665.0 1489.0,665.0 1491.6,665.0 1494.2,665.0 1496.8,665.0 1499.4,665.0 1502.0,665.0 1504.6,665.0 1507.1,665.0 1509.7,665.0 1512.3,665.0 1514.9,665.0 1517.5,665.0 1520.1,665.0 1522.7,665.0 1525.3,665.0 1527.8,665.0 1530.4,665.0 1533.0,665.0 1535.6,665.0 1538.2,665.0 1540.8,665.0 1543.4,665.0 1546.0,665.0 1548.5,665.0 1551.1,665.0 1553.7,665.0 1556.3,665.0 1558.9,665.0 1561.5,665.0 1564.1,665.0 1566.7,665.0 1569.2,665.0 1571.8,665.0 1574.4,665.0 1577.0,665.0 1579.6,665.0 1582.2,665.0 1584.8,665.0 1587.4,665.0 1589.9,665.0 1592.5,665.0 1595.1,665.0 1597.7,665.0 1600.3,665.0 1602.9,665.0 1605.5,665.0 1608.1,665.0 1610.6,665.0 1613.2,665.0 1615.8,665.0 1618.4,665.0 1621.0,665.0" fill="none" stroke="#c040e0" stroke-width="1"/>
<polyline points="71.0,657.8 73.6,640.6 76.2,644.5 78.8,662.1 81.4,663.7 83.9,663.8 86.5,663.6 89.1,663.7 91.7,664.7 94.3,664.6 96.9,664.8 99.5,665.0 102.1,664.1 104.6,664.1 107.2,664.8 109.8,663.1 112.4,664.6 115.0,664.8 117.6,663.3 120.2,664.9 122.8,664.9 125.3,664.1 127.9,664.7 130.5,664.6 133.1,665.0 135.7,664.9 138.3,664.8 140.9,664.8 143.5,663.6 146.0,663.4 148.6,663.7 151.2,664.0 153.8,664.0 156.4,664.8 159.0,664.7 161.6,663.2 164.2,663.3 166.7,665.0 169.3,664.8 171.9,664.9 174.5,664.9 177.1,664.8 179.7,663.5 182.3,664.6 184.9,664.9 187.4,664.8 190.0,665.0 192.6,663.3 195.2,663.5 197.8,663.6 200.4,664.6 203.0,663.6 205.6,663.9 208.1,663.5 210.7,664.7 213.3,663.9 215.9,664.9 218.5,663.2 221.1,664.9 223.7,664.6 226.3,664.8 228.8,664.8 231.4,663.6 234.0,664.6 236.6,663.8 239.2,663.1 241.8,663.2 244.4,664.0 247.0,664.6 249.5,664.8 252.1,663.5 254.7,664.6 257.3,664.8 259.9,663.5 262.5,664.8 265.1,664.7 267.7,663.9 270.2,664.7 272.8,664.6 275.4,664.1 278.0,664.6 280.6,664.8 283.2,663.4 285.8,664.9 288.4,663.5 290.9,664.8 293.5,663.8 296.1,663.8 298.7,663.7 301.3,664.6 303.9,664.6 306.5,663.1 309.1,664.9 311.7,663.2 314.2,664.7 316.8,664.7 319.4,664.7 322.0,664.6 324.6,664.6 327.2,664.7 329.8,664.7 332.4,664.6 334.9,664.0 337.5,664.1 340.1,663.8 342.7,664.9 345.3,664.8 347.9,664.6 350.5,664.6 353.1,664.6 355.6,663.8 358.2,664.0 360.8,664.6 363.4,663.7 366.0,663.5 368.6,664.9 371.2,663.5 373.8,663.3 376.3,664.6 378.9,664.8 381.5,664.9 384.1,663.7 386.7,663.3 389.3,663.2 391.9,663.8 394.5,663.7 397.0,664.7 399.6,665.0 402.2,663.3 404.8,665.0 407.4,664.7 410.0,664.6 412.6,663.6 415.2,663.2 417.7,663.9 420.3,664.7 422.9,664.6 425.5,664.8 428.1,663.5 430.7,663.9 433.3,664.8 435.9,664.8 438.4,664.8 441.0,664.7 443.6,664.7 446.2,664.7 448.8,664.7 451.4,664.1 454.0,663.4 456.6,663.7 459.1,664.8 461.7,663.9 464.3,663.9 466.9,664.0 469.5,665.0 472.1,663.8 474.7,663.5 477.3,664.7 479.8,663.5 482.4,663.6 485.0,664.8 487.6,663.8 490.2,663.2 492.8,663.8 495.4,664.8 498.0,663.5 500.5,664.7 503.1,663.5 505.7,663.9 508.3,663.8 510.9,664.7 513.5,665.0 516.1,663.9 518.7,664.0 521.3,663.3 523.8,663.4 526.4,664.6 529.0,663.8 531.6,663.8 534.2,663.5 536.8,663.9 539.4,663.3 542.0,664.8 544.5,664.9 547.1,664.8 549.7,664.7 552.3,665.0 554.9,663.3 557.5,663.2 560.1,664.6 562.7,663.5 565.2,665.0 567.8,663.5 570.4,663.4 573.0,664.1 575.6,664.0 578.2,663.7 580.8,664.8 583.4,664.0 585.9,664.9 588.5,664.7 591.1,660.2 593.7,660.1 596.3,660.1 598.9,660.6 601.5,661.3 604.1,659.9 606.6,660.6 609.2,661.0 611.8,659.5 614.4,660.3 617.0,664.0 619.6,663.4 622.2,663.3 624.8,664.8 627.3,663.3 629.9,663.2 632.5,664.0 635.1,664.9 637.7,663.6 640.3,664.9 642.9,664.8 645.5,665.0 648.0,664.8 650.6,663.7 653.2,664.6 655.8,664.7 658.4,664.8 661.0,664.6 663.6,664.6 666.2,664.7 668.7,663.6 671.3,663.3 673.9,663.3 676.5,664.7 679.1,664.7 681.7,663.9 684.3,664.0 686.9,663.8 689.4,664.8 692.0,665.0 694.6,663.6 697.2,664.7 699.8,663.8 702.4,664.9 705.0,664.8 707.6,664.6 710.1,664.9 712.7,664.7 715.3,664.8 717.9,664.8 720.5,663.8 723.1,665.0 725.7,665.0 728.3,664.7 730.8,664.1 733.4,663.7 736.0,663.3 738.6,664.7 741.2,663.9 743.8,663.9 746.4,664.8 749.0,664.7 751.6,664.7 754.1,663.4 756.7,664.8 759.3,664.9 761.9,664.0 764.5,664.8 767.1,663.2 769.7,660.9 772.3,659.1 774.8,660.1 777.4,661.7 780.0,660.5 782.6,661.2 785.2,661.5 787.8,660.7 790.4,660.6 793.0,659.9 795.5,664.6 798.1,664.7 800.7,663.2 803.3,664.8 805.9,664.6 808.5,665.0 811.1,663.6 813.7,664.1 816.2,664.6 818.8,664.8 821.4,664.1 824.0,663.2 826.6,663.8 829.2,663.6 831.8,663.7 834.4,664.8 836.9,663.8 839.5,664.6 842.1,664.7 844.7,663.2 847.3,663.3 849.9,663.8 852.5,664.8 855.1,665.0 857.6,663.5 860.2,663.9 862.8,661.5 865.4,663.2 868.0,662.5 870.6,663.7 873.2,664.1 875.8,664.8 878.3,664.0 880.9,664.6 883.5,663.8 886.1,664.1 888.7,663.4 891.3,664.8 893.9,664.8 896.5,664.6 899.0,665.0 901.6,663.6 904.2,664.6 906.8,664.7 909.4,664.7 912.0,663.9 914.6,663.8 917.2,663.6 919.7,663.9 922.3,664.8 924.9,663.7 927.5,664.0 930.1,664.9 932.7,664.0 935.3,664.8 937.9,664.8 940.4,664.7 943.0,664.8 945.6,663.5 948.2,664.9 950.8,663.7 953.4,664.9 956.0,663.6 958.6,664.9 961.2,663.9 963.7,664.9 966.3,664.6 968.9,663.6 971.5,664.6 974.1,664.6 976.7,664.7 979.3,663.2 981.9,664.7 984.4,663.6 987.0,663.5 989.6,664.1 992.2,664.9 994.8,663.3 997.4,663.8 1000.0,664.9 1002.6,664.8 1005.1,663.6 1007.7,664.7 1010.3,664.8 1012.9,664.1 1015.5,664.6 1018.1,664.9 1020.7,664.7 1023.3,663.8 1025.8,663.4 1028.4,664.6 1031.0,664.9 1033.6,663.3 1036.2,664.7 1038.8,664.7 1041.4,664.9 1044.0,664.9 1046.5,664.6 1049.1,663.7 1051.7,663.2 1054.3,663.8 1056.9,663.6 1059.5,664.6 1062.1,663.9 1064.7,663.8 1067.2,663.8 1069.8,664.6 1072.4,664.9 1075.0,663.5 1077.6,663.9 1080.2,664.6 1082.8,663.5 1085.4,663.4 1087.9,664.6 1090.5,663.3 1093.1,664.0 1095.7,663.3 1098.3,663.9 1100.9,664.1 1103.5,663.3 1106.1,663.9 1108.6,664.8 1111.2,662.3 1113.8,663.2 1116.4,662.8 1119.0,661.5 1121.6,662.8 1124.2,663.1 1126.8,662.9 1129.3,662.9 1131.9,662.6 1134.5,663.1 1137.1,661.1 1139.7,662.4 1142.3,664.8 1144.9,664.6 1147.5,663.5 1150.0,663.9 1152.6,664.6 1155.2,664.1 1157.8,665.0 1160.4,664.9 1163.0,663.3 1165.6,663.4 1168.2,664.7 1170.7,664.7 1173.3,664.8 1175.9,663.1 1178.5,663.8 1181.1,664.7 1183.7,664.6 1186.3,663.1 1188.9,665.0 1191.5,663.4 1194.0,663.4 1196.6,664.0 1199.2,663.9 1201.8,665.0 1204.4,664.6 1207.0,664.9 1209.6,664.8 1212.2,664.8 1214.7,665.0 1217.3,663.3 1219.9,663.9 1222.5,664.9 1225.1,664.1 1227.7,664.7 1230.3,663.2 1232.9,663.2 1235.4,663.6 1238.0,664.6 1240.6,664.1 1243.2,664.6 1245.8,664.7 1248.4,663.7 1251.0,664.8 1253.6,663.3 1256.1,664.9 1258.7,664.1 1261.3,664.8 1263.9,664.7 1266.5,664.8 1269.1,664.8 1271.7,663.5 1274.3,663.3 1276.8,664.7 1279.4,663.2 1282.0,665.0 1284.6,664.8 1287.2,664.7 1289.8,664.7 1292.4,664.8 1295.0,663.5 1297.5,663.3 1300.1,665.0 1302.7,663.6 1305.3,664.9 1307.9,664.6 1310.5,664.0 1313.1,665.0 1315.7,663.3 1318.2,664.0 1320.8,664.8 1323.4,664.9 1326.0,664.9 1328.6,663.2 1331.2,665.0 1333.8,663.3 1336.4,664.0 1338.9,664.6 1341.5,663.4 1344.1,665.0 1346.7,664.7 1349.3,664.7 1351.9,664.8 1354.5,663.7 1357.1,663.9 1359.6,664.9 1362.2,663.6 1364.8,663.9 1367.4,664.0 1370.0,663.7 1372.6,664.0 1375.2,663.9 1377.8,664.0 1380.3,664.8 1382.9,664.0 1385.5,664.0 1388.1,664.7 1390.7,664.7 1393.3,664.0 1395.9,663.7 1398.5,664.8 1401.1,664.7 1403.6,664.9 1406.2,665.0 1408.8,664.6 1411.4,663.5 1414.0,664.9 1416.6,664.9 1419.2,664.8 1421.8,663.8 1424.3,664.7 1426.9,663.6 1429.5,664.9 1432.1,663.9 1434.7,663.4 1437.3,664.7 1439.9,663.5 1442.5,663.2 1445.0,664.6 1447.6,664.0 1450.2,663.2 1452.8,664.9 1455.4,664.7 1458.0,663.6 1460.6,664.8 1463.2,664.8 1465.7,663.8 1468.3,665.0 1470.9,664.6 1473.5,663.9 1476.1,663.5 1478.7,663.8 1481.3,664.6 1483.9,664.7 1486.4,663.2 1489.0,664.6 1491.6,663.6 1494.2,663.9 1496.8,663.7 1499.4,663.7 1502.0,663.4 1504.6,664.8 1507.1,664.7 1509.7,663.1 1512.3,665.0 1514.9,664.7 1517.5,663.4 1520.1,664.7 1522.7,665.0 1525.3,664.8 1527.8,663.3 1530.4,663.7 1533.0,663.7 1535.6,663.9 1538.2,664.7 1540.8,664.9 1543.4,664.6 1546.0,663.4 1548.5,663.7 1551.1,664.6 1553.7,664.8 1556.3,663.8 1558.9,663.2 1561.5,663.6 1564.1,663.9 1566.7,664.7 1569.2,663.6 1571.8,664.8 1574.4,663.6 1577.0,663.8 1579.6,664.7 1582.2,664.8 1584.8,664.6 1587.4,664.8 1589.9,664.0 1592.5,663.6 1595.1,663.8 1597.7,663.4 1600.3,664.6 1602.9,665.0 1605.5,663.1 1608.1,664.6 1610.6,664.6 1613.2,664.6 1615.8,664.9 1618.4,663.3 1621.0,664.8" fill="none" stroke="#f09a10" stroke-width="1"/>
<polyline points="71.0,650.6 73.6,631.2 76.2,634.4 78.8,653.5 81.4,657.3 83.9,653.0 86.5,655.2 89.1,653.9 91.7,659.3 94.3,659.0 96.9,656.5 99.5,658.2 102.1,655.7 104.6,658.5 107.2,659.4 109.8,656.2 112.4,657.5 115.0,659.0 117.6,655.2 120.2,657.2 122.8,658.9 125.3,656.5 127.9,656.0 130.5,656.5 133.1,656.3 135.7,658.6 138.3,657.5 140.9,656.7 143.5,653.4 146.0,654.9 148.6,655.1 151.2,658.3 153.8,656.2 156.4,656.1 159.0,659.3 161.6,657.5 164.2,657.1 166.7,656.4 169.3,656.3 171.9,658.5 174.5,659.5 177.1,656.6 179.7,656.8 182.3,656.3 184.9,656.3 187.4,657.9 190.0,659.6 192.6,656.6 195.2,655.7 197.8,655.2 200.4,657.4 203.0,656.5 205.6,656.1 208.1,657.9 210.7,657.0 213.3,655.3 215.9,656.3 218.5,655.5 221.1,659.1 223.7,656.8 226.3,656.4 228.8,658.8 231.4,653.6 234.0,658.9 236.6,656.6 239.2,656.3 241.8,655.4 244.4,657.0 247.0,656.4 249.5,656.3 252.1,654.9 254.7,657.1 257.3,657.5 259.9,655.1 262.5,657.2 265.1,658.7 267.7,657.8 270.2,656.1 272.8,656.3 275.4,656.5 278.0,658.9 280.6,658.2 283.2,655.8 285.8,656.3 288.4,652.8 290.9,657.8 293.5,657.4 296.1,655.1 298.7,657.6 301.3,658.3 303.9,657.3 306.5,657.5 309.1,656.3 311.7,657.5 314.2,657.2 316.8,655.3 319.4,658.0 322.0,655.9 324.6,657.9 327.2,658.1 329.8,656.0 332.4,657.2 334.9,657.9 337.5,656.9 340.1,657.1 342.7,657.0 345.3,655.6 347.9,658.8 350.5,656.1 353.1,658.4 355.6,658.4 358.2,656.9 360.8,657.1 363.4,657.8 366.0,654.9 368.6,655.2 371.2,657.5 373.8,655.3 376.3,656.8 378.9,656.2 381.5,656.4 384.1,655.8 386.7,655.5 389.3,657.1 391.9,655.5 394.5,655.5 397.0,659.2 399.6,657.3 402.2,652.8 404.8,656.8 407.4,658.7 410.0,657.5 412.6,657.5 415.2,657.8 417.7,655.3 420.3,657.0 422.9,659.2 425.5,657.7 428.1,655.6 430.7,657.9 433.3,658.9 435.9,656.1 438.4,659.4 441.0,658.0 443.6,656.3 446.2,659.1 448.8,658.0 451.4,656.9 454.0,656.3 456.6,655.8 459.1,658.1 461.7,655.8 464.3,655.3 466.9,655.8 469.5,657.2 472.1,655.3 474.7,656.0 477.3,658.2 479.8,655.1 482.4,657.4 485.0,657.6 487.6,657.0 490.2,656.8 492.8,655.5 495.4,656.6 498.0,655.4 500.5,656.3 503.1,655.5 505.7,656.3 508.3,655.6 510.9,654.0 513.5,658.4 516.1,655.9 518.7,658.6 521.3,653.3 523.8,655.9 526.4,655.5 529.0,656.2 531.6,658.3 534.2,657.2 536.8,658.5 539.4,656.0 542.0,656.7 544.5,658.7 547.1,656.4 549.7,658.1 552.3,657.5 554.9,656.3 557.5,654.8 560.1,654.0 562.7,654.9 565.2,658.8 567.8,652.6 570.4,657.7 573.0,656.3 575.6,655.0 578.2,656.2 580.8,659.0 583.4,653.2 585.9,658.3 588.5,658.4 591.1,653.4 593.7,652.4 596.3,652.8 598.9,652.3 601.5,654.7 604.1,652.1 606.6,652.0 609.2,655.4 611.8,649.7 614.4,654.6 617.0,655.8 619.6,656.9 622.2,657.8 624.8,659.2 627.3,655.0 629.9,655.8 632.5,656.7 635.1,658.6 637.7,656.0 640.3,658.8 642.9,657.8 645.5,658.3 648.0,657.2 650.6,655.6 653.2,657.3 655.8,658.4 658.4,658.9 661.0,656.4 663.6,656.6 666.2,658.2 668.7,655.2 671.3,657.4 673.9,654.6 676.5,657.3 679.1,659.4 681.7,656.3 684.3,658.4 686.9,656.0 689.4,656.0 692.0,656.5 694.6,655.1 697.2,658.5 699.8,654.9 702.4,659.5 705.0,656.6 707.6,657.5 710.1,657.5 712.7,657.5 715.3,658.2 717.9,656.4 720.5,657.1 723.1,656.5 725.7,658.6 728.3,656.0 730.8,655.8 733.4,655.9 736.0,655.8 738.6,659.2 741.2,658.4 743.8,657.8 746.4,658.3 749.0,654.3 751.6,655.7 754.1,657.8 756.7,659.4 759.3,659.5 761.9,656.0 764.5,658.2 767.1,656.2 769.7,650.1 772.3,652.3 774.8,651.6 777.4,654.8 780.0,652.9 782.6,650.7 785.2,654.8 787.8,652.4 790.4,654.9 793.0,649.8 795.5,657.3 798.1,658.7 800.7,654.9 803.3,657.0 805.9,657.0 808.5,656.9 811.1,655.9 813.7,658.2 816.2,655.1 818.8,657.5 821.4,658.3 824.0,652.3 826.6,657.5 829.2,656.1 831.8,657.1 834.4,657.5 836.9,655.3 839.5,659.1 842.1,658.6 844.7,653.6 847.3,655.7 849.9,658.3 852.5,659.4 855.1,659.1 857.6,656.1 860.2,655.2 862.8,655.0 865.4,656.0 868.0,657.1 870.6,657.3 873.2,656.8 875.8,658.7 878.3,655.7 880.9,658.8 883.5,655.8 886.1,655.7 888.7,655.1 891.3,657.0 893.9,658.9 896.5,658.1 899.0,659.5 901.6,656.4 904.2,657.9 906.8,658.1 909.4,657.5 912.0,656.4 914.6,656.3 917.2,656.7 919.7,658.0 922.3,656.7 924.9,658.1 927.5,656.3 930.1,655.5 932.7,656.5 935.3,658.2 937.9,656.3 940.4,658.1 943.0,656.6 945.6,655.6 948.2,659.3 950.8,658.2 953.4,655.6 956.0,656.5 958.6,659.4 961.2,655.5 963.7,656.8 966.3,659.1 968.9,655.5 971.5,656.4 974.1,656.9 976.7,658.3 979.3,654.3 981.9,657.9 984.4,657.3 987.0,654.2 989.6,656.7 992.2,657.0 994.8,656.0 997.4,657.2 1000.0,659.3 1002.6,657.7 1005.1,653.1 1007.7,658.8 1010.3,658.6 1012.9,656.7 1015.5,657.9 1018.1,658.9 1020.7,656.2 1023.3,657.9 1025.8,655.2 1028.4,657.4 1031.0,658.0 1033.6,655.7 1036.2,656.6 1038.8,657.9 1041.4,657.2 1044.0,656.3 1046.5,657.5 1049.1,655.6 1051.7,653.5 1054.3,656.7 1056.9,656.7 1059.5,656.2 1062.1,655.9 1064.7,655.1 1067.2,658.0 1069.8,656.0 1072.4,658.2 1075.0,655.5 1077.6,657.3 1080.2,657.4 1082.8,656.7 1085.4,656.7 1087.9,657.5 1090.5,655.7 1093.1,656.4 1095.7,657.5 1098.3,657.8 1100.9,655.9 1103.5,657.9 1106.1,655.9 1108.6,655.9 1111.2,654.0 1113.8,655.5 1116.4,655.7 1119.0,653.6 1121.6,655.0 1124.2,657.2 1126.8,655.9 1129.3,655.9 1131.9,656.0 1134.5,655.1 1137.1,654.2 1139.7,656.4 1142.3,658.1 1144.9,655.1 1147.5,653.5 1150.0,656.3 1152.6,656.8 1155.2,655.9 1157.8,657.8 1160.4,657.4 1163.0,652.9 1165.6,655.9 1168.2,657.2 1170.7,656.5 1173.3,656.3 1175.9,655.2 1178.5,655.8 1181.1,658.2 1183.7,656.9 1186.3,657.2 1188.9,657.3 1191.5,654.9 1194.0,657.2 1196.6,655.5 1199.2,658.5 1201.8,656.3 1204.4,658.0 1207.0,656.8 1209.6,657.3 1212.2,654.9 1214.7,658.4 1217.3,654.6 1219.9,658.3 1222.5,657.3 1225.1,657.2 1227.7,656.1 1230.3,657.6 1232.9,656.5 1235.4,654.9 1238.0,658.2 1240.6,656.7 1243.2,658.8 1245.8,657.9 1248.4,658.2 1251.0,656.5 1253.6,654.9 1256.1,658.3 1258.7,657.2 1261.3,656.2 1263.9,656.8 1266.5,659.2 1269.1,659.4 1271.7,655.8 1274.3,655.0 1276.8,659.4 1279.4,657.3 1282.0,656.9 1284.6,658.8 1287.2,654.4 1289.8,657.5 1292.4,657.7 1295.0,655.1 1297.5,655.5 1300.1,657.9 1302.7,657.1 1305.3,657.3 1307.9,656.1 1310.5,657.1 1313.1,654.2 1315.7,657.4 1318.2,657.8 1320.8,657.0 1323.4,658.0 1326.0,658.2 1328.6,656.7 1331.2,658.9 1333.8,654.6 1336.4,656.8 1338.9,656.7 1341.5,655.0 1344.1,659.4 1346.7,656.3 1349.3,656.6 1351.9,656.2 1354.5,658.1 1357.1,655.6 1359.6,657.0 1362.2,655.5 1364.8,658.5 1367.4,656.5 1370.0,655.9 1372.6,656.6 1375.2,655.7 1377.8,657.1 1380.3,657.4 1382.9,657.0 1385.5,655.9 1388.1,658.0 1390.7,656.3 1393.3,657.4 1395.9,655.6 1398.5,656.5 1401.1,656.7 1403.6,656.7 1406.2,658.8 1408.8,657.8 1411.4,652.7 1414.0,657.5 1416.6,656.2 1419.2,655.0 1421.8,657.1 1424.3,659.4 1426.9,655.7 1429.5,656.5 1432.1,656.5 1434.7,657.6 1437.3,659.0 1439.9,657.8 1442.5,654.4 1445.0,655.5 1447.6,656.5 1450.2,657.8 1452.8,656.8 1455.4,658.5 1458.0,655.4 1460.6,656.7 1463.2,657.8 1465.7,655.2 1468.3,659.0 1470.9,657.1 1473.5,653.1 1476.1,655.8 1478.7,654.4 1481.3,659.0 1483.9,659.2 1486.4,654.4 1489.0,658.4 1491.6,656.8 1494.2,658.3 1496.8,656.6 1499.4,657.3 1502.0,656.6 1504.6,656.2 1507.1,659.1 1509.7,656.7 1512.3,657.8 1514.9,658.3 1517.5,656.1 1520.1,656.9 1522.7,659.4 1525.3,655.1 1527.8,655.1 1530.4,657.2 1533.0,656.1 1535.6,655.4 1538.2,658.6 1540.8,656.9 1543.4,657.5 1546.0,656.4 1548.5,656.9 1551.1,656.3 1553.7,657.5 1556.3,656.2 1558.9,657.1 1561.5,657.9 1564.1,655.6 1566.7,657.7 1569.2,656.9 1571.8,656.6 1574.4,654.9 1577.0,657.3 1579.6,657.6 1582.2,659.0 1584.8,658.0 1587.4,658.8 1589.9,656.9 1592.5,656.2 1595.1,656.9 1597.7,657.2 1600.3,657.0 1602.9,657.5 1605.5,656.3 1608.1,657.4 1610.6,658.3 1613.2,658.0 1615.8,657.0 1618.4,657.4 1621.0,657.5" fill="none" stroke="#4e4ee8" stroke-width="1"/>
<polyline points="71.0,647.7 73.6,626.2 76.2,630.1 78.8,649.1 81.4,654.4 83.9,650.8 86.5,652.3 89.1,651.0 91.7,654.6 94.3,656.5 96.9,651.1 99.5,655.6 102.1,652.3 104.6,657.0 107.2,652.8 109.8,650.5 112.4,649.8 115.0,656.4 117.6,652.1 120.2,654.9 122.8,656.2 125.3,653.3 127.9,653.8 130.5,653.2 133.1,653.8 135.7,655.9 138.3,655.2 140.9,648.6 143.5,650.8 146.0,652.2 148.6,651.7 151.2,656.9 153.8,654.7 156.4,654.5 159.0,652.7 161.6,656.2 164.2,653.6 166.7,646.7 169.3,654.8 171.9,649.2 174.5,639.6 177.1,635.5 179.7,639.9 182.3,648.2 184.9,653.7 187.4,656.2 190.0,657.8 192.6,646.9 195.2,654.2 197.8,642.9 200.4,636.0 203.0,645.8 205.6,653.7 208.1,656.1 210.7,655.1 213.3,654.1 215.9,648.6 218.5,652.0 221.1,657.1 223.7,652.8 226.3,650.7 228.8,653.0 231.4,650.6 234.0,656.8 236.6,651.3 239.2,650.3 241.8,653.1 244.4,653.6 247.0,649.2 249.5,653.0 252.1,652.1 254.7,655.6 257.3,655.7 259.9,653.4 262.5,655.3 265.1,655.7 267.7,655.9 270.2,654.0 272.8,652.5 275.4,654.4 278.0,657.2 280.6,656.6 283.2,654.5 285.8,654.4 288.4,651.0 290.9,656.2 293.5,650.5 296.1,651.4 298.7,654.8 301.3,656.2 303.9,655.1 306.5,654.2 309.1,652.7 311.7,654.8 314.2,656.0 316.8,653.9 319.4,656.0 322.0,650.6 324.6,645.5 327.2,653.0 329.8,654.5 332.4,655.6 334.9,655.4 337.5,655.6 340.1,654.8 342.7,649.7 345.3,646.8 347.9,655.1 350.5,652.9 353.1,656.8 355.6,656.8 358.2,654.8 360.8,653.9 363.4,656.5 366.0,648.2 368.6,654.0 371.2,648.3 373.8,647.8 376.3,648.1 378.9,654.5 381.5,652.9 384.1,650.2 386.7,653.0 389.3,655.9 391.9,653.7 394.5,652.1 397.0,654.3 399.6,654.3 402.2,649.4 404.8,654.0 407.4,652.4 410.0,650.1 412.6,656.2 415.2,655.4 417.7,653.6 420.3,654.2 422.9,657.4 425.5,654.6 428.1,653.3 430.7,655.0 433.3,657.3 435.9,653.1 438.4,656.2 441.0,654.5 443.6,653.4 446.2,655.9 448.8,648.8 451.4,653.8 454.0,653.1 456.6,652.1 459.1,656.0 461.7,647.9 464.3,652.5 466.9,652.5 469.5,655.4 472.1,654.0 474.7,652.4 477.3,654.7 479.8,645.9 482.4,652.3 485.0,649.3 487.6,652.1 490.2,654.3 492.8,653.1 495.4,653.3 498.0,653.5 500.5,655.1 503.1,652.7 505.7,649.6 508.3,653.0 510.9,648.1 513.5,654.8 516.1,654.8 518.7,656.9 521.3,650.5 523.8,653.1 526.4,653.4 529.0,654.0 531.6,655.4 534.2,653.7 536.8,656.3 539.4,652.6 542.0,653.6 544.5,655.5 547.1,653.9 549.7,656.0 552.3,655.9 554.9,654.5 557.5,649.9 560.1,651.3 562.7,652.7 565.2,655.3 567.8,651.1 570.4,651.0 573.0,655.1 575.6,651.4 578.2,648.5 580.8,655.7 583.4,649.7 585.9,654.6 588.5,657.2 591.1,651.6 593.7,649.7 596.3,651.5 598.9,651.1 601.5,652.6 604.1,648.7 606.6,649.5 609.2,648.8 611.8,646.3 614.4,653.0 617.0,653.7 619.6,654.9 622.2,654.2 624.8,653.3 627.3,653.7 629.9,653.3 632.5,654.2 635.1,656.7 637.7,648.7 640.3,648.1 642.9,649.8 645.5,651.4 648.0,653.9 650.6,645.5 653.2,654.1 655.8,655.8 658.4,657.3 661.0,654.8 663.6,652.9 666.2,655.3 668.7,652.8 671.3,653.7 673.9,648.2 676.5,653.6 679.1,656.1 681.7,652.6 684.3,655.9 686.9,654.5 689.4,652.6 692.0,654.5 694.6,652.9 697.2,647.2 699.8,649.1 702.4,649.4 705.0,655.1 707.6,649.3 710.1,649.0 712.7,651.7 715.3,652.1 717.9,653.0 720.5,654.1 723.1,650.5 725.7,657.0 728.3,652.7 730.8,652.6 733.4,647.0 736.0,654.5 738.6,656.0 741.2,656.2 743.8,655.5 746.4,655.7 749.0,652.5 751.6,653.7 754.1,654.1 756.7,656.6 759.3,656.2 761.9,652.9 764.5,651.1 767.1,654.6 769.7,648.9 772.3,649.5 774.8,649.7 777.4,651.3 780.0,651.0 782.6,649.0 785.2,652.2 787.8,651.1 790.4,647.6 793.0,641.1 795.5,645.8 798.1,650.7 800.7,651.8 803.3,648.5 805.9,655.3 808.5,654.3 811.1,648.0 813.7,655.3 816.2,653.1 818.8,650.1 821.4,656.4 824.0,649.7 826.6,654.1 829.2,653.6 831.8,655.3 834.4,651.8 836.9,648.6 839.5,655.6 842.1,657.0 844.7,650.4 847.3,654.1 849.9,657.0 852.5,656.8 855.1,649.6 857.6,653.0 860.2,653.4 862.8,653.2 865.4,652.5 868.0,655.3 870.6,655.8 873.2,653.3 875.8,655.6 878.3,653.9 880.9,656.1 883.5,654.2 886.1,649.0 888.7,653.8 891.3,653.3 893.9,657.4 896.5,654.4 899.0,657.3 901.6,652.7 904.2,648.6 906.8,650.0 909.4,647.8 912.0,654.3 914.6,654.6 917.2,655.1 919.7,655.7 922.3,651.2 924.9,654.3 927.5,653.8 930.1,653.9 932.7,654.9 935.3,656.3 937.9,652.6 940.4,655.6 943.0,654.2 945.6,654.4 948.2,651.8 950.8,649.5 953.4,639.0 956.0,648.8 958.6,657.3 961.2,654.2 963.7,653.8 966.3,649.7 968.9,652.6 971.5,655.0 974.1,655.6 976.7,656.8 979.3,652.2 981.9,656.5 984.4,654.2 987.0,652.7 989.6,654.7 992.2,653.8 994.8,654.8 997.4,648.7 1000.0,657.9 1002.6,656.1 1005.1,649.5 1007.7,657.6 1010.3,655.5 1012.9,653.4 1015.5,656.5 1018.1,656.9 1020.7,647.9 1023.3,655.0 1025.8,652.5 1028.4,656.0 1031.0,655.6 1033.6,652.4 1036.2,655.4 1038.8,656.2 1041.4,654.3 1044.0,654.5 1046.5,655.9 1049.1,648.3 1051.7,650.7 1054.3,653.2 1056.9,653.3 1059.5,653.5 1062.1,653.4 1064.7,652.2 1067.2,648.5 1069.8,654.0 1072.4,654.6 1075.0,654.0 1077.6,654.8 1080.2,653.8 1082.8,655.3 1085.4,653.6 1087.9,654.6 1090.5,653.5 1093.1,653.9 1095.7,654.5 1098.3,656.4 1100.9,654.7 1103.5,656.4 1106.1,646.8 1108.6,641.6 1111.2,645.0 1113.8,653.2 1116.4,654.1 1119.0,650.1 1121.6,653.2 1124.2,653.7 1126.8,652.4 1129.3,647.3 1131.9,649.8 1134.5,653.8 1137.1,652.5 1139.7,653.7 1142.3,655.1 1144.9,653.3 1147.5,652.1 1150.0,653.5 1152.6,648.5 1155.2,652.6 1157.8,649.5 1160.4,648.1 1163.0,650.8 1165.6,654.4 1168.2,654.2 1170.7,646.1 1173.3,654.0 1175.9,653.4 1178.5,652.4 1181.1,649.4 1183.7,655.5 1186.3,654.3 1188.9,655.5 1191.5,649.2 1194.0,651.4 1196.6,645.8 1199.2,649.3 1201.8,653.4 1204.4,656.5 1207.0,654.7 1209.6,648.2 1212.2,653.4 1214.7,654.9 1217.3,653.2 1219.9,654.8 1222.5,655.9 1225.1,654.6 1227.7,652.7 1230.3,656.4 1232.9,655.3 1235.4,653.2 1238.0,656.1 1240.6,654.4 1243.2,656.3 1245.8,654.4 1248.4,652.7 1251.0,653.7 1253.6,646.5 1256.1,649.4 1258.7,654.2 1261.3,650.4 1263.9,647.9 1266.5,652.1 1269.1,657.9 1271.7,654.1 1274.3,648.1 1276.8,657.5 1279.4,654.8 1282.0,654.2 1284.6,652.7 1287.2,645.9 1289.8,655.8 1292.4,656.4 1295.0,653.2 1297.5,652.3 1300.1,654.3 1302.7,654.5 1305.3,655.3 1307.9,654.7 1310.5,649.1 1313.1,652.3 1315.7,654.3 1318.2,654.4 1320.8,648.5 1323.4,656.4 1326.0,654.8 1328.6,653.5 1331.2,656.7 1333.8,651.5 1336.4,653.6 1338.9,647.3 1341.5,653.0 1344.1,657.8 1346.7,652.9 1349.3,654.2 1351.9,654.8 1354.5,654.8 1357.1,653.3 1359.6,654.5 1362.2,652.0 1364.8,655.1 1367.4,652.1 1370.0,649.6 1372.6,652.8 1375.2,654.4 1377.8,653.4 1380.3,655.8 1382.9,653.3 1385.5,653.0 1388.1,654.7 1390.7,654.0 1393.3,654.2 1395.9,652.2 1398.5,653.9 1401.1,654.6 1403.6,650.1 1406.2,655.7 1408.8,654.7 1411.4,648.5 1414.0,653.9 1416.6,643.2 1419.2,639.8 1421.8,647.3 1424.3,656.2 1426.9,652.1 1429.5,653.3 1432.1,653.1 1434.7,654.9 1437.3,657.6 1439.9,654.8 1442.5,648.2 1445.0,639.4 1447.6,651.1 1450.2,655.5 1452.8,655.2 1455.4,656.8 1458.0,653.9 1460.6,647.3 1463.2,655.7 1465.7,653.6 1468.3,657.1 1470.9,653.7 1473.5,651.9 1476.1,652.1 1478.7,652.2 1481.3,657.1 1483.9,649.4 1486.4,651.7 1489.0,651.5 1491.6,651.0 1494.2,650.4 1496.8,639.3 1499.4,648.0 1502.0,648.9 1504.6,653.1 1507.1,657.9 1509.7,653.8 1512.3,649.2 1514.9,655.1 1517.5,654.9 1520.1,654.0 1522.7,656.0 1525.3,653.8 1527.8,651.4 1530.4,654.7 1533.0,653.6 1535.6,653.3 1538.2,654.4 1540.8,649.7 1543.4,651.7 1546.0,654.6 1548.5,649.7 1551.1,654.6 1553.7,656.3 1556.3,648.7 1558.9,654.5 1561.5,655.9 1564.1,653.0 1566.7,656.4 1569.2,655.5 1571.8,650.8 1574.4,652.5 1577.0,654.7 1579.6,655.6 1582.2,656.1 1584.8,656.8 1587.4,656.0 1589.9,649.4 1592.5,653.5 1595.1,653.6 1597.7,655.6 1600.3,653.6 1602.9,655.9 1605.5,654.4 1608.1,648.1 1610.6,655.0 1613.2,649.5 1615.8,654.8 1618.4,655.3 1621.0,648.9" fill="none" stroke="#e0e000" stroke-width="1"/>
<polyline points="71.0,647.7 73.6,625.9 76.2,630.0 78.8,648.9 81.4,654.1 83.9,650.7 86.5,652.0 89.1,650.5 91.7,654.3 94.3,656.1 96.9,651.0 99.5,655.3 102.1,652.1 104.6,656.9 107.2,652.6 109.8,650.4 112.4,649.3 115.0,656.3 117.6,651.9 120.2,654.5 122.8,655.8 125.3,653.1 127.9,653.5 130.5,653.0 133.1,653.6 135.7,655.7 138.3,655.0 140.9,648.3 143.5,650.7 146.0,652.0 148.6,651.6 151.2,656.9 153.8,654.3 156.4,654.3 159.0,652.5 161.6,656.1 164.2,653.3 166.7,646.6 169.3,654.7 171.9,649.0 174.5,639.2 177.1,635.1 179.7,639.6 182.3,648.1 184.9,653.3 187.4,656.2 190.0,657.6 192.6,646.6 195.2,653.9 197.8,642.9 200.4,635.8 203.0,645.7 205.6,653.4 208.1,656.0 210.7,654.9 213.3,653.7 215.9,648.2 218.5,652.0 221.1,657.1 223.7,652.6 226.3,650.6 228.8,652.7 231.4,650.3 234.0,656.5 236.6,650.9 239.2,650.3 241.8,653.0 244.4,653.5 247.0,648.8 249.5,652.9 252.1,651.9 254.7,655.3 257.3,655.7 259.9,653.0 262.5,654.9 265.1,655.6 267.7,655.7 270.2,653.6 272.8,652.4 275.4,654.3 278.0,656.8 280.6,656.2 283.2,654.3 285.8,654.3 288.4,650.6 290.9,655.9 293.5,650.2 296.1,651.4 298.7,654.5 301.3,656.1 303.9,654.9 306.5,653.8 309.1,652.3 311.7,654.6 314.2,655.7 316.8,653.7 319.4,655.9 322.0,650.6 324.6,645.3 327.2,652.8 329.8,654.1 332.4,655.5 334.9,655.4 337.5,655.6 340.1,654.6 342.7,649.7 345.3,646.4 347.9,654.7 350.5,652.9 353.1,656.4 355.6,656.5 358.2,654.6 360.8,653.5 363.4,656.4 366.0,648.0 368.6,654.0 371.2,648.2 373.8,647.5 376.3,647.9 378.9,654.3 381.5,652.6 384.1,650.2 386.7,652.6 389.3,655.8 391.9,653.4 394.5,651.8 397.0,653.9 399.6,654.3 402.2,649.0 404.8,653.7 407.4,652.3 410.0,650.0 412.6,656.1 415.2,655.3 417.7,653.4 420.3,654.0 422.9,657.2 425.5,654.4 428.1,653.1 430.7,654.9 433.3,657.0 435.9,653.0 438.4,656.0 441.0,654.3 443.6,653.1 446.2,655.6 448.8,648.4 451.4,653.5 454.0,652.9 456.6,652.1 459.1,655.9 461.7,647.6 464.3,652.1 466.9,652.3 469.5,655.2 472.1,653.6 474.7,652.3 477.3,654.6 479.8,645.7 482.4,652.2 485.0,649.1 487.6,651.8 490.2,653.9 492.8,652.8 495.4,653.1 498.0,653.2 500.5,655.1 503.1,652.5 505.7,649.5 508.3,652.9 510.9,647.7 513.5,654.6 516.1,654.7 518.7,656.8 521.3,650.3 523.8,653.1 526.4,653.2 529.0,653.7 531.6,655.2 534.2,653.4 536.8,655.9 539.4,652.3 542.0,653.5 544.5,655.5 547.1,653.6 549.7,655.9 552.3,655.8 554.9,654.3 557.5,649.9 560.1,651.3 562.7,652.7 565.2,655.0 567.8,650.7 570.4,650.9 573.0,655.0 575.6,651.2 578.2,648.3 580.8,655.6 583.4,649.6 585.9,654.6 588.5,657.0 591.1,651.6 593.7,649.5 596.3,651.3 598.9,650.9 601.5,652.6 604.1,648.4 606.6,649.3 609.2,648.5 611.8,646.3 614.4,652.7 617.0,653.3 619.6,654.4 622.2,654.1 624.8,652.9 627.3,653.6 629.9,652.9 632.5,654.0 635.1,656.7 637.7,648.5 640.3,648.1 642.9,649.4 645.5,651.0 648.0,653.6 650.6,645.5 653.2,653.9 655.8,655.6 658.4,657.1 661.0,654.4 663.6,652.7 666.2,655.3 668.7,652.5 671.3,653.5 673.9,648.0 676.5,653.6 679.1,655.8 681.7,652.4 684.3,655.6 686.9,654.4 689.4,652.2 692.0,654.2 694.6,652.8 697.2,647.1 699.8,649.0 702.4,649.3 705.0,654.7 707.6,649.2 710.1,648.8 712.7,651.3 715.3,652.0 717.9,652.9 720.5,653.7 723.1,650.4 725.7,656.7 728.3,652.6 730.8,652.2 733.4,646.9 736.0,654.4 738.6,655.7 741.2,656.0 743.8,655.3 746.4,655.7 749.0,652.4 751.6,653.6 754.1,654.1 756.7,656.2 759.3,656.1 761.9,652.8 764.5,650.8 767.1,654.4 769.7,648.8 772.3,649.3 774.8,649.5 777.4,650.9 780.0,650.6 782.6,648.8 785.2,652.1 787.8,650.9 790.4,647.6 793.0,641.1 795.5,645.8 798.1,650.3 800.7,651.5 803.3,648.5 805.9,655.0 808.5,654.0 811.1,647.9 813.7,655.1 816.2,652.7 818.8,649.9 821.4,656.2 824.0,649.3 826.6,653.8 829.2,653.5 831.8,655.3 834.4,651.7 836.9,648.2 839.5,655.5 842.1,656.6 844.7,650.3 847.3,653.7 849.9,656.9 852.5,656.8 855.1,649.4 857.6,652.7 860.2,652.9 862.8,653.2 865.4,652.4 868.0,655.1 870.6,655.8 873.2,653.0 875.8,655.5 878.3,653.5 880.9,655.8 883.5,653.7 886.1,648.7 888.7,653.5 891.3,652.9 893.9,657.1 896.5,654.1 899.0,657.2 901.6,652.4 904.2,648.6 906.8,649.6 909.4,647.4 912.0,654.1 914.6,654.5 917.2,654.9 919.7,655.3 922.3,651.2 924.9,654.2 927.5,653.7 930.1,653.8 932.7,654.5 935.3,656.0 937.9,652.4 940.4,655.3 943.0,654.0 945.6,654.1 948.2,651.6 950.8,649.0 953.4,638.9 956.0,648.4 958.6,657.1 961.2,654.0 963.7,653.6 966.3,649.7 968.9,652.5 971.5,654.6 974.1,655.6 976.7,656.7 979.3,652.1 981.9,656.4 984.4,653.8 987.0,652.3 989.6,654.4 992.2,653.8 994.8,654.7 997.4,648.5 1000.0,657.6 1002.6,656.0 1005.1,649.2 1007.7,657.4 1010.3,655.4 1012.9,653.1 1015.5,656.2 1018.1,656.5 1020.7,647.5 1023.3,655.0 1025.8,652.2 1028.4,655.7 1031.0,655.3 1033.6,652.4 1036.2,655.4 1038.8,655.8 1041.4,654.3 1044.0,654.3 1046.5,655.8 1049.1,647.9 1051.7,650.3 1054.3,653.0 1056.9,653.0 1059.5,653.5 1062.1,652.9 1064.7,652.1 1067.2,648.5 1069.8,653.9 1072.4,654.5 1075.0,653.8 1077.6,654.5 1080.2,653.7 1082.8,655.0 1085.4,653.5 1087.9,654.5 1090.5,653.4 1093.1,653.5 1095.7,654.4 1098.3,656.0 1100.9,654.7 1103.5,656.2 1106.1,646.6 1108.6,641.4 1111.2,644.9 1113.8,653.1 1116.4,654.0 1119.0,649.8 1121.6,653.1 1124.2,653.5 1126.8,652.2 1129.3,647.0 1131.9,649.7 1134.5,653.6 1137.1,652.1 1139.7,653.4 1142.3,654.8 1144.9,653.2 1147.5,651.8 1150.0,653.4 1152.6,648.5 1155.2,652.4 1157.8,649.5 1160.4,647.8 1163.0,650.5 1165.6,654.2 1168.2,653.8 1170.7,645.9 1173.3,653.7 1175.9,653.4 1178.5,652.2 1181.1,649.1 1183.7,655.4 1186.3,654.0 1188.9,655.2 1191.5,649.1 1194.0,651.2 1196.6,645.7 1199.2,649.1 1201.8,653.3 1204.4,656.4 1207.0,654.6 1209.6,647.8 1212.2,653.4 1214.7,654.8 1217.3,653.0 1219.9,654.5 1222.5,655.7 1225.1,654.4 1227.7,652.3 1230.3,656.3 1232.9,655.2 1235.4,653.1 1238.0,656.1 1240.6,654.1 1243.2,655.9 1245.8,654.1 1248.4,652.6 1251.0,653.7 1253.6,646.3 1256.1,649.1 1258.7,654.1 1261.3,650.0 1263.9,647.8 1266.5,651.9 1269.1,657.4 1271.7,654.0 1274.3,647.8 1276.8,657.1 1279.4,654.7 1282.0,654.1 1284.6,652.4 1287.2,645.5 1289.8,655.8 1292.4,656.3 1295.0,653.0 1297.5,652.2 1300.1,654.1 1302.7,654.5 1305.3,655.0 1307.9,654.4 1310.5,648.7 1313.1,652.2 1315.7,654.1 1318.2,654.2 1320.8,648.5 1323.4,656.3 1326.0,654.8 1328.6,653.3 1331.2,656.3 1333.8,651.4 1336.4,653.2 1338.9,647.0 1341.5,653.0 1344.1,657.6 1346.7,652.7 1349.3,653.8 1351.9,654.7 1354.5,654.7 1357.1,653.0 1359.6,654.2 1362.2,651.7 1364.8,654.7 1367.4,652.0 1370.0,649.2 1372.6,652.4 1375.2,654.2 1377.8,653.0 1380.3,655.8 1382.9,652.9 1385.5,652.8 1388.1,654.7 1390.7,653.7 1393.3,653.9 1395.9,652.2 1398.5,653.7 1401.1,654.5 1403.6,650.1 1406.2,655.3 1408.8,654.6 1411.4,648.2 1414.0,653.4 1416.6,643.1 1419.2,639.5 1421.8,647.1 1424.3,656.2 1426.9,651.7 1429.5,652.9 1432.1,653.0 1434.7,654.7 1437.3,657.4 1439.9,654.5 1442.5,647.9 1445.0,639.4 1447.6,651.1 1450.2,655.1 1452.8,655.1 1455.4,656.5 1458.0,653.6 1460.6,647.1 1463.2,655.4 1465.7,653.2 1468.3,656.8 1470.9,653.6 1473.5,651.8 1476.1,651.8 1478.7,651.9 1481.3,656.9 1483.9,649.3 1486.4,651.6 1489.0,651.1 1491.6,650.9 1494.2,650.0 1496.8,639.2 1499.4,648.0 1502.0,648.6 1504.6,652.9 1507.1,657.8 1509.7,653.6 1512.3,649.0 1514.9,655.0 1517.5,654.5 1520.1,653.7 1522.7,655.9 1525.3,653.4 1527.8,651.0 1530.4,654.6 1533.0,653.3 1535.6,653.1 1538.2,654.3 1540.8,649.4 1543.4,651.6 1546.0,654.3 1548.5,649.6 1551.1,654.5 1553.7,656.1 1556.3,648.5 1558.9,654.5 1561.5,655.8 1564.1,653.0 1566.7,656.3 1569.2,655.2 1571.8,650.6 1574.4,652.3 1577.0,654.7 1579.6,655.4 1582.2,655.9 1584.8,656.4 1587.4,655.9 1589.9,649.1 1592.5,653.3 1595.1,653.6 1597.7,655.3 1600.3,653.2 1602.9,655.8 1605.5,654.1 1608.1,647.9 1610.6,654.7 1613.2,649.1 1615.8,654.8 1618.4,655.3 1621.0,648.8" fill="none" stroke="#d9680f" stroke-width="1"/>
<polyline points="71.0,645.4 73.6,624.6 76.2,628.8 78.8,648.0 81.4,653.2 83.9,648.1 86.5,651.2 89.1,649.3 91.7,653.7 94.3,654.8 96.9,650.1 99.5,654.4 102.1,651.3 104.6,656.5 107.2,651.8 109.8,649.1 112.4,648.0 115.0,655.6 117.6,650.4 120.2,653.1 122.8,654.9 125.3,652.5 127.9,652.9 130.5,652.2 133.1,652.3 135.7,655.2 138.3,654.1 140.9,647.3 143.5,649.5 146.0,650.8 148.6,650.6 151.2,655.8 153.8,653.6 156.4,653.5 159.0,649.4 161.6,655.6 164.2,651.1 166.7,645.3 169.3,654.1 171.9,648.4 174.5,638.7 177.1,634.3 179.7,638.9 182.3,647.2 184.9,652.5 187.4,655.5 190.0,656.4 192.6,646.2 195.2,652.7 197.8,642.3 200.4,635.3 203.0,645.2 205.6,652.3 208.1,654.2 210.7,654.0 213.3,652.3 215.9,647.6 218.5,651.6 221.1,655.9 223.7,651.2 226.3,649.2 228.8,651.6 231.4,649.2 234.0,655.1 236.6,649.9 239.2,649.6 241.8,651.1 244.4,652.8 247.0,647.9 249.5,652.3 252.1,649.1 254.7,654.2 257.3,655.0 259.9,651.8 262.5,653.1 265.1,654.2 267.7,655.1 270.2,652.2 272.8,651.8 275.4,653.9 278.0,655.6 280.6,655.7 283.2,653.2 285.8,651.8 288.4,649.2 290.9,654.6 293.5,648.7 296.1,650.9 298.7,653.2 301.3,655.4 303.9,654.3 306.5,653.4 309.1,651.5 311.7,654.0 314.2,655.1 316.8,652.6 319.4,654.9 322.0,650.1 324.6,644.2 327.2,651.4 329.8,651.2 332.4,654.7 334.9,654.7 337.5,654.5 340.1,652.2 342.7,649.1 345.3,644.1 347.9,654.1 350.5,652.1 353.1,655.8 355.6,655.2 358.2,653.6 360.8,652.4 363.4,655.3 366.0,647.0 368.6,653.2 371.2,647.6 373.8,646.8 376.3,645.4 378.9,653.3 381.5,652.2 384.1,649.4 386.7,651.7 389.3,654.6 391.9,652.3 394.5,650.8 397.0,653.1 399.6,653.3 402.2,648.5 404.8,653.0 407.4,651.2 410.0,648.8 412.6,655.7 415.2,654.4 417.7,652.9 420.3,653.2 422.9,656.4 425.5,653.7 428.1,652.5 430.7,654.3 433.3,653.6 435.9,644.8 438.4,652.1 441.0,653.1 443.6,652.0 446.2,655.0 448.8,647.6 451.4,653.0 454.0,651.5 456.6,651.4 459.1,654.7 461.7,646.5 464.3,651.2 466.9,651.6 469.5,654.4 472.1,652.4 474.7,651.7 477.3,653.3 479.8,644.5 482.4,651.3 485.0,648.1 487.6,651.3 490.2,653.4 492.8,652.2 495.4,652.4 498.0,652.2 500.5,654.4 503.1,651.3 505.7,648.3 508.3,652.0 510.9,646.7 513.5,653.7 516.1,653.3 518.7,656.3 521.3,649.0 523.8,652.3 526.4,652.1 529.0,652.3 531.6,654.2 534.2,652.4 536.8,652.7 539.4,651.0 542.0,652.5 544.5,654.3 547.1,653.0 549.7,655.4 552.3,654.0 554.9,652.9 557.5,648.9 560.1,649.9 562.7,651.3 565.2,654.5 567.8,649.6 570.4,650.2 573.0,653.6 575.6,650.3 578.2,647.7 580.8,654.7 583.4,648.7 585.9,653.9 588.5,654.5 591.1,651.0 593.7,648.9 596.3,648.3 598.9,649.6 601.5,651.6 604.1,647.6 606.6,648.8 609.2,646.3 611.8,645.7 614.4,652.1 617.0,652.3 619.6,653.2 622.2,653.2 624.8,651.7 627.3,652.5 629.9,652.1 632.5,653.0 635.1,655.7 637.7,647.4 640.3,647.3 642.9,646.9 645.5,649.9 648.0,652.5 650.6,644.3 653.2,653.1 655.8,654.4 658.4,656.6 661.0,652.4 663.6,651.6 666.2,654.5 668.7,651.1 671.3,653.0 673.9,647.1 676.5,652.8 679.1,655.1 681.7,651.9 684.3,653.6 686.9,653.1 689.4,651.3 692.0,653.4 694.6,652.1 697.2,646.1 699.8,648.3 702.4,648.6 705.0,653.9 707.6,647.9 710.1,648.1 712.7,650.5 715.3,651.4 717.9,650.5 720.5,653.0 723.1,649.8 725.7,655.6 728.3,652.1 730.8,651.0 733.4,645.5 736.0,653.4 738.6,654.3 741.2,655.5 743.8,654.6 746.4,654.6 749.0,651.9 751.6,652.2 754.1,653.1 756.7,655.1 759.3,655.1 761.9,651.6 764.5,649.6 767.1,653.9 769.7,645.7 772.3,648.5 774.8,648.7 777.4,649.5 780.0,649.7 782.6,648.3 785.2,651.5 787.8,650.0 790.4,646.7 793.0,639.8 795.5,645.1 798.1,649.3 800.7,650.4 803.3,647.5 805.9,653.9 808.5,653.2 811.1,647.0 813.7,654.5 816.2,650.7 818.8,649.5 821.4,655.5 824.0,648.1 826.6,653.1 829.2,652.8 831.8,654.8 834.4,650.5 836.9,647.4 839.5,655.0 842.1,655.5 844.7,649.7 847.3,652.6 849.9,656.0 852.5,655.8 855.1,648.5 857.6,651.5 860.2,651.0 862.8,652.7 865.4,651.8 868.0,654.0 870.6,654.7 873.2,652.4 875.8,654.0 878.3,652.8 880.9,654.5 883.5,652.1 886.1,648.2 888.7,650.9 891.3,652.4 893.9,656.6 896.5,653.4 899.0,656.7 901.6,651.6 904.2,647.5 906.8,646.6 909.4,646.5 912.0,653.2 914.6,653.2 917.2,654.0 919.7,654.0 922.3,650.4 924.9,653.2 927.5,652.9 930.1,653.0 932.7,653.5 935.3,654.8 937.9,651.3 940.4,654.8 943.0,653.1 945.6,652.9 948.2,651.1 950.8,647.8 953.4,638.1 956.0,647.2 958.6,656.1 961.2,653.1 963.7,652.7 966.3,648.7 968.9,651.9 971.5,653.8 974.1,654.4 976.7,655.4 979.3,651.1 981.9,655.0 984.4,653.3 987.0,651.0 989.6,653.9 992.2,652.8 994.8,653.6 997.4,647.3 1000.0,657.1 1002.6,655.4 1005.1,648.2 1007.7,656.7 1010.3,654.8 1012.9,652.2 1015.5,655.1 1018.1,655.3 1020.7,646.3 1023.3,653.7 1025.8,651.0 1028.4,655.0 1031.0,654.2 1033.6,651.3 1036.2,654.8 1038.8,654.7 1041.4,651.2 1044.0,653.0 1046.5,653.9 1049.1,647.0 1051.7,649.5 1054.3,649.7 1056.9,652.5 1059.5,652.7 1062.1,651.9 1064.7,651.1 1067.2,646.6 1069.8,653.2 1072.4,653.2 1075.0,652.8 1077.6,653.8 1080.2,653.2 1082.8,653.6 1085.4,652.2 1087.9,652.5 1090.5,652.1 1093.1,652.4 1095.7,653.9 1098.3,654.8 1100.9,652.6 1103.5,655.4 1106.1,646.1 1108.6,640.5 1111.2,642.1 1113.8,652.3 1116.4,653.3 1119.0,649.3 1121.6,652.1 1124.2,653.0 1126.8,651.0 1129.3,645.6 1131.9,648.6 1134.5,653.1 1137.1,651.3 1139.7,650.8 1142.3,653.7 1144.9,652.4 1147.5,650.2 1150.0,651.0 1152.6,647.3 1155.2,651.3 1157.8,648.3 1160.4,647.0 1163.0,649.9 1165.6,653.2 1168.2,652.5 1170.7,644.8 1173.3,652.3 1175.9,652.8 1178.5,651.6 1181.1,648.1 1183.7,653.0 1186.3,652.8 1188.9,654.2 1191.5,648.6 1194.0,650.1 1196.6,644.4 1199.2,648.0 1201.8,650.9 1204.4,655.6 1207.0,654.0 1209.6,645.8 1212.2,652.7 1214.7,654.2 1217.3,652.3 1219.9,654.0 1222.5,653.4 1225.1,653.4 1227.7,651.7 1230.3,655.7 1232.9,654.3 1235.4,651.7 1238.0,655.3 1240.6,653.5 1243.2,655.4 1245.8,652.7 1248.4,651.2 1251.0,653.0 1253.6,645.7 1256.1,648.2 1258.7,652.7 1261.3,649.4 1263.9,647.3 1266.5,650.8 1269.1,656.2 1271.7,653.3 1274.3,646.4 1276.8,656.7 1279.4,653.8 1282.0,652.8 1284.6,651.6 1287.2,644.3 1289.8,654.7 1292.4,655.6 1295.0,652.5 1297.5,649.4 1300.1,653.5 1302.7,654.0 1305.3,653.8 1307.9,651.5 1310.5,647.9 1313.1,650.7 1315.7,653.6 1318.2,652.8 1320.8,647.3 1323.4,655.7 1326.0,653.6 1328.6,652.5 1331.2,655.1 1333.8,650.3 1336.4,651.9 1338.9,646.2 1341.5,650.4 1344.1,656.4 1346.7,651.4 1349.3,652.7 1351.9,653.7 1354.5,654.0 1357.1,651.6 1359.6,653.6 1362.2,650.4 1364.8,653.7 1367.4,651.3 1370.0,648.6 1372.6,651.3 1375.2,651.8 1377.8,652.4 1380.3,655.2 1382.9,652.0 1385.5,652.0 1388.1,653.4 1390.7,652.6 1393.3,653.2 1395.9,651.4 1398.5,652.7 1401.1,653.1 1403.6,648.8 1406.2,654.4 1408.8,654.0 1411.4,647.1 1414.0,652.6 1416.6,642.3 1419.2,638.6 1421.8,646.5 1424.3,655.0 1426.9,650.7 1429.5,651.7 1432.1,651.6 1434.7,653.8 1437.3,656.2 1439.9,653.8 1442.5,647.0 1445.0,638.0 1447.6,650.2 1450.2,654.4 1452.8,654.5 1455.4,655.1 1458.0,652.5 1460.6,646.2 1463.2,654.3 1465.7,652.4 1468.3,655.5 1470.9,652.5 1473.5,650.9 1476.1,650.0 1478.7,649.7 1481.3,656.2 1483.9,648.7 1486.4,650.5 1489.0,650.5 1491.6,649.7 1494.2,649.4 1496.8,638.5 1499.4,647.2 1502.0,648.0 1504.6,652.3 1507.1,657.1 1509.7,652.5 1512.3,648.4 1514.9,654.1 1517.5,654.0 1520.1,653.0 1522.7,654.6 1525.3,652.0 1527.8,650.0 1530.4,653.9 1533.0,652.1 1535.6,652.0 1538.2,653.1 1540.8,647.5 1543.4,650.8 1546.0,652.9 1548.5,648.2 1551.1,653.9 1553.7,655.7 1556.3,647.8 1558.9,653.7 1561.5,654.5 1564.1,651.7 1566.7,655.3 1569.2,654.3 1571.8,649.6 1574.4,651.0 1577.0,653.3 1579.6,654.6 1582.2,655.3 1584.8,655.3 1587.4,654.8 1589.9,648.5 1592.5,652.1 1595.1,650.5 1597.7,654.9 1600.3,651.2 1602.9,654.5 1605.5,652.9 1608.1,646.7 1610.6,653.9 1613.2,647.8 1615.8,653.4 1618.4,654.5 1621.0,647.6" fill="none" stroke="#ff3a1f" stroke-width="1"/>
<line x1="71.0" y1="665.5" x2="1621.0" y2="665.5" stroke="#2a3035" stroke-width="1"/>
<text x="71" y="517" font-size="11" font-weight="bold" fill="#fff" text-anchor="start" >Total CPU utilization (system.cpu)</text>
<text x="26" y="602" font-size="10" font-weight="normal" fill="#fff" text-anchor="middle" transform="rotate(-90 26 602)">percentage</text>
<text x="1626" y="517" font-size="10" font-weight="normal" fill="#fff" text-anchor="start" >søn. 04. aug. 2019</text>
<text x="1626" y="532" font-size="11" font-weight="bold" fill="#fff" text-anchor="start" >11:50:18</text>
<text x="1755.5" y="547" font-size="10.5" font-weight="bold" fill="#fff" text-anchor="end" >percentage</text>
<rect x="1626" y="554.7" width="13" height="1" fill="#ff3a1f"/>
<rect x="1626" y="556.7" width="13" height="4" fill="#3a2a4a" fill-opacity="0.6"/>
<text x="1642" y="560.7" font-size="11" font-weight="bold" fill="#ff3a1f" text-anchor="start" >guest</text>
<text x="1755.5" y="560.7" font-size="11" font-weight="bold" fill="#ff3a1f" text-anchor="end" >1.1</text>
<rect x="1626" y="568.7" width="13" height="1" fill="#d9680f"/>
<rect x="1626" y="570.7" width="13" height="4" fill="#3a2a4a" fill-opacity="0.6"/>
<text x="1642" y="574.7" font-size="11" font-weight="bold" fill="#d9680f" text-anchor="start" >softirq</text>
<text x="1755.5" y="574.7" font-size="11" font-weight="bold" fill="#d9680f" text-anchor="end" >0.0</text>
<rect x="1626" y="582.7" width="13" height="1" fill="#e0e000"/>
<rect x="1626" y="584.7" width="13" height="4" fill="#3a2a4a" fill-opacity="0.6"/>
<text x="1642" y="588.7" font-size="11" font-weight="bold" fill="#e0e000" text-anchor="start" >user</text>
<text x="1755.5" y="588.7" font-size="11" font-weight="bold" fill="#e0e000" text-anchor="end" >3.8</text>
<rect x="1626" y="596.7" width="13" height="1" fill="#4e4ee8"/>
<rect x="1626" y="598.7" width="13" height="4" fill="#3a2a4a" fill-opacity="0.6"/>
<text x="1642" y="602.7" font-size="11" font-weight="bold" fill="#4e4ee8" text-anchor="start" >system</text>
<text x="1755.5" y="602.7" font-size="11" font-weight="bold" fill="#4e4ee8" text-anchor="end" >6.2</text>
<rect x="1626" y="610.7" width="13" height="1" fill="#f09a10"/>
<rect x="1626" y="612.7" width="13" height="4" fill="#3a2a4a" fill-opacity="0.6"/>
<text x="1642" y="616.7" font-size="11" font-weight="bold" fill="#f09a10" text-anchor="start" >nice</text>
<text x="1755.5" y="616.7" font-size="11" font-weight="bold" fill="#f09a10" text-anchor="end" >0.6</text>
<rect x="1626" y="624.7" width="13" height="1" fill="#c040e0"/>
<rect x="1626" y="626.7" width="13" height="4" fill="#3a2a4a" fill-opacity="0.6"/>
<text x="1642" y="630.7" font-size="11" font-weight="bold" fill="#c040e0" text-anchor="start" >iowait</text>
<text x="1755.5" y="630.7" font-size="11" font-weight="bold" fill="#c040e0" text-anchor="end" >0.0</text>
<line x1="71.5" y1="827.5" x2="1621.0" y2="827.5" stroke="#2a3035" stroke-width="1"/>
<text x="68" y="832.9" font-size="10" font-weight="bold" fill="#fff" text-anchor="end" >5.00</text>
<line x1="71.5" y1="863.5" x2="1621.0" y2="863.5" stroke="#2a3035" stroke-width="1"/>
<text x="68" y="868.9" font-size="10" font-weight="bold" fill="#fff" text-anchor="end" >4.00</text>
<line x1="71.5" y1="899.5" x2="1621.0" y2="899.5" stroke="#2a3035" stroke-width="1"/>
<text x="68" y="904.9" font-size="10" font-weight="bold" fill="#fff" text-anchor="end" >3.00</text>
<line x1="97.5" y1="809.0" x2="97.5" y2="899.5" stroke="#2a3035" stroke-width="1"/>
<line x1="175.5" y1="809.0" x2="175.5" y2="899.5" stroke="#2a3035" stroke-width="1"/>
<line x1="254.5" y1="809.0" x2="254.5" y2="899.5" stroke="#2a3035" stroke-width="1"/>
<line x1="332.5" y1="809.0" x2="332.5" y2="899.5" stroke="#2a3035" stroke-width="1"/>
<line x1="410.5" y1="809.0" x2="410.5" y2="899.5" stroke="#2a3035" stroke-width="1"/>
<line x1="488.5" y1="809.0" x2="488.5" y2="899.5" stroke="#2a3035" stroke-width="1"/>
<line x1="566.5" y1="809.0" x2="566.5" y2="899.5" stroke="#2a3035" stroke-width="1"/>
<line x1="644.5" y1="809.0" x2="644.5" y2="899.5" stroke="#2a3035" stroke-width="1"/>
<line x1="722.5" y1="809.0" x2="722.5" y2="899.5" stroke="#2a3035" stroke-width="1"/>
<line x1="801.5" y1="809.0" x2="801.5" y2="899.5" stroke="#2a3035" stroke-width="1"/>
<line x1="879.5" y1="809.0" x2="879.5" y2="899.5" stroke="#2a3035" stroke-width="1"/>
<line x1="957.5" y1="809.0" x2="957.5" y2="899.5" stroke="#2a3035" stroke-width="1"/>
<line x1="1035.5" y1="809.0" x2="1035.5" y2="899.5" stroke="#2a3035" stroke-width="1"/>
<line x1="1113.5" y1="809.0" x2="1113.5" y2="899.5" stroke="#2a3035" stroke-width="1"/>
<line x1="1191.5" y1="809.0" x2="1191.5" y2="899.5" stroke="#2a3035" stroke-width="1"/>
<line x1="1270.5" y1="809.0" x2="1270.5" y2="899.5" stroke="#2a3035" stroke-width="1"/>
<line x1="1348.5" y1="809.0" x2="1348.5" y2="899.5" stroke="#2a3035" stroke-width="1"/>
<line x1="1426.5" y1="809.0" x2="1426.5" y2="899.5" stroke="#2a3035" stroke-width="1"/>
<line x1="1504.5" y1="809.0" x2="1504.5" y2="899.5" stroke="#2a3035" stroke-width="1"/>
<line x1="1582.5" y1="809.0" x2="1582.5" y2="899.5" stroke="#2a3035" stroke-width="1"/>
<line x1="71.5" y1="809.0" x2="71.5" y2="899.5" stroke="#2a3035" stroke-width="1"/>
<path d="M71.5 879.7 C77.0 879.8 92.2 880.2 104.7 880.4 C117.2 880.6 134.9 880.9 146.5 881.1 C158.1 881.3 166.3 881.5 174.5 881.4 C182.7 881.3 187.3 881.0 195.4 880.7 C203.5 880.4 215.2 880.0 223.3 879.7 C231.4 879.4 234.9 879.0 244.2 879.0 C253.5 879.0 261.7 879.6 279.1 879.7 C296.6 879.8 333.8 879.6 348.9 879.7 C364.0 879.8 358.3 880.3 369.9 880.4 C381.5 880.5 398.9 880.5 418.7 880.4 C438.5 880.3 471.1 879.8 488.5 879.7 C505.9 879.6 511.8 880.0 523.4 880.0 C535.0 880.0 546.7 879.8 558.3 879.7 C569.9 879.6 582.7 879.5 593.2 879.3 C603.7 879.1 609.5 878.6 621.1 878.6 C632.7 878.6 647.6 878.8 662.9 879.0 C678.2 879.2 696.3 879.2 712.8 879.7 C729.3 880.2 736.1 881.7 761.7 882.1 C787.3 882.5 840.1 882.6 866.3 882.1 C892.5 881.6 898.9 879.6 918.7 879.3 C938.5 879.0 965.8 880.6 985.0 880.4 C1004.2 880.2 1014.6 878.4 1033.8 877.9 C1053.0 877.4 1086.7 877.6 1100.1 877.2 C1113.5 876.9 1105.3 876.3 1114.0 875.8 C1122.7 875.3 1139.0 874.5 1152.4 874.4 C1165.8 874.3 1174.5 875.0 1194.3 875.1 C1214.1 875.2 1256.6 874.9 1271.1 875.1 C1285.6 875.3 1275.0 876.1 1281.5 876.2 C1288.0 876.4 1303.2 876.3 1309.8 876.0 C1316.3 875.7 1312.2 874.4 1320.8 874.3 C1329.3 874.2 1345.4 875.3 1361.1 875.3 C1376.8 875.3 1404.0 874.7 1414.8 874.3 C1425.6 873.9 1413.2 873.2 1425.8 873.1 C1438.4 873.0 1466.7 873.8 1490.5 873.8 C1514.3 873.8 1553.4 873.2 1568.7 872.8 C1584.0 872.3 1575.6 871.3 1582.1 871.1 C1588.6 870.9 1601.4 871.3 1607.8 871.6 C1614.2 871.9 1618.5 872.6 1620.7 872.8" fill="none" stroke="#3a6ee0" stroke-width="2" stroke-linejoin="round"/>
<path d="M71.5 867.8 C75.9 868.2 91.0 869.8 97.7 870.3 C104.4 870.8 107.1 870.7 111.7 871.0 C116.3 871.3 117.5 871.6 125.6 872.0 C133.7 872.4 152.3 873.0 160.5 873.4 C168.7 873.8 169.8 874.3 174.5 874.5 C179.2 874.7 183.8 875.1 188.4 874.5 C193.1 873.9 198.0 871.7 202.4 871.0 C206.8 870.3 210.5 870.8 214.6 870.3 C218.7 869.8 222.4 868.8 226.8 868.2 C231.2 867.6 236.2 866.8 240.8 866.8 C245.5 866.8 250.0 867.6 254.7 868.2 C259.3 868.8 264.0 869.8 268.7 870.3 C273.4 870.8 278.0 871.1 282.6 871.0 C287.2 870.9 292.0 869.8 296.6 869.6 C301.2 869.4 305.9 869.4 310.5 869.6 C315.1 869.8 318.7 870.8 324.5 871.0 C330.3 871.2 338.4 870.6 345.4 871.0 C352.4 871.4 360.0 872.9 366.4 873.4 C372.8 873.9 376.5 873.7 383.8 873.8 C391.1 873.9 403.6 873.5 410.0 873.8 C416.4 874.1 416.1 875.4 422.2 875.5 C428.3 875.6 440.2 874.5 446.6 874.5 C453.0 874.5 456.0 875.3 460.6 875.5 C465.2 875.7 470.1 875.9 474.5 875.5 C478.9 875.1 482.1 873.6 486.7 873.4 C491.3 873.2 493.4 874.2 502.4 874.5 C511.4 874.8 532.4 874.7 540.8 875.2 C549.2 875.7 548.9 877.6 553.0 877.3 C557.1 877.0 558.5 874.3 565.2 873.4 C571.9 872.5 586.2 872.0 593.2 871.7 C600.2 871.4 603.0 871.9 607.1 871.7 C611.2 871.5 613.5 870.2 617.6 870.3 C621.7 870.3 624.0 871.6 631.5 872.0 C639.0 872.4 649.9 872.4 662.9 872.7 C675.9 873.1 699.2 873.6 709.3 874.1 C719.4 874.6 714.0 874.9 723.3 875.8 C732.6 876.7 752.3 879.1 765.1 879.7 C777.9 880.3 788.4 879.0 800.0 879.3 C811.6 879.6 824.1 881.0 834.9 881.4 C845.7 881.8 857.0 882.3 864.6 881.8 C872.2 881.3 873.6 879.2 880.3 878.6 C887.0 878.0 898.3 878.9 904.7 877.9 C911.1 876.9 914.6 873.6 918.7 872.7 C922.8 871.8 925.0 872.2 929.1 872.4 C933.2 872.6 938.5 874.0 943.1 874.1 C947.8 874.2 952.1 872.9 957.0 872.7 C961.9 872.5 968.1 872.6 972.7 873.0 C977.4 873.4 980.5 874.8 984.9 875.1 C989.3 875.5 994.2 875.7 998.9 875.1 C1003.6 874.5 1003.0 872.6 1012.9 871.7 C1022.8 870.8 1043.7 870.3 1058.2 869.9 C1072.7 869.5 1090.8 870.1 1100.1 869.2 C1109.4 868.3 1109.0 865.5 1114.0 864.7 C1119.0 864.0 1123.4 865.2 1129.8 864.7 C1136.2 864.2 1144.6 861.9 1152.4 861.5 C1160.2 861.1 1170.5 862.2 1176.9 862.6 C1183.3 863.0 1179.8 863.8 1190.8 864.0 C1201.8 864.2 1230.1 863.8 1243.2 864.0 C1256.3 864.2 1262.9 864.8 1269.3 865.4 C1275.7 866.0 1274.8 867.4 1281.5 867.5 C1288.2 867.6 1303.2 866.4 1309.8 865.8 C1316.3 865.2 1314.3 864.0 1320.8 863.8 C1327.3 863.6 1342.4 864.2 1348.9 864.5 C1355.4 864.8 1355.3 865.7 1359.8 865.5 C1364.3 865.3 1371.0 863.7 1375.7 863.3 C1380.4 862.9 1383.8 863.1 1387.9 863.3 C1392.0 863.5 1395.8 864.3 1400.1 864.5 C1404.4 864.7 1409.3 865.2 1413.6 864.5 C1417.9 863.8 1420.3 860.8 1425.8 860.1 C1431.3 859.5 1437.0 860.5 1446.6 860.6 C1456.2 860.7 1475.5 860.6 1483.2 860.9 C1490.9 861.2 1488.1 862.3 1493.0 862.3 C1497.9 862.2 1504.0 860.8 1512.5 860.6 C1521.0 860.4 1534.9 861.0 1544.3 861.1 C1553.7 861.2 1562.4 861.8 1568.7 861.1 C1575.0 860.4 1577.6 857.2 1582.1 856.7 C1586.6 856.2 1591.3 858.0 1595.6 858.2 C1599.9 858.5 1603.6 857.7 1607.8 858.2 C1612.0 858.7 1618.5 860.9 1620.7 861.4" fill="none" stroke="#f03a22" stroke-width="2" stroke-linejoin="round"/>
<path d="M71.5 809.9 C75.8 813.2 90.9 825.5 97.3 829.8 C103.7 834.0 105.5 833.2 109.9 835.4 C114.3 837.6 119.5 841.1 123.9 843.1 C128.3 845.1 132.0 845.8 136.1 847.6 C140.2 849.5 144.0 853.0 148.3 854.2 C152.7 855.4 157.8 853.1 162.2 854.6 C166.6 856.1 170.1 861.8 174.5 863.3 C178.9 864.8 184.1 865.6 188.4 863.3 C192.8 861.0 196.5 851.9 200.6 849.3 C204.7 846.7 208.4 849.5 212.8 847.6 C217.2 845.7 222.1 840.1 226.8 837.8 C231.5 835.5 236.2 833.0 240.8 833.6 C245.5 834.2 250.3 838.3 254.7 841.3 C259.0 844.3 262.8 849.5 266.9 851.8 C271.0 854.1 275.0 855.0 279.1 855.3 C283.2 855.6 286.9 853.7 291.3 853.5 C295.7 853.3 300.6 852.9 305.3 854.2 C310.0 855.5 314.9 860.0 319.3 861.5 C323.7 863.0 327.1 862.9 331.5 863.3 C335.9 863.7 341.0 862.9 345.4 864.0 C349.8 865.1 353.5 867.7 357.6 869.9 C361.7 872.1 365.5 875.8 369.9 877.3 C374.3 878.8 379.1 878.9 383.8 879.0 C388.5 879.1 393.4 877.9 397.8 877.9 C402.2 877.9 405.9 878.0 410.0 879.0 C414.1 880.0 417.8 884.3 422.2 884.2 C426.6 884.1 431.7 879.7 436.1 878.6 C440.5 877.5 444.3 877.3 448.4 877.9 C452.5 878.5 456.2 881.0 460.6 882.1 C465.0 883.2 470.1 885.6 474.5 884.2 C478.9 882.8 482.3 874.7 486.7 873.8 C491.1 872.9 496.3 878.3 500.7 879.0 C505.1 879.7 508.5 877.8 512.9 877.9 C517.3 878.0 522.2 879.4 526.9 879.7 C531.5 880.0 536.4 878.2 540.8 879.7 C545.1 881.2 548.9 889.9 553.0 888.4 C557.1 886.9 560.8 874.5 565.2 871.0 C569.6 867.5 574.5 868.5 579.2 867.5 C583.9 866.5 588.6 865.2 593.2 864.7 C597.9 864.2 603.0 865.7 607.1 864.7 C611.2 863.7 613.5 858.3 617.6 858.8 C621.7 859.3 626.9 865.5 631.5 867.5 C636.1 869.5 640.8 870.0 645.5 871.0 C650.2 872.0 654.9 872.5 659.5 873.4 C664.1 874.3 668.8 875.7 673.4 876.2 C678.0 876.7 683.7 876.2 687.4 876.2 C691.1 876.2 691.4 876.1 695.4 876.2 C699.4 876.3 706.5 875.8 711.1 876.9 C715.8 878.0 717.8 880.6 723.3 882.8 C728.8 884.9 738.1 887.5 744.2 889.8 C750.3 892.1 752.6 895.5 759.9 896.8 C767.2 898.1 781.1 898.3 787.8 897.5 C794.5 896.7 795.9 892.2 800.0 891.9 C804.1 891.5 807.8 894.2 812.2 895.4 C816.6 896.6 817.5 898.3 826.2 898.9 C834.9 899.5 855.9 901.1 864.6 898.9 C873.3 896.7 873.6 888.7 878.5 885.6 C883.4 882.5 889.5 883.0 894.2 880.4 C898.9 877.8 902.7 874.4 906.5 869.9 C910.3 865.4 912.8 856.1 916.9 853.5 C921.0 850.9 926.5 852.5 930.9 854.2 C935.3 855.9 938.8 863.0 943.1 863.6 C947.5 864.2 952.6 858.6 957.0 857.7 C961.4 856.8 965.2 856.4 969.3 858.4 C973.4 860.4 977.1 867.7 981.5 869.9 C985.9 872.1 990.8 873.5 995.4 871.7 C1000.0 870.0 1004.2 862.0 1009.4 859.4 C1014.6 856.8 1020.4 857.3 1026.8 856.0 C1033.2 854.7 1042.0 852.7 1047.8 851.8 C1053.6 850.9 1055.9 850.6 1061.7 850.7 C1067.5 850.8 1076.3 852.3 1082.7 852.5 C1089.1 852.7 1095.2 855.3 1100.1 851.8 C1105.0 848.3 1107.9 833.9 1112.3 831.5 C1116.7 829.1 1121.9 837.1 1126.3 837.5 C1130.7 837.9 1134.2 836.2 1138.5 834.0 C1142.8 831.8 1147.8 824.9 1152.4 824.5 C1157.1 824.1 1161.7 829.5 1166.4 831.5 C1171.1 833.5 1176.0 834.8 1180.4 836.8 C1184.8 838.8 1186.8 842.1 1192.6 843.7 C1198.4 845.3 1208.9 845.2 1215.3 846.5 C1221.7 847.8 1226.2 850.9 1230.9 851.4 C1235.6 851.9 1238.8 849.2 1243.2 849.7 C1247.6 850.2 1252.8 852.9 1257.1 854.2 C1261.4 855.5 1265.5 855.8 1269.3 857.7 C1273.1 859.6 1275.7 864.8 1279.8 865.7 C1283.9 866.6 1288.7 863.4 1293.7 862.9 C1298.7 862.4 1305.3 864.4 1309.8 862.6 C1314.3 860.8 1317.5 854.1 1320.8 852.3 C1324.0 850.5 1326.2 851.5 1329.3 851.8 C1332.3 852.1 1335.8 853.0 1339.1 854.0 C1342.4 855.0 1345.5 856.2 1348.9 857.7 C1352.4 859.2 1355.5 864.0 1359.8 863.3 C1364.1 862.6 1370.2 855.5 1374.5 853.6 C1378.8 851.7 1381.4 851.2 1385.5 852.1 C1389.6 853.0 1394.2 857.8 1398.9 858.9 C1403.6 860.0 1409.1 862.1 1413.6 858.9 C1418.1 855.6 1421.7 842.2 1425.8 839.4 C1429.9 836.5 1433.9 840.7 1438.0 841.8 C1442.1 842.9 1445.9 845.3 1450.2 846.0 C1454.5 846.7 1459.2 845.5 1463.7 846.0 C1468.2 846.5 1472.6 847.6 1477.1 849.2 C1481.6 850.8 1486.0 855.1 1490.5 855.8 C1495.0 856.5 1499.7 854.8 1504.0 853.6 C1508.3 852.4 1512.1 849.0 1516.2 848.4 C1520.3 847.8 1523.7 849.0 1528.4 849.9 C1533.1 850.8 1537.6 853.1 1544.3 854.0 C1551.0 854.9 1562.4 858.8 1568.7 855.3 C1575.0 851.8 1577.8 835.2 1582.1 832.8 C1586.4 830.4 1590.0 839.6 1594.3 841.1 C1598.6 842.6 1604.3 840.0 1607.8 841.8 C1611.3 843.5 1612.9 848.5 1615.1 851.6 C1617.2 854.7 1619.8 859.1 1620.7 860.6" fill="none" stroke="#6aaa10" stroke-width="2" stroke-linejoin="round"/>
<text x="71" y="805" font-size="11" font-weight="bold" fill="#fff" text-anchor="start" >System Load Average (system.load)</text>
<text x="25.6" y="863" font-size="10" font-weight="normal" fill="#fff" text-anchor="middle" transform="rotate(-90 25.6 863)">load</text>
<text x="1626" y="805" font-size="10" font-weight="normal" fill="#fff" text-anchor="start" >søn. 04. aug. 2019</text>
<text x="1626" y="820" font-size="11" font-weight="bold" fill="#fff" text-anchor="start" >11:50:15</text>
<text x="1755.5" y="835" font-size="10.5" font-weight="bold" fill="#fff" text-anchor="end" >load</text>
<rect x="1626" y="844.7" width="13" height="4" fill="#2a2a5a" fill-opacity="0.6"/>
<text x="1642" y="848.7" font-size="11" font-weight="bold" fill="#6aaa10" text-anchor="start" >load1</text>
<text x="1755.5" y="848.7" font-size="11" font-weight="bold" fill="#6aaa10" text-anchor="end" >4.07</text>
<rect x="1626" y="858.7" width="13" height="4" fill="#2a2a5a" fill-opacity="0.6"/>
<text x="1642" y="862.7" font-size="11" font-weight="bold" fill="#f03a22" text-anchor="start" >load5</text>
<text x="1755.5" y="862.7" font-size="11" font-weight="bold" fill="#f03a22" text-anchor="end" >4.06</text>
<rect x="1626" y="872.7" width="13" height="4" fill="#2a2a5a" fill-opacity="0.6"/>
<text x="1642" y="876.7" font-size="11" font-weight="bold" fill="#3a6ee0" text-anchor="start" >load15</text>
<text x="1755.5" y="876.7" font-size="11" font-weight="bold" fill="#3a6ee0" text-anchor="end" >3.75</text>
<rect x="1786" y="70" width="2" height="26" fill="#fce630"/>
<path d="M1811 76H1821.3V89.3L1816.15 85.8L1811 89.3Z" fill="#fce630"/>
<text x="1830.5" y="87" font-size="13" font-weight="bold" fill="#fce630" text-anchor="start" >System Overview</text>
<text x="1816" y="108.6" font-size="12" font-weight="normal" fill="#fff" text-anchor="start" >cpu</text>
<text x="1816" y="127.6" font-size="12" font-weight="normal" fill="#fff" text-anchor="start" >load</text>
<text x="1816" y="146.6" font-size="12" font-weight="normal" fill="#fff" text-anchor="start" >disk</text>
<text x="1816" y="165.6" font-size="12" font-weight="normal" fill="#fff" text-anchor="start" >ram</text>
<text x="1816" y="184.6" font-size="12" font-weight="normal" fill="#fff" text-anchor="start" >network</text>
<text x="1816" y="203.6" font-size="12" font-weight="normal" fill="#fff" text-anchor="start" >processes</text>
<text x="1816" y="222.6" font-size="12" font-weight="normal" fill="#fff" text-anchor="start" >idlejitter</text>
<text x="1816" y="241.6" font-size="12" font-weight="normal" fill="#fff" text-anchor="start" >interrupts</text>
<text x="1816" y="260.6" font-size="12" font-weight="normal" fill="#fff" text-anchor="start" >softirqs</text>
<text x="1816" y="279.6" font-size="12" font-weight="normal" fill="#fff" text-anchor="start" >softnet</text>
<text x="1816" y="298.6" font-size="12" font-weight="normal" fill="#fff" text-anchor="start" >entropy</text>
<text x="1816" y="317.6" font-size="12" font-weight="normal" fill="#fff" text-anchor="start" >uptime</text>
<text x="1816" y="336.6" font-size="12" font-weight="normal" fill="#fff" text-anchor="start" >ipc semaphores</text>
<text x="1816" y="355.6" font-size="12" font-weight="normal" fill="#fff" text-anchor="start" >ipc shared memory</text>
<text x="1829.7" y="389" font-size="13" font-weight="normal" fill="#fff" text-anchor="start" >CPUs</text>
<text x="1829.7" y="415" font-size="13" font-weight="normal" fill="#fff" text-anchor="start" >Memory</text>
<text x="1829.7" y="441" font-size="13" font-weight="normal" fill="#fff" text-anchor="start" >Disks</text>
<text x="1829.7" y="467" font-size="13" font-weight="normal" fill="#fff" text-anchor="start" >BTRFS filesystem</text>
<text x="1829.7" y="493" font-size="13" font-weight="normal" fill="#fff" text-anchor="start" >Networking Stack</text>
<text x="1829.7" y="519" font-size="13" font-weight="normal" fill="#fff" text-anchor="start" >IPv4 Networking</text>
<text x="1829.7" y="545" font-size="13" font-weight="normal" fill="#fff" text-anchor="start" >IPv6 Networking</text>
<text x="1829.7" y="571" font-size="13" font-weight="normal" fill="#fff" text-anchor="start" >Network Interfaces</text>
<text x="1829.7" y="597" font-size="13" font-weight="normal" fill="#fff" text-anchor="start" >Firewall (netfilter)</text>
<text x="1829.7" y="623" font-size="13" font-weight="normal" fill="#fff" text-anchor="start" >Applications</text>
<text x="1829.7" y="649" font-size="13" font-weight="normal" fill="#fff" text-anchor="start" >User Groups</text>
<text x="1829.7" y="675" font-size="13" font-weight="normal" fill="#fff" text-anchor="start" >Users</text>
<text x="1833.5" y="701" font-size="13" font-weight="normal" fill="#fff" text-anchor="start" >airconnect</text>
<rect x="1809.3" y="689.2" width="3.7" height="3.4" fill="#fff"/><rect x="1814.0" y="689.2" width="3.7" height="3.4" fill="#fff"/><rect x="1818.7" y="689.2" width="3.7" height="3.4" fill="#fff"/><rect x="1809.3" y="693.5" width="3.7" height="3.4" fill="#fff"/><rect x="1814.0" y="693.5" width="3.7" height="3.4" fill="#fff"/><rect x="1818.7" y="693.5" width="3.7" height="3.4" fill="#fff"/><rect x="1809.3" y="697.8" width="3.7" height="3.4" fill="#fff"/><rect x="1814.0" y="697.8" width="3.7" height="3.4" fill="#fff"/><rect x="1818.7" y="697.8" width="3.7" height="3.4" fill="#fff"/>
<text x="1833.5" y="727" font-size="13" font-weight="normal" fill="#fff" text-anchor="start" >apacheguacamole</text>
<rect x="1809.3" y="715.2" width="3.7" height="3.4" fill="#fff"/><rect x="1814.0" y="715.2" width="3.7" height="3.4" fill="#fff"/><rect x="1818.7" y="715.2" width="3.7" height="3.4" fill="#fff"/><rect x="1809.3" y="719.5" width="3.7" height="3.4" fill="#fff"/><rect x="1814.0" y="719.5" width="3.7" height="3.4" fill="#fff"/><rect x="1818.7" y="719.5" width="3.7" height="3.4" fill="#fff"/><rect x="1809.3" y="723.8" width="3.7" height="3.4" fill="#fff"/><rect x="1814.0" y="723.8" width="3.7" height="3.4" fill="#fff"/><rect x="1818.7" y="723.8" width="3.7" height="3.4" fill="#fff"/>
<text x="1833.5" y="753" font-size="13" font-weight="normal" fill="#fff" text-anchor="start" >apcupsd-influxdb-</text>
<rect x="1809.3" y="741.2" width="3.7" height="3.4" fill="#fff"/><rect x="1814.0" y="741.2" width="3.7" height="3.4" fill="#fff"/><rect x="1818.7" y="741.2" width="3.7" height="3.4" fill="#fff"/><rect x="1809.3" y="745.5" width="3.7" height="3.4" fill="#fff"/><rect x="1814.0" y="745.5" width="3.7" height="3.4" fill="#fff"/><rect x="1818.7" y="745.5" width="3.7" height="3.4" fill="#fff"/><rect x="1809.3" y="749.8" width="3.7" height="3.4" fill="#fff"/><rect x="1814.0" y="749.8" width="3.7" height="3.4" fill="#fff"/><rect x="1818.7" y="749.8" width="3.7" height="3.4" fill="#fff"/>
<text x="1833.5" y="797" font-size="13" font-weight="normal" fill="#fff" text-anchor="start" >bazarr</text>
<rect x="1809.3" y="785.2" width="3.7" height="3.4" fill="#fff"/><rect x="1814.0" y="785.2" width="3.7" height="3.4" fill="#fff"/><rect x="1818.7" y="785.2" width="3.7" height="3.4" fill="#fff"/><rect x="1809.3" y="789.5" width="3.7" height="3.4" fill="#fff"/><rect x="1814.0" y="789.5" width="3.7" height="3.4" fill="#fff"/><rect x="1818.7" y="789.5" width="3.7" height="3.4" fill="#fff"/><rect x="1809.3" y="793.8" width="3.7" height="3.4" fill="#fff"/><rect x="1814.0" y="793.8" width="3.7" height="3.4" fill="#fff"/><rect x="1818.7" y="793.8" width="3.7" height="3.4" fill="#fff"/>
<text x="1833.5" y="823" font-size="13" font-weight="normal" fill="#fff" text-anchor="start" >binhex-delugevpn</text>
<rect x="1809.3" y="811.2" width="3.7" height="3.4" fill="#fff"/><rect x="1814.0" y="811.2" width="3.7" height="3.4" fill="#fff"/><rect x="1818.7" y="811.2" width="3.7" height="3.4" fill="#fff"/><rect x="1809.3" y="815.5" width="3.7" height="3.4" fill="#fff"/><rect x="1814.0" y="815.5" width="3.7" height="3.4" fill="#fff"/><rect x="1818.7" y="815.5" width="3.7" height="3.4" fill="#fff"/><rect x="1809.3" y="819.8" width="3.7" height="3.4" fill="#fff"/><rect x="1814.0" y="819.8" width="3.7" height="3.4" fill="#fff"/><rect x="1818.7" y="819.8" width="3.7" height="3.4" fill="#fff"/>
<text x="1833.5" y="849" font-size="13" font-weight="normal" fill="#fff" text-anchor="start" >calibreweb</text>
<rect x="1809.3" y="837.2" width="3.7" height="3.4" fill="#fff"/><rect x="1814.0" y="837.2" width="3.7" height="3.4" fill="#fff"/><rect x="1818.7" y="837.2" width="3.7" height="3.4" fill="#fff"/><rect x="1809.3" y="841.5" width="3.7" height="3.4" fill="#fff"/><rect x="1814.0" y="841.5" width="3.7" height="3.4" fill="#fff"/><rect x="1818.7" y="841.5" width="3.7" height="3.4" fill="#fff"/><rect x="1809.3" y="845.8" width="3.7" height="3.4" fill="#fff"/><rect x="1814.0" y="845.8" width="3.7" height="3.4" fill="#fff"/><rect x="1818.7" y="845.8" width="3.7" height="3.4" fill="#fff"/>
<text x="1833.5" y="875" font-size="13" font-weight="normal" fill="#fff" text-anchor="start" >cloudflare-ddns-gflix</text>
<rect x="1809.3" y="863.2" width="3.7" height="3.4" fill="#fff"/><rect x="1814.0" y="863.2" width="3.7" height="3.4" fill="#fff"/><rect x="1818.7" y="863.2" width="3.7" height="3.4" fill="#fff"/><rect x="1809.3" y="867.5" width="3.7" height="3.4" fill="#fff"/><rect x="1814.0" y="867.5" width="3.7" height="3.4" fill="#fff"/><rect x="1818.7" y="867.5" width="3.7" height="3.4" fill="#fff"/><rect x="1809.3" y="871.8" width="3.7" height="3.4" fill="#fff"/><rect x="1814.0" y="871.8" width="3.7" height="3.4" fill="#fff"/><rect x="1818.7" y="871.8" width="3.7" height="3.4" fill="#fff"/>
<text x="1833.5" y="901" font-size="13" font-weight="normal" fill="#fff" text-anchor="start" >cloudflare-ddns-tr</text>
<rect x="1809.3" y="889.2" width="3.7" height="3.4" fill="#fff"/><rect x="1814.0" y="889.2" width="3.7" height="3.4" fill="#fff"/><rect x="1818.7" y="889.2" width="3.7" height="3.4" fill="#fff"/><rect x="1809.3" y="893.5" width="3.7" height="3.4" fill="#fff"/><rect x="1814.0" y="893.5" width="3.7" height="3.4" fill="#fff"/><rect x="1818.7" y="893.5" width="3.7" height="3.4" fill="#fff"/><rect x="1809.3" y="897.8" width="3.7" height="3.4" fill="#fff"/><rect x="1814.0" y="897.8" width="3.7" height="3.4" fill="#fff"/><rect x="1818.7" y="897.8" width="3.7" height="3.4" fill="#fff"/>
<text x="1806.3" y="771" font-size="13" font-weight="normal" fill="#fff" text-anchor="start" >exporter</text>
<path d="M1813.5 378.5H1819.5L1817.4 382.7H1820.3L1814 391.3L1815.6 385.2H1811.8Z" fill="#fff"/>
<rect x="1811.8" y="404" width="8.6" height="13" rx="0.6" fill="#fff"/>
<rect x="1809.3" y="405.2" width="1.3" height="1" fill="#fff"/><rect x="1821.5" y="405.2" width="1.3" height="1" fill="#fff"/>
<rect x="1809.3" y="408.4" width="1.3" height="1" fill="#fff"/><rect x="1821.5" y="408.4" width="1.3" height="1" fill="#fff"/>
<rect x="1809.3" y="411.6" width="1.3" height="1" fill="#fff"/><rect x="1821.5" y="411.6" width="1.3" height="1" fill="#fff"/>
<rect x="1809.3" y="414.8" width="1.3" height="1" fill="#fff"/><rect x="1821.5" y="414.8" width="1.3" height="1" fill="#fff"/>
<path d="M1811.2 431H1820.9L1823.2 435.5V441.8A0.8 0.8 0 0 1 1822.4 442.6H1809.7A0.8 0.8 0 0 1 1808.9 441.8V435.5Z" fill="#fff"/><rect x="1809.6" y="435.5" width="12.9" height="0.8" fill="#6a3350"/><rect x="1818.5" y="438.2" width="1.2" height="1.6" fill="#6a3350"/><rect x="1820.4" y="438.2" width="1.2" height="1.6" fill="#6a3350"/>
<path d="M1808.6 466V457.5A0.7 0.7 0 0 1 1809.3 456.8H1812.8L1814 458.2H1819.8A0.7 0.7 0 0 1 1820.5 458.9V460.4H1811.6Z" fill="#fff"/><path d="M1811.8 461.3H1823.8L1820.8 467H1808.6Z" fill="#fff"/>
<g transform="translate(1808.2 482.1) scale(0.8888888888888888)" fill="#fff"><circle cx="10" cy="5.5" r="5.3"/><circle cx="4.3" cy="8" r="4.2"/><circle cx="14.2" cy="8.2" r="3.8"/><rect x="4.3" y="7" width="10" height="5.2"/></g>
<g transform="translate(1808.2 508.1) scale(0.8888888888888888)" fill="#fff"><circle cx="10" cy="5.5" r="5.3"/><circle cx="4.3" cy="8" r="4.2"/><circle cx="14.2" cy="8.2" r="3.8"/><rect x="4.3" y="7" width="10" height="5.2"/></g>
<g transform="translate(1808.2 534.1) scale(0.8888888888888888)" fill="#fff"><circle cx="10" cy="5.5" r="5.3"/><circle cx="4.3" cy="8" r="4.2"/><circle cx="14.2" cy="8.2" r="3.8"/><rect x="4.3" y="7" width="10" height="5.2"/></g>
<rect x="1813.7" y="559.8" width="4.8" height="3.6" fill="#fff"/><rect x="1815.6" y="563.4" width="1" height="2.2" fill="#fff"/><rect x="1809.8" y="565.2" width="12.6" height="1" fill="#fff"/><rect x="1809.8" y="565.2" width="1" height="2.2" fill="#fff"/><rect x="1815.6" y="565.2" width="1" height="2.2" fill="#fff"/><rect x="1821.4" y="565.2" width="1" height="2.2" fill="#fff"/><rect x="1808" y="567.4" width="4.6" height="3.6" fill="#fff"/><rect x="1813.8" y="567.4" width="4.6" height="3.6" fill="#fff"/><rect x="1819.6" y="567.4" width="4.6" height="3.6" fill="#fff"/>
<path d="M1816.2 586.2L1822.3 588.4V592C1822.3 595.5 1819.5 597.5 1816.2 598.6C1812.9 597.5 1810.2 595.5 1810.2 592V588.4Z" fill="#fff"/><path d="M1816.2 588.1V596.7C1818.9 595.7 1820.7 594 1820.7 591.7V589.5Z" fill="#6a3350"/>
<path d="M1816.2 624.7L1810 618.7C1808.3 617 1808.5 613.7 1811.2 612.7C1813.2 612 1815 613.2 1816.2 614.6C1817.4 613.2 1819.2 612 1821.2 612.7C1823.9 613.7 1824.1 617 1822.4 618.7Z" fill="#fff"/><path d="M1808.8 618H1812.6L1814 615.5L1815.8 620.4L1817.6 616.2L1818.6 618H1823.5" fill="none" stroke="#6a3350" stroke-width="1.1"/>
<circle cx="1816" cy="640.4" r="2.3" fill="#fff"/><circle cx="1811.2" cy="641.4" r="1.8" fill="#fff"/><circle cx="1820.8" cy="641.4" r="1.8" fill="#fff"/><path d="M1812.3 647.7C1812.3 645 1813.9 643.4 1816 643.4C1818.1 643.4 1819.7 645 1819.7 647.7Z" fill="#fff"/><path d="M1807.8 647.2C1807.8 645 1809 643.7 1811 643.7C1811.8 643.7 1812.4 644 1812.9 644.4C1812.1 645.2 1811.6 646.2 1811.5 647.2Z" fill="#fff"/><path d="M1824.2 647.2C1824.2 645 1823 643.7 1821 643.7C1820.2 643.7 1819.6 644 1819.1 644.4C1819.9 645.2 1820.4 646.2 1820.5 647.2Z" fill="#fff"/>
<circle cx="1815.8" cy="667.5" r="3.4" fill="#fff"/><path d="M1809.2 676.6V675C1809.2 672.7 1810.8 671.5 1812.8 671.5H1818.8C1820.8 671.5 1822.4 672.7 1822.4 675V676.6Z" fill="#fff"/>
<rect x="1972" y="50" width="5" height="350" rx="2.5" fill="#ffffff" fill-opacity="0.06"/>
<path d="M10 13H29A13 13 0 0 1 29 39H23Z" fill="#00ff00"/>
<text x="73" y="31" font-size="18" font-weight="normal" fill="#fff" text-anchor="start" >Nostromo</text>
<path d="M163 24H171L167 28Z" fill="#fff"/>
<rect x="1089.6" y="18.7" width="16.4" height="10.4" rx="1" fill="none" stroke="#fff" stroke-width="1.6"/>
<rect x="1097.3" y="29" width="2.6" height="1.6" fill="#fff"/><rect x="1091.6" y="30.3" width="12.6" height="1.7" rx="0.6" fill="#fff"/>
<text x="1110.5" y="30" font-size="14" font-weight="normal" fill="#fff" text-anchor="start" stroke="#fff" stroke-width="0.35">Nodes</text>
<text x="1154" y="24.6" font-size="10.5" font-weight="bold" fill="#f5c400" text-anchor="start" >beta</text>
<path d="M1208.4 28.2C1209.3 26.6 1209.2 24.6 1209.2 23.4C1209.2 21.2 1210.8 19.7 1212.9 19.7C1215 19.7 1216.6 21.2 1216.6 23.4C1216.6 24.6 1216.5 26.6 1217.4 28.2L1219 29.6H1206.8Z" fill="#fff"/><circle cx="1212.9" cy="18.9" r="1.1" fill="#fff"/><path d="M1211.2 30.2A1.7 1.7 0 0 0 1214.6 30.2Z" fill="#fff"/>
<text x="1222.5" y="30" font-size="14" font-weight="normal" fill="#fff" text-anchor="start" stroke="#fff" stroke-width="0.35">Alarms</text>
<rect x="1270" y="16" width="21" height="18" rx="9" fill="#7a8289"/>
<text x="1280.7" y="29.5" font-size="12.8" font-weight="bold" fill="#fff" text-anchor="middle" >2</text>
<path d="M1328.68 20.03 L1328.87 18.27 L1330.73 18.27 L1330.92 20.03 L1332.45 20.66 L1333.83 19.55 L1335.15 20.87 L1334.04 22.25 L1334.67 23.78 L1336.43 23.97 L1336.43 25.83 L1334.67 26.02 L1334.04 27.55 L1335.15 28.93 L1333.83 30.25 L1332.45 29.14 L1330.92 29.77 L1330.73 31.53 L1328.87 31.53 L1328.68 29.77 L1327.15 29.14 L1325.77 30.25 L1324.45 28.93 L1325.56 27.55 L1324.93 26.02 L1323.17 25.83 L1323.17 23.97 L1324.93 23.78 L1325.56 22.25 L1324.45 20.87 L1325.77 19.55 L1327.15 20.66Z M1331.8999999999999 24.9 A2.1 2.1 0 1 0 1327.7 24.9 A2.1 2.1 0 1 0 1331.8999999999999 24.9Z" fill="#fff" fill-rule="evenodd"/>
<text x="1340.3" y="30" font-size="14" font-weight="normal" fill="#fff" text-anchor="start" stroke="#fff" stroke-width="0.35">Settings</text>
<defs><mask id="cdm"><rect x="1420" y="15" width="24" height="20" fill="#fff"/><path d="M1430.6 22.5H1433.2V26H1435.2L1431.9 29.3L1428.6 26H1430.6Z" fill="#000"/></mask></defs>
<g mask="url(#cdm)"><g transform="translate(1422.9 19.0) scale(1.0)" fill="#fff"><circle cx="10" cy="5.5" r="5.3"/><circle cx="4.3" cy="8" r="4.2"/><circle cx="14.2" cy="8.2" r="3.8"/><rect x="4.3" y="7" width="10" height="5.2"/></g></g>
<text x="1444.5" y="30" font-size="14" font-weight="normal" fill="#fff" text-anchor="start" stroke="#fff" stroke-width="0.35">Update</text>
<defs><mask id="ghm"><rect x="1515" y="15" width="28" height="20" fill="#fff"/><path d="M1525.3 21.1L1526.4 21.8C1527.2 21.5 1528.1 21.4 1529 21.4C1529.9 21.4 1530.8 21.5 1531.6 21.8L1532.7 21.1L1532.8 23C1533 23.4 1533 23.9 1533 24.3C1533 25.8 1532 26.5 1530.7 26.6V32.2H1527.9V26.6C1526.3 26.5 1525.1 25.8 1525.1 24.3C1525.1 23.9 1525.1 23.4 1525.3 23Z" fill="#000"/><circle cx="1524.7" cy="27.3" r="0.45" fill="#000"/><circle cx="1525.6" cy="28.1" r="0.45" fill="#000"/><circle cx="1526.6" cy="28.9" r="0.45" fill="#000"/></mask></defs>
<circle cx="1529" cy="24.9" r="7" fill="#fff" mask="url(#ghm)"/>
<g transform="translate(0 18.9) scale(1 0.923) translate(0 -18.8)"><path d="M1583 20.3C1582.4 20.6 1581.8 20.7 1581.1 20.8C1581.8 20.4 1582.3 19.8 1582.5 19C1581.9 19.4 1581.2 19.6 1580.4 19.8C1579.8 19.1 1579 18.8 1578 18.8C1576.2 18.8 1574.7 20.3 1574.7 22.1C1574.7 22.4 1574.7 22.6 1574.8 22.8C1572.1 22.7 1569.6 21.4 1568 19.4C1567.7 19.9 1567.6 20.5 1567.6 21.1C1567.6 22.2 1568.2 23.2 1569.1 23.8C1568.5 23.8 1568 23.6 1567.6 23.4C1567.6 25 1568.7 26.3 1570.2 26.6C1569.7 26.8 1569.2 26.8 1568.7 26.7C1569.1 28 1570.4 29 1571.8 29C1570.7 29.9 1569.2 30.4 1567.6 30.4C1567.3 30.4 1567.1 30.4 1566.9 30.4C1568.3 31.3 1570.1 31.8 1572 31.8C1578 31.8 1581.4 26.8 1581.4 22.4V22C1582 21.5 1582.6 21 1583 20.3Z" fill="#fff"/></g>
<path d="M1614.8 18.9H1625.2A0.9 0.9 0 0 1 1626.1 19.8V30.3A0.9 0.9 0 0 1 1625.2 31.2H1622.3V26.3H1624L1624.3 24.4H1622.3V23.2C1622.3 22.6 1622.5 22.2 1623.3 22.2H1624.4V20.5C1624.2 20.5 1623.6 20.4 1622.9 20.4C1621.4 20.4 1620.4 21.3 1620.4 23V24.4H1618.7V26.3H1620.4V31.2H1614.8A0.9 0.9 0 0 1 1613.9 30.3V19.8A0.9 0.9 0 0 1 1614.8 18.9Z" fill="#fff"/>
<path d="M1663 17.8H1667V23.3H1670.2L1665 28.5L1659.8 23.3H1663Z" fill="#fff"/><path d="M1657.8 27.6H1662.4L1665 30.2L1667.6 27.6H1672.2V32.1H1657.8Z" fill="#fff"/>
<path d="M1715 17.8L1720.2 23.7H1717V29H1713V23.7H1709.8Z" fill="#fff"/><path d="M1707.7 27.8H1712.2V29.8H1717.6V27.8H1722.1V32.1H1707.7Z" fill="#fff"/>
<path d="M1760.3 17.8H1767.8L1769.8 19.8V22H1768.3V20.3L1767.3 19.3H1761.8V22H1760.3Z" fill="#fff"/><path d="M1758.9 21.8H1771.2A1 1 0 0 1 1772.2 22.8V28.3H1770.1V26.3H1760V28.3H1757.9V22.8A1 1 0 0 1 1758.9 21.8Z" fill="#fff"/><path d="M1760.3 26.6H1769.8V32.1H1760.3ZM1761.8 28.2V30.6H1768.3V28.2Z" fill="#fff" fill-rule="evenodd"/>
<circle cx="1814.75" cy="24.85" r="6.8" fill="#fff"/>
<text x="1814.8" y="28.9" font-size="11" font-weight="bold" fill="#2a3262" text-anchor="middle" >?</text>
<text x="1825.5" y="30" font-size="14" font-weight="normal" fill="#fff" text-anchor="start" stroke="#fff" stroke-width="0.35">Help</text>
<path d="M1886.9 23.6H1891V20.6L1895.7 25.2L1891 29.8V26.8H1886.9Z" fill="#fff"/><path d="M1896.3 21.3H1899.3Q1900.1 21.3 1900.1 22.1V28.4Q1900.1 29.2 1899.3 29.2H1896.3" fill="none" stroke="#fff" stroke-width="1.7"/>
<text x="1904.3" y="30" font-size="14" font-weight="normal" fill="#fff" text-anchor="start" stroke="#fff" stroke-width="0.35">Sign In</text>
<rect x="0" y="903" width="1989" height="44" fill="#202226"/>
<text x="703.3" y="929.9" font-size="14" fill="#fff">Like what you see? <tspan font-weight="bold" fill="#20d08a">Sign in</tspan><tspan font-weight="bold"> to experience the full-range of netdata capabilities!</tspan></text>
<text x="1908" y="929.9" font-size="14" font-weight="normal" fill="#fff" text-anchor="start" >Close</text>
<path d="M1954.6 921.5L1962.4 928.6M1962.4 921.5L1954.6 928.6" stroke="#20d08a" stroke-width="3.3" stroke-linecap="round" fill="none"/>
<rect x="1658" y="902" width="2.5" height="1" fill="#fff"/><rect x="1698" y="902" width="2" height="1" fill="#fff" fill-opacity="0.6"/><rect x="1755" y="902" width="2" height="1" fill="#fff" fill-opacity="0.3"/>
<rect x="1989" y="0" width="17" height="947" fill="#f1f1f1"/>
<rect x="1991" y="17" width="13" height="17" fill="#c1c1c1"/>
<path d="M1993.5 10.5L1997.5 6.5L2001.5 10.5Z" fill="#a3a3a3"/>
</svg>
</body></html>
